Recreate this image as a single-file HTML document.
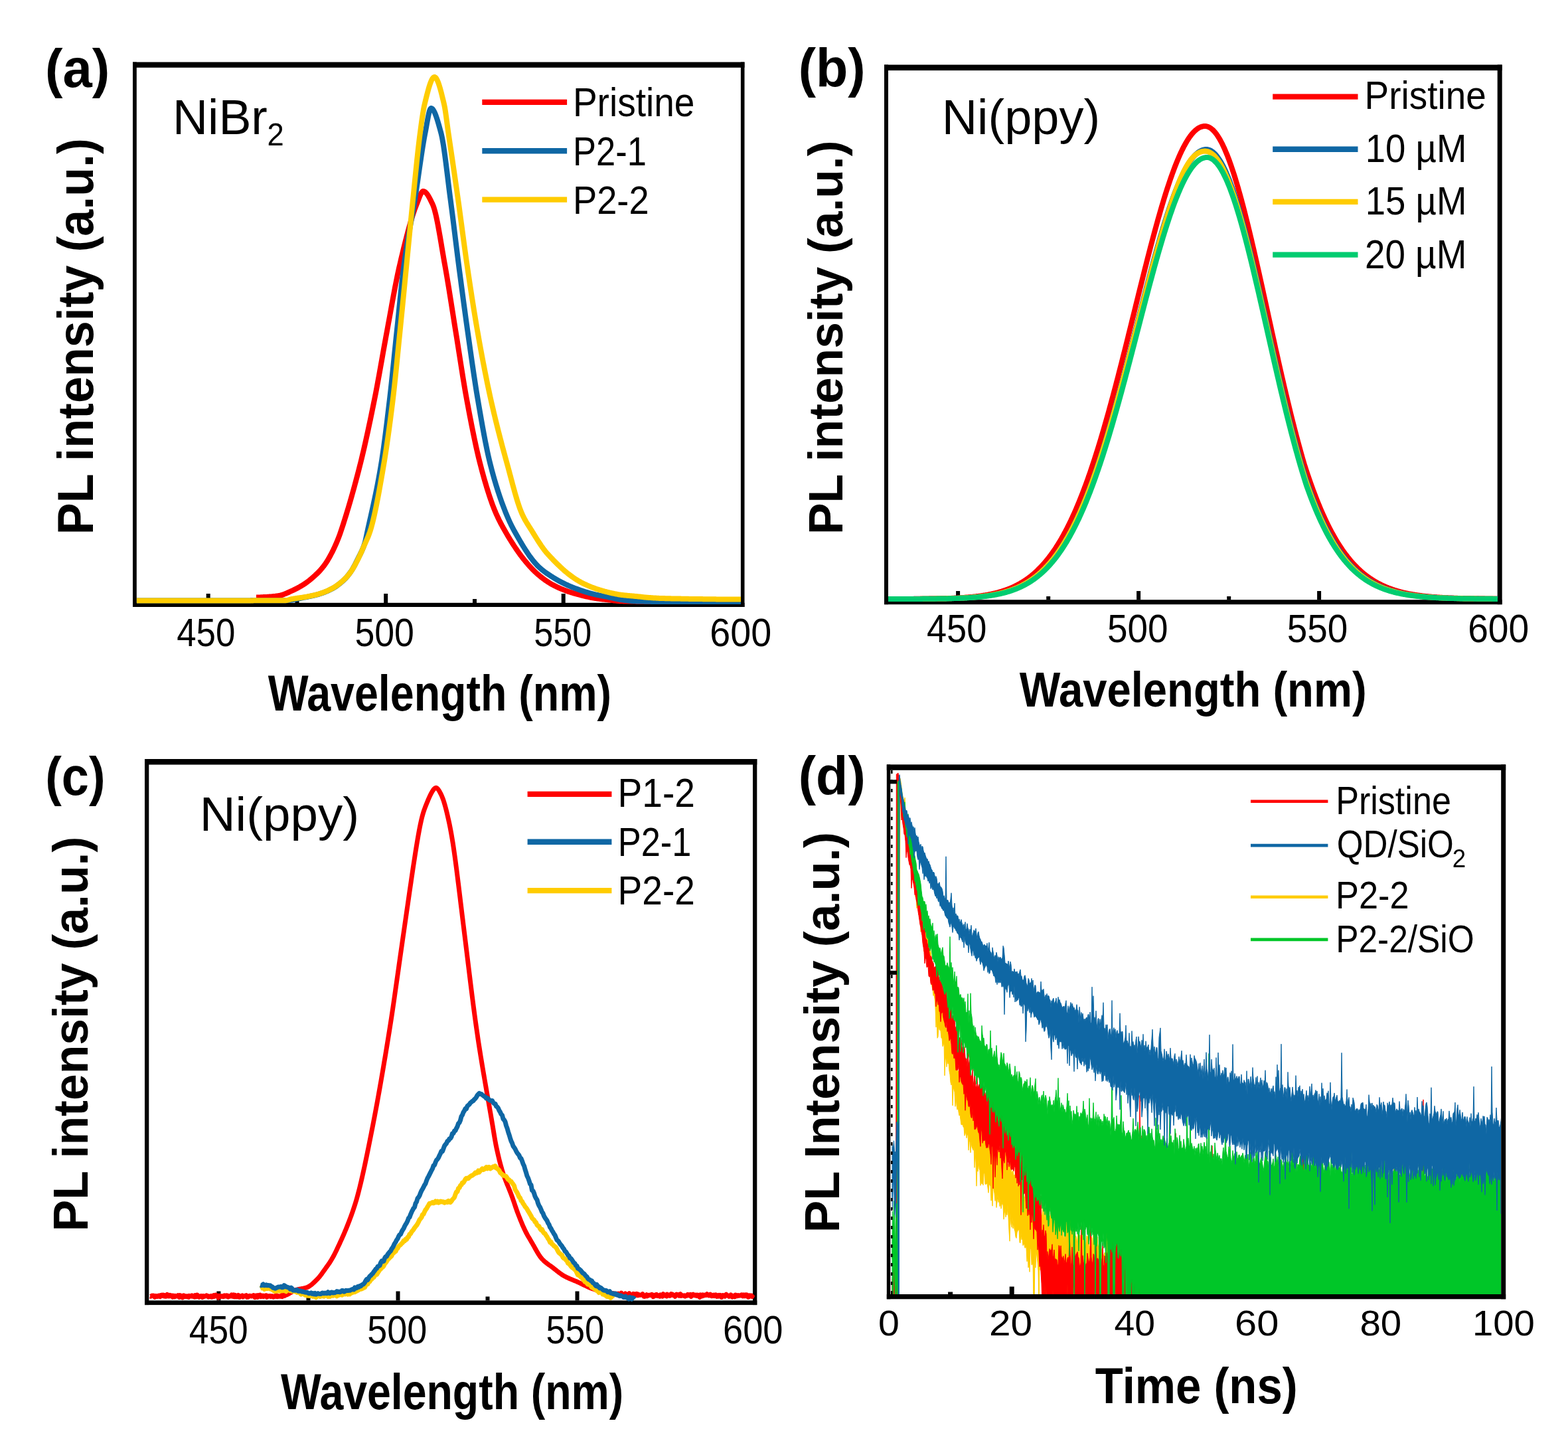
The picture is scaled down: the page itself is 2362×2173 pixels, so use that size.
<!DOCTYPE html>
<html><head><meta charset="utf-8"><title>PL spectra figure</title><style>html,body{margin:0;padding:0;background:#fff;}svg{display:block;}</style></head><body>
<svg width="2362" height="2173" viewBox="0 0 2362 2173" font-family='"Liberation Sans", Arial, sans-serif' font-size="100"><rect x="200.00" y="93.50" width="921.50" height="8.30" fill="#000"/>
<rect x="200.00" y="907.80" width="921.50" height="6.20" fill="#000"/>
<rect x="200.00" y="93.50" width="5.80" height="820.50" fill="#000"/>
<rect x="1115.90" y="93.50" width="5.60" height="820.50" fill="#000"/>
<rect x="310.70" y="894.00" width="6.00" height="14.50" fill="#000"/>
<rect x="578.20" y="894.00" width="6.00" height="14.50" fill="#000"/>
<rect x="845.70" y="894.00" width="6.00" height="14.50" fill="#000"/>
<rect x="444.50" y="902.00" width="6.00" height="6.50" fill="#000"/>
<rect x="712.00" y="902.00" width="6.00" height="6.50" fill="#000"/>
<path d="M386.0 899.5 L387.0 899.5 L388.0 899.5 L389.0 899.4 L390.0 899.4 L391.0 899.4 L392.0 899.4 L393.0 899.3 L394.0 899.3 L395.0 899.2 L396.0 899.2 L397.0 899.1 L398.0 899.1 L399.0 899.1 L400.0 899.0 L401.0 898.9 L402.0 898.9 L403.0 898.8 L404.0 898.8 L405.0 898.7 L406.0 898.6 L407.0 898.6 L408.0 898.5 L409.0 898.4 L410.0 898.3 L411.0 898.2 L412.0 898.1 L413.0 898.0 L414.0 897.9 L415.0 897.8 L416.0 897.6 L417.0 897.5 L418.0 897.4 L419.0 897.2 L420.0 897.1 L421.0 896.9 L422.0 896.7 L423.0 896.5 L424.0 896.2 L425.0 895.9 L426.0 895.6 L427.0 895.2 L428.0 894.8 L429.0 894.4 L430.0 894.0 L431.0 893.6 L432.0 893.2 L433.0 892.7 L434.0 892.3 L435.0 891.8 L436.0 891.3 L437.0 890.9 L438.0 890.4 L439.0 890.0 L440.0 889.5 L441.0 889.1 L442.0 888.6 L443.0 888.1 L444.0 887.6 L445.0 887.1 L446.0 886.6 L447.0 886.1 L448.0 885.6 L449.0 885.1 L450.0 884.5 L451.0 884.0 L452.0 883.4 L453.0 882.8 L454.0 882.2 L455.0 881.6 L456.0 881.0 L457.0 880.4 L458.0 879.7 L459.0 879.1 L460.0 878.4 L461.0 877.7 L462.0 877.0 L463.0 876.3 L464.0 875.5 L465.0 874.8 L466.0 874.0 L467.0 873.2 L468.0 872.4 L469.0 871.5 L470.0 870.7 L471.0 869.8 L472.0 868.9 L473.0 868.0 L474.0 867.1 L475.0 866.2 L476.0 865.2 L477.0 864.3 L478.0 863.3 L479.0 862.3 L480.0 861.3 L481.0 860.3 L482.0 859.2 L483.0 858.1 L484.0 856.9 L485.0 855.8 L486.0 854.5 L487.0 853.3 L488.0 852.0 L489.0 850.6 L490.0 849.2 L491.0 847.8 L492.0 846.2 L493.0 844.7 L494.0 843.0 L495.0 841.3 L496.0 839.6 L497.0 837.8 L498.0 835.9 L499.0 834.0 L500.0 832.1 L501.0 830.2 L502.0 828.1 L503.0 826.0 L504.0 823.9 L505.0 821.7 L506.0 819.4 L507.0 817.1 L508.0 814.7 L509.0 812.2 L510.0 809.7 L511.0 807.1 L512.0 804.4 L513.0 801.5 L514.0 798.5 L515.0 795.5 L516.0 792.5 L517.0 789.4 L518.0 786.3 L519.0 783.1 L520.0 779.9 L521.0 776.7 L522.0 773.5 L523.0 770.2 L524.0 766.9 L525.0 763.6 L526.0 760.2 L527.0 756.8 L528.0 753.3 L529.0 749.9 L530.0 746.4 L531.0 742.8 L532.0 739.2 L533.0 735.6 L534.0 732.0 L535.0 728.3 L536.0 724.6 L537.0 720.8 L538.0 717.1 L539.0 713.2 L540.0 709.4 L541.0 705.5 L542.0 701.6 L543.0 697.6 L544.0 693.6 L545.0 689.5 L546.0 685.3 L547.0 681.1 L548.0 676.8 L549.0 672.5 L550.0 668.1 L551.0 663.7 L552.0 659.2 L553.0 654.6 L554.0 650.1 L555.0 645.4 L556.0 640.7 L557.0 636.0 L558.0 631.3 L559.0 626.5 L560.0 621.6 L561.0 616.8 L562.0 611.9 L563.0 606.9 L564.0 602.0 L565.0 597.0 L566.0 591.9 L567.0 586.7 L568.0 581.4 L569.0 576.0 L570.0 570.6 L571.0 565.1 L572.0 559.5 L573.0 553.9 L574.0 548.3 L575.0 542.7 L576.0 537.0 L577.0 531.4 L578.0 525.8 L579.0 520.2 L580.0 514.7 L581.0 509.2 L582.0 503.8 L583.0 498.4 L584.0 493.0 L585.0 487.6 L586.0 482.1 L587.0 476.6 L588.0 471.1 L589.0 465.6 L590.0 460.0 L591.0 454.6 L592.0 449.1 L593.0 443.7 L594.0 438.4 L595.0 433.1 L596.0 428.0 L597.0 422.9 L598.0 418.0 L599.0 413.1 L600.0 408.5 L601.0 403.9 L602.0 399.6 L603.0 395.3 L604.0 391.0 L605.0 386.8 L606.0 382.6 L607.0 378.5 L608.0 374.3 L609.0 370.3 L610.0 366.3 L611.0 362.3 L612.0 358.4 L613.0 354.5 L614.0 350.7 L615.0 347.0 L616.0 343.4 L617.0 339.8 L618.0 336.3 L619.0 332.9 L620.0 329.6 L621.0 326.4 L622.0 323.2 L623.0 320.2 L624.0 317.3 L625.0 314.5 L626.0 311.8 L627.0 309.2 L628.0 306.8 L629.0 304.1 L630.0 301.5 L631.0 298.8 L632.0 296.2 L633.0 293.9 L634.0 291.8 L635.0 290.1 L636.0 288.8 L637.0 288.1 L638.0 288.0 L639.0 288.3 L640.0 288.8 L641.0 289.6 L642.0 290.6 L643.0 291.8 L644.0 293.1 L645.0 294.7 L646.0 296.4 L647.0 298.2 L648.0 300.1 L649.0 302.1 L650.0 304.2 L651.0 306.3 L652.0 308.4 L653.0 311.0 L654.0 314.0 L655.0 317.5 L656.0 321.4 L657.0 325.7 L658.0 330.3 L659.0 335.3 L660.0 340.5 L661.0 345.9 L662.0 351.6 L663.0 357.3 L664.0 363.2 L665.0 369.1 L666.0 375.1 L667.0 381.0 L668.0 386.9 L669.0 392.7 L670.0 398.3 L671.0 403.9 L672.0 409.6 L673.0 415.4 L674.0 421.3 L675.0 427.3 L676.0 433.4 L677.0 439.6 L678.0 445.9 L679.0 452.1 L680.0 458.5 L681.0 464.8 L682.0 471.1 L683.0 477.5 L684.0 483.8 L685.0 490.1 L686.0 496.3 L687.0 502.5 L688.0 508.7 L689.0 515.0 L690.0 521.4 L691.0 527.8 L692.0 534.2 L693.0 540.6 L694.0 547.0 L695.0 553.4 L696.0 559.7 L697.0 566.0 L698.0 572.1 L699.0 578.2 L700.0 584.2 L701.0 590.0 L702.0 595.6 L703.0 601.1 L704.0 606.5 L705.0 611.8 L706.0 617.2 L707.0 622.4 L708.0 627.7 L709.0 632.8 L710.0 638.0 L711.0 643.0 L712.0 648.0 L713.0 652.9 L714.0 657.8 L715.0 662.5 L716.0 667.2 L717.0 671.8 L718.0 676.3 L719.0 680.7 L720.0 685.0 L721.0 689.2 L722.0 693.3 L723.0 697.3 L724.0 701.1 L725.0 704.9 L726.0 708.7 L727.0 712.4 L728.0 716.0 L729.0 719.6 L730.0 723.1 L731.0 726.5 L732.0 729.9 L733.0 733.3 L734.0 736.5 L735.0 739.7 L736.0 742.9 L737.0 746.0 L738.0 749.0 L739.0 751.9 L740.0 754.8 L741.0 757.6 L742.0 760.3 L743.0 762.9 L744.0 765.5 L745.0 768.0 L746.0 770.4 L747.0 772.8 L748.0 775.0 L749.0 777.2 L750.0 779.4 L751.0 781.4 L752.0 783.5 L753.0 785.4 L754.0 787.4 L755.0 789.3 L756.0 791.1 L757.0 793.0 L758.0 794.8 L759.0 796.5 L760.0 798.3 L761.0 800.0 L762.0 801.8 L763.0 803.5 L764.0 805.2 L765.0 806.9 L766.0 808.6 L767.0 810.2 L768.0 811.9 L769.0 813.5 L770.0 815.1 L771.0 816.7 L772.0 818.3 L773.0 819.8 L774.0 821.4 L775.0 822.9 L776.0 824.4 L777.0 825.9 L778.0 827.3 L779.0 828.8 L780.0 830.2 L781.0 831.6 L782.0 833.0 L783.0 834.4 L784.0 835.8 L785.0 837.1 L786.0 838.4 L787.0 839.7 L788.0 841.0 L789.0 842.3 L790.0 843.5 L791.0 844.7 L792.0 845.9 L793.0 847.1 L794.0 848.3 L795.0 849.5 L796.0 850.6 L797.0 851.7 L798.0 852.9 L799.0 853.9 L800.0 855.0 L801.0 856.1 L802.0 857.1 L803.0 858.2 L804.0 859.2 L805.0 860.1 L806.0 861.1 L807.0 862.0 L808.0 863.0 L809.0 863.9 L810.0 864.7 L811.0 865.6 L812.0 866.4 L813.0 867.2 L814.0 868.1 L815.0 868.9 L816.0 869.6 L817.0 870.4 L818.0 871.2 L819.0 871.9 L820.0 872.7 L821.0 873.4 L822.0 874.1 L823.0 874.8 L824.0 875.4 L825.0 876.1 L826.0 876.8 L827.0 877.4 L828.0 878.0 L829.0 878.6 L830.0 879.2 L831.0 879.8 L832.0 880.3 L833.0 880.9 L834.0 881.4 L835.0 881.9 L836.0 882.4 L837.0 882.9 L838.0 883.4 L839.0 883.9 L840.0 884.4 L841.0 884.8 L842.0 885.3 L843.0 885.7 L844.0 886.2 L845.0 886.6 L846.0 887.0 L847.0 887.4 L848.0 887.8 L849.0 888.2 L850.0 888.6 L851.0 889.0 L852.0 889.3 L853.0 889.7 L854.0 890.1 L855.0 890.4 L856.0 890.8 L857.0 891.1 L858.0 891.4 L859.0 891.7 L860.0 892.1 L861.0 892.4 L862.0 892.7 L863.0 893.0 L864.0 893.3 L865.0 893.6 L866.0 893.8 L867.0 894.1 L868.0 894.4 L869.0 894.7 L870.0 895.0 L871.0 895.2 L872.0 895.5 L873.0 895.7 L874.0 896.0 L875.0 896.3 L876.0 896.5 L877.0 896.8 L878.0 897.0 L879.0 897.3 L880.0 897.5 L881.0 897.8 L882.0 898.0 L883.0 898.3 L884.0 898.5 L885.0 898.7 L886.0 898.9 L887.0 899.2 L888.0 899.4 L889.0 899.6 L890.0 899.8 L891.0 900.0 L892.0 900.2 L893.0 900.3 L894.0 900.5 L895.0 900.7 L896.0 900.8 L897.0 901.0 L898.0 901.1 L899.0 901.3 L900.0 901.4 L901.0 901.5 L902.0 901.7 L903.0 901.8 L904.0 901.9 L905.0 902.0 L906.0 902.2 L907.0 902.3 L908.0 902.4 L909.0 902.5 L910.0 902.6 L911.0 902.7 L912.0 902.8 L913.0 902.9 L914.0 903.0 L915.0 903.2 L916.0 903.3 L917.0 903.4 L918.0 903.5 L919.0 903.6 L920.0 903.8 L921.0 903.9 L922.0 904.0 L923.0 904.1 L924.0 904.3 L925.0 904.4 L926.0 904.5 L927.0 904.6 L928.0 904.7 L929.0 904.8 L930.0 904.9 L931.0 905.0 L932.0 905.1 L933.0 905.2 L934.0 905.2 L935.0 905.3 L936.0 905.3 L937.0 905.3 L938.0 905.3 L939.0 905.4 L940.0 905.4 L941.0 905.4 L942.0 905.4 L943.0 905.4 L944.0 905.5 L945.0 905.5 L946.0 905.5 L947.0 905.5 L948.0 905.5 L949.0 905.5 L950.0 905.6 L951.0 905.6 L952.0 905.6 L953.0 905.6 L954.0 905.6 L955.0 905.6 L956.0 905.6 L957.0 905.6 L958.0 905.7 L959.0 905.7 L960.0 905.7 L961.0 905.7 L962.0 905.7 L963.0 905.7 L964.0 905.7 L965.0 905.7 L966.0 905.7 L967.0 905.7 L968.0 905.7 L969.0 905.7 L970.0 905.8 L971.0 905.8 L972.0 905.8 L973.0 905.8 L974.0 905.8 L975.0 905.8 L976.0 905.8 L977.0 905.8 L978.0 905.8 L979.0 905.8 L980.0 905.8 L981.0 905.8 L982.0 905.8 L983.0 905.8 L984.0 905.8 L985.0 905.8 L986.0 905.8 L987.0 905.8 L988.0 905.8 L989.0 905.8 L990.0 905.8 L991.0 905.8 L992.0 905.8 L993.0 905.8 L994.0 905.8 L995.0 905.8 L996.0 905.8 L997.0 905.8 L998.0 905.9 L999.0 905.9 L1000.0 905.9 L1001.0 905.9 L1002.0 905.9 L1003.0 905.9 L1004.0 905.9 L1005.0 905.9 L1006.0 905.9 L1007.0 905.9 L1008.0 905.9 L1009.0 905.9 L1010.0 905.9 L1011.0 905.9 L1012.0 905.9 L1013.0 905.9 L1014.0 905.9 L1015.0 905.9 L1016.0 905.9 L1017.0 905.9 L1018.0 905.9 L1019.0 905.9 L1020.0 905.9 L1021.0 905.9 L1022.0 905.9 L1023.0 905.9 L1024.0 905.9 L1025.0 905.9 L1026.0 905.9 L1027.0 905.9 L1028.0 905.9 L1029.0 905.9 L1030.0 905.9 L1031.0 905.9 L1032.0 905.9 L1033.0 905.9 L1034.0 905.9 L1035.0 905.9 L1036.0 905.9 L1037.0 905.9 L1038.0 905.9 L1039.0 905.9 L1040.0 905.9 L1041.0 905.9 L1042.0 905.9 L1043.0 905.9 L1044.0 905.9 L1045.0 905.9 L1046.0 905.9 L1047.0 905.9 L1048.0 906.0 L1049.0 906.0 L1050.0 906.0 L1051.0 906.0 L1052.0 906.0 L1053.0 906.0 L1054.0 906.0 L1055.0 906.0 L1056.0 906.0 L1057.0 906.0 L1058.0 906.0 L1059.0 906.0 L1060.0 906.0 L1061.0 906.0 L1062.0 906.0 L1063.0 906.0 L1064.0 906.0 L1065.0 906.0 L1066.0 906.0 L1067.0 906.0 L1068.0 906.0 L1069.0 906.0 L1070.0 906.0 L1071.0 906.0 L1072.0 906.0 L1073.0 906.0 L1074.0 906.0 L1075.0 906.0 L1076.0 906.0 L1077.0 906.0 L1078.0 906.0 L1079.0 906.0 L1080.0 906.0 L1081.0 906.0 L1082.0 906.0 L1083.0 906.0 L1084.0 906.0 L1085.0 906.0 L1086.0 906.0 L1087.0 906.0 L1088.0 906.0 L1089.0 906.0 L1090.0 906.0 L1091.0 906.0 L1092.0 906.0 L1093.0 906.0 L1094.0 906.0 L1095.0 906.0 L1096.0 906.0 L1097.0 906.0 L1098.0 906.0 L1099.0 906.0 L1100.0 906.0 L1101.0 906.0 L1102.0 906.0 L1103.0 906.0 L1104.0 906.0 L1105.0 906.0 L1106.0 906.0 L1107.0 906.0 L1108.0 906.0 L1109.0 906.0 L1110.0 906.0 L1111.0 906.0 L1112.0 906.0 L1113.0 906.0 L1114.0 906.0 L1115.0 906.0 L1116.0 906.0" fill="none" stroke="#FF0000" stroke-width="8" stroke-linejoin="round" stroke-linecap="butt"/>
<path d="M206.0 904.5 L207.0 904.5 L208.0 904.5 L209.0 904.5 L210.0 904.5 L211.0 904.5 L212.0 904.5 L213.0 904.5 L214.0 904.5 L215.0 904.5 L216.0 904.5 L217.0 904.5 L218.0 904.5 L219.0 904.5 L220.0 904.5 L221.0 904.5 L222.0 904.5 L223.0 904.5 L224.0 904.5 L225.0 904.5 L226.0 904.5 L227.0 904.5 L228.0 904.5 L229.0 904.5 L230.0 904.5 L231.0 904.5 L232.0 904.5 L233.0 904.5 L234.0 904.5 L235.0 904.5 L236.0 904.5 L237.0 904.5 L238.0 904.5 L239.0 904.5 L240.0 904.5 L241.0 904.5 L242.0 904.5 L243.0 904.5 L244.0 904.5 L245.0 904.5 L246.0 904.5 L247.0 904.5 L248.0 904.5 L249.0 904.5 L250.0 904.5 L251.0 904.5 L252.0 904.5 L253.0 904.5 L254.0 904.5 L255.0 904.5 L256.0 904.5 L257.0 904.5 L258.0 904.5 L259.0 904.5 L260.0 904.5 L261.0 904.5 L262.0 904.5 L263.0 904.5 L264.0 904.5 L265.0 904.5 L266.0 904.5 L267.0 904.5 L268.0 904.5 L269.0 904.5 L270.0 904.5 L271.0 904.5 L272.0 904.5 L273.0 904.5 L274.0 904.5 L275.0 904.5 L276.0 904.5 L277.0 904.5 L278.0 904.5 L279.0 904.5 L280.0 904.5 L281.0 904.5 L282.0 904.5 L283.0 904.5 L284.0 904.5 L285.0 904.5 L286.0 904.5 L287.0 904.5 L288.0 904.5 L289.0 904.5 L290.0 904.5 L291.0 904.5 L292.0 904.5 L293.0 904.5 L294.0 904.5 L295.0 904.5 L296.0 904.5 L297.0 904.5 L298.0 904.5 L299.0 904.5 L300.0 904.5 L301.0 904.5 L302.0 904.5 L303.0 904.5 L304.0 904.5 L305.0 904.5 L306.0 904.5 L307.0 904.5 L308.0 904.5 L309.0 904.5 L310.0 904.5 L311.0 904.5 L312.0 904.5 L313.0 904.5 L314.0 904.5 L315.0 904.5 L316.0 904.5 L317.0 904.5 L318.0 904.4 L319.0 904.4 L320.0 904.4 L321.0 904.4 L322.0 904.4 L323.0 904.4 L324.0 904.4 L325.0 904.4 L326.0 904.4 L327.0 904.4 L328.0 904.4 L329.0 904.4 L330.0 904.4 L331.0 904.4 L332.0 904.4 L333.0 904.4 L334.0 904.4 L335.0 904.4 L336.0 904.4 L337.0 904.4 L338.0 904.4 L339.0 904.4 L340.0 904.4 L341.0 904.4 L342.0 904.4 L343.0 904.4 L344.0 904.4 L345.0 904.4 L346.0 904.4 L347.0 904.4 L348.0 904.4 L349.0 904.4 L350.0 904.4 L351.0 904.4 L352.0 904.4 L353.0 904.4 L354.0 904.4 L355.0 904.4 L356.0 904.4 L357.0 904.4 L358.0 904.4 L359.0 904.4 L360.0 904.4 L361.0 904.4 L362.0 904.4 L363.0 904.4 L364.0 904.4 L365.0 904.4 L366.0 904.4 L367.0 904.4 L368.0 904.4 L369.0 904.4 L370.0 904.4 L371.0 904.4 L372.0 904.4 L373.0 904.4 L374.0 904.4 L375.0 904.4 L376.0 904.4 L377.0 904.4 L378.0 904.3 L379.0 904.3 L380.0 904.3 L381.0 904.3 L382.0 904.3 L383.0 904.3 L384.0 904.3 L385.0 904.3 L386.0 904.3 L387.0 904.3 L388.0 904.3 L389.0 904.3 L390.0 904.3 L391.0 904.3 L392.0 904.3 L393.0 904.3 L394.0 904.3 L395.0 904.3 L396.0 904.3 L397.0 904.3 L398.0 904.3 L399.0 904.3 L400.0 904.3 L401.0 904.3 L402.0 904.3 L403.0 904.3 L404.0 904.3 L405.0 904.3 L406.0 904.3 L407.0 904.3 L408.0 904.3 L409.0 904.3 L410.0 904.3 L411.0 904.3 L412.0 904.3 L413.0 904.3 L414.0 904.3 L415.0 904.3 L416.0 904.2 L417.0 904.2 L418.0 904.2 L419.0 904.2 L420.0 904.2 L421.0 904.2 L422.0 904.2 L423.0 904.2 L424.0 904.2 L425.0 904.2 L426.0 904.2 L427.0 904.2 L428.0 904.2 L429.0 904.2 L430.0 904.2 L431.0 904.2 L432.0 904.2 L433.0 904.1 L434.0 904.0 L435.0 904.0 L436.0 903.9 L437.0 903.8 L438.0 903.6 L439.0 903.5 L440.0 903.3 L441.0 903.2 L442.0 903.0 L443.0 902.8 L444.0 902.7 L445.0 902.5 L446.0 902.3 L447.0 902.1 L448.0 901.9 L449.0 901.6 L450.0 901.4 L451.0 901.2 L452.0 901.0 L453.0 900.8 L454.0 900.6 L455.0 900.4 L456.0 900.1 L457.0 899.9 L458.0 899.7 L459.0 899.5 L460.0 899.3 L461.0 899.2 L462.0 899.0 L463.0 898.8 L464.0 898.6 L465.0 898.4 L466.0 898.2 L467.0 898.0 L468.0 897.7 L469.0 897.5 L470.0 897.3 L471.0 897.1 L472.0 896.9 L473.0 896.6 L474.0 896.4 L475.0 896.1 L476.0 895.9 L477.0 895.6 L478.0 895.4 L479.0 895.1 L480.0 894.8 L481.0 894.5 L482.0 894.2 L483.0 893.9 L484.0 893.5 L485.0 893.2 L486.0 892.8 L487.0 892.5 L488.0 892.1 L489.0 891.7 L490.0 891.3 L491.0 890.9 L492.0 890.5 L493.0 890.1 L494.0 889.6 L495.0 889.2 L496.0 888.7 L497.0 888.2 L498.0 887.7 L499.0 887.2 L500.0 886.7 L501.0 886.1 L502.0 885.6 L503.0 885.0 L504.0 884.4 L505.0 883.7 L506.0 883.1 L507.0 882.4 L508.0 881.7 L509.0 880.9 L510.0 880.2 L511.0 879.4 L512.0 878.6 L513.0 877.8 L514.0 876.9 L515.0 876.1 L516.0 875.2 L517.0 874.3 L518.0 873.3 L519.0 872.4 L520.0 871.4 L521.0 870.4 L522.0 869.3 L523.0 868.1 L524.0 866.9 L525.0 865.6 L526.0 864.3 L527.0 863.0 L528.0 861.6 L529.0 860.1 L530.0 858.6 L531.0 857.0 L532.0 855.3 L533.0 853.5 L534.0 851.7 L535.0 849.8 L536.0 847.8 L537.0 845.9 L538.0 843.8 L539.0 841.8 L540.0 839.8 L541.0 837.8 L542.0 835.9 L543.0 833.9 L544.0 831.8 L545.0 829.7 L546.0 827.4 L547.0 825.0 L548.0 822.3 L549.0 819.4 L550.0 816.1 L551.0 811.8 L552.0 807.2 L553.0 802.3 L554.0 797.7 L555.0 793.2 L556.0 788.7 L557.0 784.2 L558.0 779.8 L559.0 775.3 L560.0 770.9 L561.0 766.4 L562.0 761.8 L563.0 757.2 L564.0 752.6 L565.0 747.9 L566.0 743.1 L567.0 738.2 L568.0 733.2 L569.0 728.0 L570.0 722.7 L571.0 717.3 L572.0 711.7 L573.0 706.0 L574.0 700.0 L575.0 693.8 L576.0 687.2 L577.0 680.4 L578.0 673.3 L579.0 665.9 L580.0 658.3 L581.0 650.5 L582.0 642.5 L583.0 634.4 L584.0 626.1 L585.0 617.8 L586.0 609.3 L587.0 600.9 L588.0 592.2 L589.0 583.2 L590.0 573.8 L591.0 564.3 L592.0 554.6 L593.0 544.8 L594.0 534.9 L595.0 525.1 L596.0 515.3 L597.0 505.7 L598.0 496.2 L599.0 486.6 L600.0 476.8 L601.0 467.0 L602.0 457.1 L603.0 447.3 L604.0 437.7 L605.0 428.4 L606.0 419.5 L607.0 411.0 L608.0 403.0 L609.0 395.6 L610.0 388.6 L611.0 381.8 L612.0 375.4 L613.0 369.2 L614.0 363.1 L615.0 357.3 L616.0 351.5 L617.0 345.9 L618.0 340.3 L619.0 334.7 L620.0 329.2 L621.0 323.6 L622.0 317.9 L623.0 312.1 L624.0 306.1 L625.0 300.0 L626.0 293.7 L627.0 287.1 L628.0 280.4 L629.0 273.6 L630.0 266.7 L631.0 259.7 L632.0 252.8 L633.0 245.9 L634.0 239.1 L635.0 232.4 L636.0 225.9 L637.0 219.7 L638.0 213.6 L639.0 207.9 L640.0 202.5 L641.0 197.4 L642.0 192.0 L643.0 186.3 L644.0 180.8 L645.0 175.5 L646.0 170.8 L647.0 167.0 L648.0 164.4 L649.0 163.1 L650.0 163.1 L651.0 163.7 L652.0 164.7 L653.0 166.1 L654.0 167.9 L655.0 170.0 L656.0 172.5 L657.0 175.2 L658.0 178.1 L659.0 181.3 L660.0 184.6 L661.0 188.0 L662.0 191.6 L663.0 195.2 L664.0 198.9 L665.0 202.8 L666.0 207.5 L667.0 212.9 L668.0 218.9 L669.0 225.6 L670.0 232.7 L671.0 240.2 L672.0 248.0 L673.0 256.0 L674.0 264.1 L675.0 272.3 L676.0 280.4 L677.0 288.4 L678.0 296.2 L679.0 303.8 L680.0 311.4 L681.0 319.2 L682.0 327.1 L683.0 335.1 L684.0 343.2 L685.0 351.3 L686.0 359.4 L687.0 367.5 L688.0 375.6 L689.0 383.6 L690.0 391.5 L691.0 399.2 L692.0 406.9 L693.0 414.5 L694.0 422.1 L695.0 429.7 L696.0 437.2 L697.0 444.7 L698.0 452.2 L699.0 459.6 L700.0 466.9 L701.0 474.2 L702.0 481.5 L703.0 488.6 L704.0 495.8 L705.0 502.8 L706.0 509.9 L707.0 516.9 L708.0 524.0 L709.0 531.0 L710.0 538.0 L711.0 545.0 L712.0 551.8 L713.0 558.6 L714.0 565.3 L715.0 571.9 L716.0 578.4 L717.0 584.8 L718.0 591.0 L719.0 597.0 L720.0 602.9 L721.0 608.8 L722.0 614.6 L723.0 620.4 L724.0 626.2 L725.0 631.9 L726.0 637.5 L727.0 643.1 L728.0 648.5 L729.0 653.9 L730.0 659.2 L731.0 664.4 L732.0 669.4 L733.0 674.4 L734.0 679.2 L735.0 683.8 L736.0 688.3 L737.0 692.6 L738.0 696.8 L739.0 700.8 L740.0 704.6 L741.0 708.4 L742.0 712.1 L743.0 715.8 L744.0 719.3 L745.0 722.8 L746.0 726.2 L747.0 729.6 L748.0 732.8 L749.0 736.0 L750.0 739.2 L751.0 742.2 L752.0 745.3 L753.0 748.2 L754.0 751.1 L755.0 754.0 L756.0 756.8 L757.0 759.5 L758.0 762.2 L759.0 764.8 L760.0 767.4 L761.0 770.0 L762.0 772.5 L763.0 774.9 L764.0 777.3 L765.0 779.6 L766.0 781.9 L767.0 784.1 L768.0 786.3 L769.0 788.4 L770.0 790.5 L771.0 792.5 L772.0 794.4 L773.0 796.3 L774.0 798.2 L775.0 800.0 L776.0 801.8 L777.0 803.6 L778.0 805.3 L779.0 807.1 L780.0 808.8 L781.0 810.6 L782.0 812.3 L783.0 814.0 L784.0 815.7 L785.0 817.4 L786.0 819.1 L787.0 820.7 L788.0 822.4 L789.0 824.0 L790.0 825.6 L791.0 827.2 L792.0 828.7 L793.0 830.3 L794.0 831.8 L795.0 833.3 L796.0 834.7 L797.0 836.2 L798.0 837.6 L799.0 839.0 L800.0 840.3 L801.0 841.6 L802.0 842.9 L803.0 844.2 L804.0 845.4 L805.0 846.6 L806.0 847.8 L807.0 848.9 L808.0 850.0 L809.0 851.1 L810.0 852.1 L811.0 853.1 L812.0 854.0 L813.0 855.0 L814.0 855.9 L815.0 856.7 L816.0 857.6 L817.0 858.4 L818.0 859.2 L819.0 860.0 L820.0 860.7 L821.0 861.5 L822.0 862.2 L823.0 862.9 L824.0 863.6 L825.0 864.3 L826.0 864.9 L827.0 865.6 L828.0 866.3 L829.0 866.9 L830.0 867.6 L831.0 868.2 L832.0 868.8 L833.0 869.5 L834.0 870.1 L835.0 870.7 L836.0 871.3 L837.0 871.9 L838.0 872.5 L839.0 873.1 L840.0 873.6 L841.0 874.2 L842.0 874.8 L843.0 875.3 L844.0 875.9 L845.0 876.4 L846.0 876.9 L847.0 877.4 L848.0 877.9 L849.0 878.4 L850.0 878.9 L851.0 879.4 L852.0 879.9 L853.0 880.3 L854.0 880.8 L855.0 881.2 L856.0 881.7 L857.0 882.1 L858.0 882.5 L859.0 883.0 L860.0 883.4 L861.0 883.8 L862.0 884.2 L863.0 884.6 L864.0 885.0 L865.0 885.4 L866.0 885.8 L867.0 886.1 L868.0 886.5 L869.0 886.9 L870.0 887.2 L871.0 887.6 L872.0 887.9 L873.0 888.3 L874.0 888.6 L875.0 889.0 L876.0 889.3 L877.0 889.7 L878.0 890.0 L879.0 890.3 L880.0 890.6 L881.0 891.0 L882.0 891.3 L883.0 891.6 L884.0 891.9 L885.0 892.2 L886.0 892.5 L887.0 892.8 L888.0 893.1 L889.0 893.4 L890.0 893.6 L891.0 893.9 L892.0 894.2 L893.0 894.4 L894.0 894.7 L895.0 894.9 L896.0 895.2 L897.0 895.4 L898.0 895.6 L899.0 895.8 L900.0 896.0 L901.0 896.2 L902.0 896.4 L903.0 896.6 L904.0 896.8 L905.0 897.0 L906.0 897.2 L907.0 897.4 L908.0 897.6 L909.0 897.8 L910.0 898.0 L911.0 898.1 L912.0 898.3 L913.0 898.5 L914.0 898.7 L915.0 898.9 L916.0 899.1 L917.0 899.3 L918.0 899.5 L919.0 899.8 L920.0 900.0 L921.0 900.2 L922.0 900.4 L923.0 900.6 L924.0 900.9 L925.0 901.1 L926.0 901.3 L927.0 901.5 L928.0 901.7 L929.0 901.9 L930.0 902.1 L931.0 902.3 L932.0 902.5 L933.0 902.7 L934.0 902.9 L935.0 903.0 L936.0 903.2 L937.0 903.3 L938.0 903.4 L939.0 903.6 L940.0 903.7 L941.0 903.8 L942.0 904.0 L943.0 904.1 L944.0 904.2 L945.0 904.3 L946.0 904.4 L947.0 904.5 L948.0 904.7 L949.0 904.8 L950.0 904.8 L951.0 904.9 L952.0 905.0 L953.0 905.1 L954.0 905.2 L955.0 905.2 L956.0 905.3 L957.0 905.3 L958.0 905.3 L959.0 905.4 L960.0 905.4 L961.0 905.4 L962.0 905.4 L963.0 905.5 L964.0 905.5 L965.0 905.5 L966.0 905.5 L967.0 905.6 L968.0 905.6 L969.0 905.6 L970.0 905.6 L971.0 905.7 L972.0 905.7 L973.0 905.7 L974.0 905.7 L975.0 905.7 L976.0 905.8 L977.0 905.8 L978.0 905.8 L979.0 905.8 L980.0 905.8 L981.0 905.9 L982.0 905.9 L983.0 905.9 L984.0 905.9 L985.0 905.9 L986.0 905.9 L987.0 905.9 L988.0 905.9 L989.0 905.9 L990.0 906.0 L991.0 906.0 L992.0 906.0 L993.0 906.0 L994.0 906.0 L995.0 906.0 L996.0 906.0 L997.0 906.0 L998.0 906.0 L999.0 906.0 L1000.0 906.0 L1001.0 906.0 L1002.0 906.0 L1003.0 906.0 L1004.0 906.0 L1005.0 906.0 L1006.0 906.0 L1007.0 906.0 L1008.0 906.0 L1009.0 906.0 L1010.0 906.0 L1011.0 906.0 L1012.0 906.0 L1013.0 906.0 L1014.0 906.0 L1015.0 906.0 L1016.0 906.0 L1017.0 906.0 L1018.0 906.0 L1019.0 906.0 L1020.0 906.0 L1021.0 906.0 L1022.0 906.0 L1023.0 906.0 L1024.0 906.0 L1025.0 906.0 L1026.0 906.0 L1027.0 906.0 L1028.0 906.0 L1029.0 906.0 L1030.0 906.0 L1031.0 906.0 L1032.0 906.0 L1033.0 906.0 L1034.0 906.0 L1035.0 906.0 L1036.0 906.0 L1037.0 906.0 L1038.0 906.0 L1039.0 906.0 L1040.0 906.0 L1041.0 906.0 L1042.0 906.0 L1043.0 906.0 L1044.0 906.0 L1045.0 906.0 L1046.0 906.0 L1047.0 906.0 L1048.0 906.0 L1049.0 906.0 L1050.0 906.0 L1051.0 906.0 L1052.0 906.0 L1053.0 906.0 L1054.0 906.0 L1055.0 906.0 L1056.0 906.0 L1057.0 906.0 L1058.0 906.0 L1059.0 906.0 L1060.0 906.0 L1061.0 906.0 L1062.0 906.0 L1063.0 906.0 L1064.0 906.0 L1065.0 906.0 L1066.0 906.0 L1067.0 906.0 L1068.0 906.0 L1069.0 906.0 L1070.0 906.0 L1071.0 906.0 L1072.0 906.0 L1073.0 906.0 L1074.0 906.0 L1075.0 906.0 L1076.0 906.0 L1077.0 906.0 L1078.0 906.0 L1079.0 906.0 L1080.0 906.0 L1081.0 906.0 L1082.0 906.0 L1083.0 906.0 L1084.0 906.0 L1085.0 906.0 L1086.0 906.0 L1087.0 906.0 L1088.0 906.0 L1089.0 906.0 L1090.0 906.0 L1091.0 906.0 L1092.0 906.0 L1093.0 906.0 L1094.0 906.0 L1095.0 906.0 L1096.0 906.0 L1097.0 906.0 L1098.0 906.0 L1099.0 906.0 L1100.0 906.0 L1101.0 906.0 L1102.0 906.0 L1103.0 906.0 L1104.0 906.0 L1105.0 906.0 L1106.0 906.0 L1107.0 906.0 L1108.0 906.0 L1109.0 906.0 L1110.0 906.0 L1111.0 906.0 L1112.0 906.0 L1113.0 906.0 L1114.0 906.0 L1115.0 906.0 L1116.0 906.0" fill="none" stroke="#0F67A4" stroke-width="8" stroke-linejoin="round" stroke-linecap="butt"/>
<path d="M206.0 904.5 L207.0 904.5 L208.0 904.5 L209.0 904.5 L210.0 904.5 L211.0 904.5 L212.0 904.5 L213.0 904.5 L214.0 904.5 L215.0 904.5 L216.0 904.5 L217.0 904.5 L218.0 904.5 L219.0 904.5 L220.0 904.5 L221.0 904.5 L222.0 904.5 L223.0 904.5 L224.0 904.5 L225.0 904.5 L226.0 904.5 L227.0 904.5 L228.0 904.5 L229.0 904.5 L230.0 904.5 L231.0 904.5 L232.0 904.5 L233.0 904.5 L234.0 904.5 L235.0 904.5 L236.0 904.5 L237.0 904.5 L238.0 904.5 L239.0 904.5 L240.0 904.5 L241.0 904.5 L242.0 904.5 L243.0 904.5 L244.0 904.5 L245.0 904.5 L246.0 904.5 L247.0 904.5 L248.0 904.5 L249.0 904.5 L250.0 904.5 L251.0 904.5 L252.0 904.5 L253.0 904.5 L254.0 904.5 L255.0 904.5 L256.0 904.5 L257.0 904.5 L258.0 904.5 L259.0 904.5 L260.0 904.5 L261.0 904.5 L262.0 904.5 L263.0 904.5 L264.0 904.5 L265.0 904.5 L266.0 904.5 L267.0 904.5 L268.0 904.5 L269.0 904.5 L270.0 904.5 L271.0 904.5 L272.0 904.5 L273.0 904.5 L274.0 904.5 L275.0 904.5 L276.0 904.5 L277.0 904.5 L278.0 904.5 L279.0 904.5 L280.0 904.5 L281.0 904.5 L282.0 904.5 L283.0 904.5 L284.0 904.5 L285.0 904.5 L286.0 904.5 L287.0 904.5 L288.0 904.5 L289.0 904.5 L290.0 904.5 L291.0 904.5 L292.0 904.5 L293.0 904.5 L294.0 904.5 L295.0 904.5 L296.0 904.5 L297.0 904.5 L298.0 904.5 L299.0 904.5 L300.0 904.5 L301.0 904.5 L302.0 904.5 L303.0 904.5 L304.0 904.5 L305.0 904.5 L306.0 904.5 L307.0 904.5 L308.0 904.5 L309.0 904.5 L310.0 904.5 L311.0 904.5 L312.0 904.5 L313.0 904.5 L314.0 904.5 L315.0 904.5 L316.0 904.5 L317.0 904.5 L318.0 904.5 L319.0 904.5 L320.0 904.5 L321.0 904.5 L322.0 904.5 L323.0 904.5 L324.0 904.5 L325.0 904.4 L326.0 904.4 L327.0 904.4 L328.0 904.4 L329.0 904.4 L330.0 904.4 L331.0 904.4 L332.0 904.4 L333.0 904.4 L334.0 904.4 L335.0 904.4 L336.0 904.4 L337.0 904.4 L338.0 904.4 L339.0 904.4 L340.0 904.4 L341.0 904.4 L342.0 904.4 L343.0 904.4 L344.0 904.4 L345.0 904.4 L346.0 904.4 L347.0 904.4 L348.0 904.4 L349.0 904.4 L350.0 904.4 L351.0 904.4 L352.0 904.4 L353.0 904.4 L354.0 904.4 L355.0 904.4 L356.0 904.4 L357.0 904.4 L358.0 904.4 L359.0 904.4 L360.0 904.4 L361.0 904.4 L362.0 904.4 L363.0 904.4 L364.0 904.4 L365.0 904.4 L366.0 904.4 L367.0 904.4 L368.0 904.4 L369.0 904.4 L370.0 904.4 L371.0 904.4 L372.0 904.4 L373.0 904.4 L374.0 904.4 L375.0 904.4 L376.0 904.4 L377.0 904.4 L378.0 904.4 L379.0 904.4 L380.0 904.4 L381.0 904.4 L382.0 904.3 L383.0 904.3 L384.0 904.3 L385.0 904.3 L386.0 904.3 L387.0 904.3 L388.0 904.3 L389.0 904.3 L390.0 904.3 L391.0 904.3 L392.0 904.3 L393.0 904.3 L394.0 904.3 L395.0 904.3 L396.0 904.3 L397.0 904.3 L398.0 904.3 L399.0 904.3 L400.0 904.3 L401.0 904.3 L402.0 904.3 L403.0 904.3 L404.0 904.3 L405.0 904.3 L406.0 904.3 L407.0 904.3 L408.0 904.3 L409.0 904.3 L410.0 904.3 L411.0 904.3 L412.0 904.3 L413.0 904.3 L414.0 904.3 L415.0 904.3 L416.0 904.3 L417.0 904.2 L418.0 904.2 L419.0 904.2 L420.0 904.2 L421.0 904.2 L422.0 904.2 L423.0 904.2 L424.0 904.2 L425.0 904.2 L426.0 904.2 L427.0 904.2 L428.0 904.2 L429.0 904.2 L430.0 904.2 L431.0 904.1 L432.0 904.0 L433.0 903.8 L434.0 903.6 L435.0 903.3 L436.0 903.0 L437.0 902.7 L438.0 902.4 L439.0 902.2 L440.0 902.0 L441.0 901.8 L442.0 901.6 L443.0 901.5 L444.0 901.3 L445.0 901.1 L446.0 901.0 L447.0 900.9 L448.0 900.7 L449.0 900.6 L450.0 900.5 L451.0 900.3 L452.0 900.2 L453.0 900.0 L454.0 899.9 L455.0 899.8 L456.0 899.6 L457.0 899.5 L458.0 899.3 L459.0 899.1 L460.0 898.9 L461.0 898.8 L462.0 898.6 L463.0 898.4 L464.0 898.2 L465.0 898.0 L466.0 897.8 L467.0 897.6 L468.0 897.4 L469.0 897.2 L470.0 897.0 L471.0 896.8 L472.0 896.5 L473.0 896.3 L474.0 896.1 L475.0 895.8 L476.0 895.6 L477.0 895.3 L478.0 895.0 L479.0 894.8 L480.0 894.5 L481.0 894.2 L482.0 893.9 L483.0 893.6 L484.0 893.2 L485.0 892.9 L486.0 892.6 L487.0 892.2 L488.0 891.8 L489.0 891.4 L490.0 891.0 L491.0 890.6 L492.0 890.2 L493.0 889.8 L494.0 889.3 L495.0 888.9 L496.0 888.4 L497.0 887.9 L498.0 887.4 L499.0 886.9 L500.0 886.4 L501.0 885.8 L502.0 885.3 L503.0 884.7 L504.0 884.1 L505.0 883.4 L506.0 882.8 L507.0 882.1 L508.0 881.4 L509.0 880.6 L510.0 879.9 L511.0 879.1 L512.0 878.3 L513.0 877.5 L514.0 876.6 L515.0 875.8 L516.0 874.9 L517.0 874.0 L518.0 873.1 L519.0 872.2 L520.0 871.2 L521.0 870.2 L522.0 869.1 L523.0 868.0 L524.0 866.9 L525.0 865.6 L526.0 864.4 L527.0 863.0 L528.0 861.7 L529.0 860.3 L530.0 858.8 L531.0 857.3 L532.0 855.6 L533.0 853.9 L534.0 852.1 L535.0 850.3 L536.0 848.4 L537.0 846.5 L538.0 844.6 L539.0 842.6 L540.0 840.6 L541.0 838.5 L542.0 836.4 L543.0 834.3 L544.0 832.1 L545.0 829.8 L546.0 827.5 L547.0 825.2 L548.0 822.9 L549.0 820.6 L550.0 818.3 L551.0 816.1 L552.0 813.9 L553.0 811.7 L554.0 809.4 L555.0 806.9 L556.0 804.3 L557.0 801.5 L558.0 798.4 L559.0 795.1 L560.0 791.5 L561.0 787.7 L562.0 783.7 L563.0 779.5 L564.0 775.1 L565.0 770.5 L566.0 765.8 L567.0 760.9 L568.0 755.8 L569.0 750.7 L570.0 745.4 L571.0 740.0 L572.0 734.5 L573.0 728.9 L574.0 723.2 L575.0 717.5 L576.0 711.7 L577.0 705.9 L578.0 700.0 L579.0 694.0 L580.0 687.9 L581.0 681.5 L582.0 674.9 L583.0 668.2 L584.0 661.3 L585.0 654.2 L586.0 646.9 L587.0 639.5 L588.0 631.9 L589.0 624.1 L590.0 616.2 L591.0 608.2 L592.0 600.0 L593.0 591.5 L594.0 582.6 L595.0 573.4 L596.0 563.8 L597.0 554.1 L598.0 544.1 L599.0 534.1 L600.0 524.0 L601.0 513.9 L602.0 504.0 L603.0 494.1 L604.0 484.1 L605.0 474.1 L606.0 464.0 L607.0 453.9 L608.0 443.8 L609.0 433.6 L610.0 423.4 L611.0 413.2 L612.0 403.0 L613.0 392.9 L614.0 382.6 L615.0 372.3 L616.0 361.9 L617.0 351.5 L618.0 341.2 L619.0 331.0 L620.0 320.8 L621.0 310.8 L622.0 301.0 L623.0 291.2 L624.0 281.3 L625.0 271.4 L626.0 261.6 L627.0 251.8 L628.0 242.2 L629.0 232.9 L630.0 223.8 L631.0 215.2 L632.0 207.0 L633.0 199.3 L634.0 191.8 L635.0 184.4 L636.0 177.4 L637.0 170.8 L638.0 164.8 L639.0 159.6 L640.0 155.4 L641.0 151.3 L642.0 147.3 L643.0 143.3 L644.0 139.4 L645.0 135.7 L646.0 132.2 L647.0 129.0 L648.0 126.0 L649.0 123.3 L650.0 121.0 L651.0 119.0 L652.0 117.6 L653.0 116.5 L654.0 116.0 L655.0 116.1 L656.0 116.7 L657.0 117.8 L658.0 119.5 L659.0 121.5 L660.0 123.9 L661.0 126.7 L662.0 129.8 L663.0 133.2 L664.0 136.8 L665.0 140.6 L666.0 144.6 L667.0 148.7 L668.0 152.8 L669.0 157.0 L670.0 161.9 L671.0 168.0 L672.0 175.0 L673.0 182.4 L674.0 189.9 L675.0 197.2 L676.0 204.1 L677.0 210.8 L678.0 217.6 L679.0 224.4 L680.0 231.1 L681.0 237.9 L682.0 244.7 L683.0 251.5 L684.0 258.3 L685.0 265.2 L686.0 272.1 L687.0 279.0 L688.0 286.0 L689.0 293.0 L690.0 300.0 L691.0 307.1 L692.0 314.4 L693.0 321.7 L694.0 329.2 L695.0 336.6 L696.0 344.1 L697.0 351.6 L698.0 359.1 L699.0 366.5 L700.0 373.8 L701.0 381.1 L702.0 388.2 L703.0 395.2 L704.0 402.0 L705.0 408.8 L706.0 415.5 L707.0 422.2 L708.0 428.8 L709.0 435.4 L710.0 441.9 L711.0 448.3 L712.0 454.7 L713.0 461.0 L714.0 467.3 L715.0 473.4 L716.0 479.5 L717.0 485.5 L718.0 491.4 L719.0 497.1 L720.0 502.8 L721.0 508.5 L722.0 514.1 L723.0 519.6 L724.0 525.1 L725.0 530.5 L726.0 535.9 L727.0 541.2 L728.0 546.4 L729.0 551.6 L730.0 556.8 L731.0 561.8 L732.0 566.8 L733.0 571.8 L734.0 576.7 L735.0 581.5 L736.0 586.2 L737.0 590.9 L738.0 595.5 L739.0 600.0 L740.0 604.5 L741.0 608.9 L742.0 613.2 L743.0 617.5 L744.0 621.8 L745.0 625.9 L746.0 630.1 L747.0 634.2 L748.0 638.3 L749.0 642.3 L750.0 646.3 L751.0 650.2 L752.0 654.1 L753.0 658.0 L754.0 661.8 L755.0 665.6 L756.0 669.4 L757.0 673.2 L758.0 676.9 L759.0 680.6 L760.0 684.3 L761.0 688.0 L762.0 691.6 L763.0 695.3 L764.0 698.9 L765.0 702.5 L766.0 706.2 L767.0 709.9 L768.0 713.7 L769.0 717.4 L770.0 721.2 L771.0 724.9 L772.0 728.7 L773.0 732.4 L774.0 736.0 L775.0 739.6 L776.0 743.2 L777.0 746.6 L778.0 750.0 L779.0 753.3 L780.0 756.5 L781.0 759.6 L782.0 762.6 L783.0 765.4 L784.0 768.1 L785.0 770.6 L786.0 773.0 L787.0 775.2 L788.0 777.3 L789.0 779.3 L790.0 781.2 L791.0 783.0 L792.0 784.8 L793.0 786.5 L794.0 788.1 L795.0 789.8 L796.0 791.3 L797.0 792.9 L798.0 794.5 L799.0 796.0 L800.0 797.6 L801.0 799.2 L802.0 800.8 L803.0 802.4 L804.0 804.1 L805.0 805.7 L806.0 807.3 L807.0 808.9 L808.0 810.5 L809.0 812.1 L810.0 813.7 L811.0 815.2 L812.0 816.8 L813.0 818.3 L814.0 819.8 L815.0 821.3 L816.0 822.7 L817.0 824.1 L818.0 825.5 L819.0 826.9 L820.0 828.2 L821.0 829.5 L822.0 830.7 L823.0 832.0 L824.0 833.1 L825.0 834.3 L826.0 835.4 L827.0 836.4 L828.0 837.5 L829.0 838.6 L830.0 839.6 L831.0 840.7 L832.0 841.7 L833.0 842.8 L834.0 843.8 L835.0 844.8 L836.0 845.8 L837.0 846.8 L838.0 847.8 L839.0 848.8 L840.0 849.8 L841.0 850.8 L842.0 851.7 L843.0 852.7 L844.0 853.6 L845.0 854.6 L846.0 855.5 L847.0 856.5 L848.0 857.4 L849.0 858.3 L850.0 859.2 L851.0 860.1 L852.0 860.9 L853.0 861.7 L854.0 862.5 L855.0 863.3 L856.0 864.1 L857.0 864.9 L858.0 865.6 L859.0 866.4 L860.0 867.1 L861.0 867.9 L862.0 868.6 L863.0 869.3 L864.0 870.0 L865.0 870.7 L866.0 871.4 L867.0 872.0 L868.0 872.7 L869.0 873.3 L870.0 873.9 L871.0 874.5 L872.0 875.1 L873.0 875.7 L874.0 876.2 L875.0 876.8 L876.0 877.3 L877.0 877.8 L878.0 878.3 L879.0 878.8 L880.0 879.3 L881.0 879.8 L882.0 880.2 L883.0 880.7 L884.0 881.2 L885.0 881.6 L886.0 882.0 L887.0 882.5 L888.0 882.9 L889.0 883.3 L890.0 883.7 L891.0 884.1 L892.0 884.5 L893.0 884.8 L894.0 885.2 L895.0 885.6 L896.0 885.9 L897.0 886.3 L898.0 886.6 L899.0 887.0 L900.0 887.3 L901.0 887.6 L902.0 887.9 L903.0 888.3 L904.0 888.6 L905.0 888.9 L906.0 889.2 L907.0 889.5 L908.0 889.8 L909.0 890.0 L910.0 890.3 L911.0 890.6 L912.0 890.8 L913.0 891.1 L914.0 891.4 L915.0 891.6 L916.0 891.8 L917.0 892.1 L918.0 892.3 L919.0 892.6 L920.0 892.8 L921.0 893.0 L922.0 893.3 L923.0 893.5 L924.0 893.7 L925.0 893.9 L926.0 894.1 L927.0 894.3 L928.0 894.5 L929.0 894.7 L930.0 894.9 L931.0 895.1 L932.0 895.3 L933.0 895.4 L934.0 895.6 L935.0 895.7 L936.0 895.9 L937.0 896.0 L938.0 896.1 L939.0 896.2 L940.0 896.3 L941.0 896.4 L942.0 896.5 L943.0 896.6 L944.0 896.7 L945.0 896.8 L946.0 896.9 L947.0 897.0 L948.0 897.1 L949.0 897.2 L950.0 897.3 L951.0 897.3 L952.0 897.4 L953.0 897.5 L954.0 897.6 L955.0 897.7 L956.0 897.8 L957.0 897.9 L958.0 898.0 L959.0 898.1 L960.0 898.2 L961.0 898.3 L962.0 898.4 L963.0 898.5 L964.0 898.6 L965.0 898.7 L966.0 898.8 L967.0 898.9 L968.0 899.1 L969.0 899.2 L970.0 899.3 L971.0 899.4 L972.0 899.5 L973.0 899.6 L974.0 899.7 L975.0 899.8 L976.0 899.8 L977.0 899.9 L978.0 900.0 L979.0 900.1 L980.0 900.1 L981.0 900.2 L982.0 900.3 L983.0 900.3 L984.0 900.4 L985.0 900.5 L986.0 900.5 L987.0 900.6 L988.0 900.6 L989.0 900.7 L990.0 900.7 L991.0 900.8 L992.0 900.8 L993.0 900.9 L994.0 900.9 L995.0 901.0 L996.0 901.0 L997.0 901.0 L998.0 901.1 L999.0 901.1 L1000.0 901.1 L1001.0 901.1 L1002.0 901.2 L1003.0 901.2 L1004.0 901.2 L1005.0 901.2 L1006.0 901.3 L1007.0 901.3 L1008.0 901.3 L1009.0 901.3 L1010.0 901.3 L1011.0 901.4 L1012.0 901.4 L1013.0 901.4 L1014.0 901.4 L1015.0 901.4 L1016.0 901.5 L1017.0 901.5 L1018.0 901.5 L1019.0 901.5 L1020.0 901.5 L1021.0 901.6 L1022.0 901.6 L1023.0 901.6 L1024.0 901.6 L1025.0 901.6 L1026.0 901.7 L1027.0 901.7 L1028.0 901.7 L1029.0 901.7 L1030.0 901.7 L1031.0 901.7 L1032.0 901.8 L1033.0 901.8 L1034.0 901.8 L1035.0 901.8 L1036.0 901.8 L1037.0 901.8 L1038.0 901.9 L1039.0 901.9 L1040.0 901.9 L1041.0 901.9 L1042.0 901.9 L1043.0 901.9 L1044.0 902.0 L1045.0 902.0 L1046.0 902.0 L1047.0 902.0 L1048.0 902.0 L1049.0 902.0 L1050.0 902.0 L1051.0 902.1 L1052.0 902.1 L1053.0 902.1 L1054.0 902.1 L1055.0 902.1 L1056.0 902.1 L1057.0 902.1 L1058.0 902.1 L1059.0 902.2 L1060.0 902.2 L1061.0 902.2 L1062.0 902.2 L1063.0 902.2 L1064.0 902.2 L1065.0 902.2 L1066.0 902.2 L1067.0 902.2 L1068.0 902.3 L1069.0 902.3 L1070.0 902.3 L1071.0 902.3 L1072.0 902.3 L1073.0 902.3 L1074.0 902.3 L1075.0 902.3 L1076.0 902.3 L1077.0 902.3 L1078.0 902.3 L1079.0 902.4 L1080.0 902.4 L1081.0 902.4 L1082.0 902.4 L1083.0 902.4 L1084.0 902.4 L1085.0 902.4 L1086.0 902.4 L1087.0 902.4 L1088.0 902.4 L1089.0 902.4 L1090.0 902.4 L1091.0 902.4 L1092.0 902.4 L1093.0 902.4 L1094.0 902.4 L1095.0 902.5 L1096.0 902.5 L1097.0 902.5 L1098.0 902.5 L1099.0 902.5 L1100.0 902.5 L1101.0 902.5 L1102.0 902.5 L1103.0 902.5 L1104.0 902.5 L1105.0 902.5 L1106.0 902.5 L1107.0 902.5 L1108.0 902.5 L1109.0 902.5 L1110.0 902.5 L1111.0 902.5 L1112.0 902.5 L1113.0 902.5 L1114.0 902.5 L1115.0 902.5 L1116.0 902.5" fill="none" stroke="#FFCC00" stroke-width="8" stroke-linejoin="round" stroke-linecap="butt"/>
<line x1="726.30" y1="153.90" x2="854.10" y2="153.90" stroke="#FF0000" stroke-width="8.4" stroke-linecap="butt"/>
<line x1="726.30" y1="227.30" x2="854.10" y2="227.30" stroke="#0F67A4" stroke-width="8.4" stroke-linecap="butt"/>
<line x1="726.30" y1="300.60" x2="854.10" y2="300.60" stroke="#FFCC00" stroke-width="8.4" stroke-linecap="butt"/>
<text transform="translate(862.90 174.70) scale(0.5505 0.6058)" font-weight="normal" fill="#000">Pristine</text>
<text transform="translate(863.10 248.80) scale(0.5247 0.6058)" font-weight="normal" fill="#000">P2-1</text>
<text transform="translate(862.96 321.60) scale(0.5429 0.5884)" font-weight="normal" fill="#000">P2-2</text>
<text transform="translate(260.02 202.20) scale(0.7346 0.7362)" font-weight="normal" fill="#000">NiBr</text>
<text transform="translate(402.53 218.60) scale(0.4543 0.4757)" font-weight="normal" fill="#000">2</text>
<text transform="translate(67.92 130.51) scale(0.7964 0.8138)" font-weight="bold" fill="#000">(a)</text>
<text transform="translate(266.14 973.40) scale(0.5286 0.5986)" font-weight="normal" fill="#000">450</text>
<text transform="translate(534.45 973.40) scale(0.5365 0.5986)" font-weight="normal" fill="#000">500</text>
<text transform="translate(804.31 973.40) scale(0.5214 0.5986)" font-weight="normal" fill="#000">550</text>
<text transform="translate(1069.22 973.40) scale(0.5570 0.5986)" font-weight="normal" fill="#000">600</text>
<text transform="translate(403.70 1069.80) scale(0.6453 0.7565)" font-weight="bold" fill="#000">Wavelength (nm)</text>
<text transform="translate(139.70 805.23) rotate(-90) scale(0.7183 0.7638)" font-weight="bold">PL intensity (a.u.)</text>
<rect x="1332.00" y="97.50" width="930.70" height="8.60" fill="#000"/>
<rect x="1332.00" y="903.20" width="930.70" height="7.00" fill="#000"/>
<rect x="1332.00" y="97.50" width="6.00" height="812.70" fill="#000"/>
<rect x="2255.70" y="97.50" width="7.00" height="812.70" fill="#000"/>
<rect x="1440.10" y="890.00" width="6.00" height="13.50" fill="#000"/>
<rect x="1712.10" y="890.00" width="6.00" height="13.50" fill="#000"/>
<rect x="1984.10" y="890.00" width="6.00" height="13.50" fill="#000"/>
<rect x="1576.20" y="898.00" width="6.00" height="5.50" fill="#000"/>
<rect x="1848.20" y="898.00" width="6.00" height="5.50" fill="#000"/>
<path d="M1338.0 902.0 L1339.0 902.0 L1340.0 902.0 L1341.0 902.0 L1342.0 902.0 L1343.0 902.0 L1344.0 902.0 L1345.0 902.0 L1346.0 902.0 L1347.0 902.0 L1348.0 902.0 L1349.0 902.0 L1350.0 901.9 L1351.0 901.9 L1352.0 901.9 L1353.0 901.9 L1354.0 901.9 L1355.0 901.9 L1356.0 901.9 L1357.0 901.9 L1358.0 901.9 L1359.0 901.9 L1360.0 901.9 L1361.0 901.9 L1362.0 901.9 L1363.0 901.9 L1364.0 901.9 L1365.0 901.9 L1366.0 901.9 L1367.0 901.9 L1368.0 901.9 L1369.0 901.9 L1370.0 901.9 L1371.0 901.9 L1372.0 901.9 L1373.0 901.9 L1374.0 901.9 L1375.0 901.9 L1376.0 901.9 L1377.0 901.8 L1378.0 901.8 L1379.0 901.8 L1380.0 901.8 L1381.0 901.8 L1382.0 901.8 L1383.0 901.8 L1384.0 901.8 L1385.0 901.8 L1386.0 901.8 L1387.0 901.8 L1388.0 901.8 L1389.0 901.8 L1390.0 901.8 L1391.0 901.7 L1392.0 901.7 L1393.0 901.7 L1394.0 901.7 L1395.0 901.7 L1396.0 901.7 L1397.0 901.7 L1398.0 901.7 L1399.0 901.7 L1400.0 901.6 L1401.0 901.6 L1402.0 901.6 L1403.0 901.6 L1404.0 901.6 L1405.0 901.6 L1406.0 901.6 L1407.0 901.5 L1408.0 901.5 L1409.0 901.5 L1410.0 901.5 L1411.0 901.5 L1412.0 901.4 L1413.0 901.4 L1414.0 901.4 L1415.0 901.4 L1416.0 901.4 L1417.0 901.3 L1418.0 901.3 L1419.0 901.3 L1420.0 901.3 L1421.0 901.2 L1422.0 901.2 L1423.0 901.2 L1424.0 901.2 L1425.0 901.1 L1426.0 901.1 L1427.0 901.1 L1428.0 901.0 L1429.0 901.0 L1430.0 901.0 L1431.0 900.9 L1432.0 900.9 L1433.0 900.9 L1434.0 900.8 L1435.0 900.8 L1436.0 900.7 L1437.0 900.7 L1438.0 900.6 L1439.0 900.6 L1440.0 900.6 L1441.0 900.5 L1442.0 900.5 L1443.0 900.4 L1444.0 900.4 L1445.0 900.3 L1446.0 900.2 L1447.0 900.2 L1448.0 900.1 L1449.0 900.1 L1450.0 900.0 L1451.0 899.9 L1452.0 899.9 L1453.0 899.8 L1454.0 899.7 L1455.0 899.6 L1456.0 899.6 L1457.0 899.5 L1458.0 899.4 L1459.0 899.3 L1460.0 899.2 L1461.0 899.2 L1462.0 899.1 L1463.0 899.0 L1464.0 898.9 L1465.0 898.8 L1466.0 898.7 L1467.0 898.6 L1468.0 898.5 L1469.0 898.4 L1470.0 898.3 L1471.0 898.1 L1472.0 898.0 L1473.0 897.9 L1474.0 897.8 L1475.0 897.6 L1476.0 897.5 L1477.0 897.4 L1478.0 897.2 L1479.0 897.1 L1480.0 896.9 L1481.0 896.8 L1482.0 896.6 L1483.0 896.5 L1484.0 896.3 L1485.0 896.1 L1486.0 896.0 L1487.0 895.8 L1488.0 895.6 L1489.0 895.4 L1490.0 895.2 L1491.0 895.0 L1492.0 894.8 L1493.0 894.6 L1494.0 894.4 L1495.0 894.2 L1496.0 894.0 L1497.0 893.7 L1498.0 893.5 L1499.0 893.3 L1500.0 893.0 L1501.0 892.8 L1502.0 892.5 L1503.0 892.3 L1504.0 892.0 L1505.0 891.7 L1506.0 891.4 L1507.0 891.1 L1508.0 890.8 L1509.0 890.5 L1510.0 890.2 L1511.0 889.9 L1512.0 889.6 L1513.0 889.2 L1514.0 888.9 L1515.0 888.5 L1516.0 888.2 L1517.0 887.8 L1518.0 887.4 L1519.0 887.0 L1520.0 886.6 L1521.0 886.2 L1522.0 885.8 L1523.0 885.4 L1524.0 885.0 L1525.0 884.5 L1526.0 884.1 L1527.0 883.6 L1528.0 883.1 L1529.0 882.7 L1530.0 882.2 L1531.0 881.7 L1532.0 881.1 L1533.0 880.6 L1534.0 880.1 L1535.0 879.5 L1536.0 879.0 L1537.0 878.4 L1538.0 877.8 L1539.0 877.2 L1540.0 876.6 L1541.0 876.0 L1542.0 875.4 L1543.0 874.7 L1544.0 874.0 L1545.0 873.4 L1546.0 872.7 L1547.0 872.0 L1548.0 871.3 L1549.0 870.5 L1550.0 869.8 L1551.0 869.0 L1552.0 868.3 L1553.0 867.5 L1554.0 866.7 L1555.0 865.8 L1556.0 865.0 L1557.0 864.1 L1558.0 863.3 L1559.0 862.4 L1560.0 861.5 L1561.0 860.6 L1562.0 859.6 L1563.0 858.7 L1564.0 857.7 L1565.0 856.7 L1566.0 855.7 L1567.0 854.7 L1568.0 853.6 L1569.0 852.6 L1570.0 851.5 L1571.0 850.4 L1572.0 849.3 L1573.0 848.1 L1574.0 847.0 L1575.0 845.8 L1576.0 844.6 L1577.0 843.4 L1578.0 842.1 L1579.0 840.9 L1580.0 839.6 L1581.0 838.3 L1582.0 837.0 L1583.0 835.6 L1584.0 834.3 L1585.0 832.9 L1586.0 831.4 L1587.0 830.0 L1588.0 828.6 L1589.0 827.1 L1590.0 825.6 L1591.0 824.0 L1592.0 822.5 L1593.0 820.9 L1594.0 819.3 L1595.0 817.7 L1596.0 816.0 L1597.0 814.4 L1598.0 812.7 L1599.0 811.0 L1600.0 809.2 L1601.0 807.4 L1602.0 805.6 L1603.0 803.8 L1604.0 802.0 L1605.0 800.1 L1606.0 798.2 L1607.0 796.3 L1608.0 794.3 L1609.0 792.3 L1610.0 790.3 L1611.0 788.3 L1612.0 786.2 L1613.0 784.2 L1614.0 782.0 L1615.0 779.9 L1616.0 777.7 L1617.0 775.5 L1618.0 773.3 L1619.0 771.1 L1620.0 768.8 L1621.0 766.5 L1622.0 764.2 L1623.0 761.8 L1624.0 759.4 L1625.0 757.0 L1626.0 754.6 L1627.0 752.1 L1628.0 749.6 L1629.0 747.1 L1630.0 744.5 L1631.0 741.9 L1632.0 739.3 L1633.0 736.7 L1634.0 734.0 L1635.0 731.3 L1636.0 728.6 L1637.0 725.8 L1638.0 723.1 L1639.0 720.3 L1640.0 717.4 L1641.0 714.6 L1642.0 711.7 L1643.0 708.8 L1644.0 705.8 L1645.0 702.8 L1646.0 699.8 L1647.0 696.8 L1648.0 693.8 L1649.0 690.7 L1650.0 687.6 L1651.0 684.5 L1652.0 681.3 L1653.0 678.1 L1654.0 674.9 L1655.0 671.7 L1656.0 668.4 L1657.0 665.1 L1658.0 661.8 L1659.0 658.5 L1660.0 655.1 L1661.0 651.7 L1662.0 648.3 L1663.0 644.9 L1664.0 641.4 L1665.0 637.9 L1666.0 634.4 L1667.0 630.9 L1668.0 627.4 L1669.0 623.8 L1670.0 620.2 L1671.0 616.6 L1672.0 612.9 L1673.0 609.3 L1674.0 605.6 L1675.0 601.9 L1676.0 598.2 L1677.0 594.5 L1678.0 590.7 L1679.0 587.0 L1680.0 583.2 L1681.0 579.4 L1682.0 575.5 L1683.0 571.7 L1684.0 567.9 L1685.0 564.0 L1686.0 560.1 L1687.0 556.2 L1688.0 552.3 L1689.0 548.4 L1690.0 544.4 L1691.0 540.5 L1692.0 536.5 L1693.0 532.6 L1694.0 528.6 L1695.0 524.6 L1696.0 520.6 L1697.0 516.6 L1698.0 512.6 L1699.0 508.6 L1700.0 504.5 L1701.0 500.5 L1702.0 496.5 L1703.0 492.4 L1704.0 488.4 L1705.0 484.3 L1706.0 480.3 L1707.0 476.2 L1708.0 472.2 L1709.0 468.1 L1710.0 464.1 L1711.0 460.0 L1712.0 456.0 L1713.0 451.9 L1714.0 447.9 L1715.0 443.8 L1716.0 439.8 L1717.0 435.8 L1718.0 431.7 L1719.0 427.7 L1720.0 423.7 L1721.0 419.7 L1722.0 415.7 L1723.0 411.7 L1724.0 407.8 L1725.0 403.8 L1726.0 399.9 L1727.0 395.9 L1728.0 392.0 L1729.0 388.1 L1730.0 384.2 L1731.0 380.3 L1732.0 376.5 L1733.0 372.6 L1734.0 368.8 L1735.0 365.0 L1736.0 361.3 L1737.0 357.5 L1738.0 353.8 L1739.0 350.1 L1740.0 346.4 L1741.0 342.7 L1742.0 339.1 L1743.0 335.5 L1744.0 331.9 L1745.0 328.3 L1746.0 324.8 L1747.0 321.3 L1748.0 317.8 L1749.0 314.4 L1750.0 311.0 L1751.0 307.6 L1752.0 304.3 L1753.0 301.0 L1754.0 297.7 L1755.0 294.5 L1756.0 291.3 L1757.0 288.1 L1758.0 285.0 L1759.0 281.9 L1760.0 278.9 L1761.0 275.9 L1762.0 272.9 L1763.0 270.0 L1764.0 267.1 L1765.0 264.3 L1766.0 261.5 L1767.0 258.8 L1768.0 256.1 L1769.0 253.4 L1770.0 250.8 L1771.0 248.2 L1772.0 245.7 L1773.0 243.3 L1774.0 240.9 L1775.0 238.5 L1776.0 236.2 L1777.0 233.9 L1778.0 231.7 L1779.0 229.5 L1780.0 227.4 L1781.0 225.4 L1782.0 223.4 L1783.0 221.4 L1784.0 219.5 L1785.0 217.7 L1786.0 215.9 L1787.0 214.2 L1788.0 212.5 L1789.0 210.9 L1790.0 209.3 L1791.0 207.9 L1792.0 206.4 L1793.0 205.0 L1794.0 203.7 L1795.0 202.4 L1796.0 201.2 L1797.0 200.1 L1798.0 199.0 L1799.0 198.0 L1800.0 197.0 L1801.0 196.1 L1802.0 195.3 L1803.0 194.5 L1804.0 193.8 L1805.0 193.1 L1806.0 192.5 L1807.0 192.0 L1808.0 191.5 L1809.0 191.1 L1810.0 190.8 L1811.0 190.5 L1812.0 190.3 L1813.0 190.1 L1814.0 190.0 L1815.0 190.0 L1816.0 190.0 L1817.0 190.2 L1818.0 190.4 L1819.0 190.6 L1820.0 191.0 L1821.0 191.4 L1822.0 192.0 L1823.0 192.5 L1824.0 193.2 L1825.0 194.0 L1826.0 194.8 L1827.0 195.7 L1828.0 196.7 L1829.0 197.8 L1830.0 198.9 L1831.0 200.1 L1832.0 201.4 L1833.0 202.8 L1834.0 204.2 L1835.0 205.8 L1836.0 207.4 L1837.0 209.0 L1838.0 210.8 L1839.0 212.6 L1840.0 214.5 L1841.0 216.4 L1842.0 218.5 L1843.0 220.6 L1844.0 222.7 L1845.0 225.0 L1846.0 227.3 L1847.0 229.7 L1848.0 232.1 L1849.0 234.6 L1850.0 237.2 L1851.0 239.8 L1852.0 242.5 L1853.0 245.3 L1854.0 248.1 L1855.0 251.0 L1856.0 254.0 L1857.0 257.0 L1858.0 260.0 L1859.0 263.1 L1860.0 266.3 L1861.0 269.5 L1862.0 272.8 L1863.0 276.2 L1864.0 279.6 L1865.0 283.0 L1866.0 286.5 L1867.0 290.0 L1868.0 293.6 L1869.0 297.3 L1870.0 300.9 L1871.0 304.7 L1872.0 308.4 L1873.0 312.2 L1874.0 316.1 L1875.0 320.0 L1876.0 323.9 L1877.0 327.9 L1878.0 331.9 L1879.0 335.9 L1880.0 340.0 L1881.0 344.1 L1882.0 348.2 L1883.0 352.4 L1884.0 356.6 L1885.0 360.8 L1886.0 365.1 L1887.0 369.4 L1888.0 373.7 L1889.0 378.0 L1890.0 382.4 L1891.0 386.7 L1892.0 391.1 L1893.0 395.5 L1894.0 400.0 L1895.0 404.4 L1896.0 408.9 L1897.0 413.4 L1898.0 417.9 L1899.0 422.4 L1900.0 426.9 L1901.0 431.4 L1902.0 435.9 L1903.0 440.5 L1904.0 445.0 L1905.0 449.6 L1906.0 454.2 L1907.0 458.7 L1908.0 463.3 L1909.0 467.9 L1910.0 472.4 L1911.0 477.0 L1912.0 481.6 L1913.0 486.1 L1914.0 490.7 L1915.0 495.3 L1916.0 499.8 L1917.0 504.4 L1918.0 508.9 L1919.0 513.4 L1920.0 517.9 L1921.0 522.5 L1922.0 527.0 L1923.0 531.4 L1924.0 535.9 L1925.0 540.4 L1926.0 544.8 L1927.0 549.3 L1928.0 553.7 L1929.0 558.1 L1930.0 562.5 L1931.0 566.8 L1932.0 571.2 L1933.0 575.5 L1934.0 579.8 L1935.0 584.1 L1936.0 588.3 L1937.0 592.6 L1938.0 596.8 L1939.0 601.0 L1940.0 605.1 L1941.0 609.3 L1942.0 613.4 L1943.0 617.5 L1944.0 621.6 L1945.0 625.6 L1946.0 629.6 L1947.0 633.6 L1948.0 637.5 L1949.0 641.5 L1950.0 645.4 L1951.0 649.2 L1952.0 653.1 L1953.0 656.9 L1954.0 660.6 L1955.0 664.4 L1956.0 668.1 L1957.0 671.8 L1958.0 675.4 L1959.0 679.0 L1960.0 682.6 L1961.0 686.1 L1962.0 689.7 L1963.0 693.1 L1964.0 696.6 L1965.0 700.0 L1966.0 703.1 L1967.0 706.2 L1968.0 709.2 L1969.0 712.2 L1970.0 715.2 L1971.0 718.1 L1972.0 721.1 L1973.0 723.9 L1974.0 726.8 L1975.0 729.6 L1976.0 732.4 L1977.0 735.1 L1978.0 737.9 L1979.0 740.5 L1980.0 743.2 L1981.0 745.8 L1982.0 748.4 L1983.0 751.0 L1984.0 753.5 L1985.0 756.0 L1986.0 758.5 L1987.0 760.9 L1988.0 763.3 L1989.0 765.7 L1990.0 768.0 L1991.0 770.3 L1992.0 772.6 L1993.0 774.8 L1994.0 777.0 L1995.0 779.2 L1996.0 781.4 L1997.0 783.5 L1998.0 785.6 L1999.0 787.7 L2000.0 789.7 L2001.0 791.7 L2002.0 793.7 L2003.0 795.7 L2004.0 797.6 L2005.0 799.5 L2006.0 801.4 L2007.0 803.2 L2008.0 805.0 L2009.0 806.8 L2010.0 808.6 L2011.0 810.3 L2012.0 812.0 L2013.0 813.7 L2014.0 815.4 L2015.0 817.0 L2016.0 818.6 L2017.0 820.2 L2018.0 821.8 L2019.0 823.3 L2020.0 824.8 L2021.0 826.3 L2022.0 827.8 L2023.0 829.2 L2024.0 830.6 L2025.0 832.0 L2026.0 833.4 L2027.0 834.7 L2028.0 836.0 L2029.0 837.3 L2030.0 838.6 L2031.0 839.9 L2032.0 841.1 L2033.0 842.3 L2034.0 843.5 L2035.0 844.7 L2036.0 845.9 L2037.0 847.0 L2038.0 848.1 L2039.0 849.2 L2040.0 850.3 L2041.0 851.3 L2042.0 852.4 L2043.0 853.4 L2044.0 854.4 L2045.0 855.4 L2046.0 856.4 L2047.0 857.3 L2048.0 858.2 L2049.0 859.2 L2050.0 860.0 L2051.0 860.9 L2052.0 861.8 L2053.0 862.6 L2054.0 863.5 L2055.0 864.3 L2056.0 865.1 L2057.0 865.9 L2058.0 866.7 L2059.0 867.4 L2060.0 868.2 L2061.0 868.9 L2062.0 869.6 L2063.0 870.3 L2064.0 871.0 L2065.0 871.7 L2066.0 872.3 L2067.0 873.0 L2068.0 873.6 L2069.0 874.3 L2070.0 874.9 L2071.0 875.5 L2072.0 876.1 L2073.0 876.6 L2074.0 877.2 L2075.0 877.8 L2076.0 878.3 L2077.0 878.8 L2078.0 879.4 L2079.0 879.9 L2080.0 880.4 L2081.0 880.9 L2082.0 881.3 L2083.0 881.8 L2084.0 882.3 L2085.0 882.7 L2086.0 883.2 L2087.0 883.6 L2088.0 884.0 L2089.0 884.4 L2090.0 884.8 L2091.0 885.2 L2092.0 885.6 L2093.0 886.0 L2094.0 886.4 L2095.0 886.7 L2096.0 887.1 L2097.0 887.4 L2098.0 887.8 L2099.0 888.1 L2100.0 888.4 L2101.0 888.8 L2102.0 889.1 L2103.0 889.4 L2104.0 889.7 L2105.0 890.0 L2106.0 890.3 L2107.0 890.5 L2108.0 890.8 L2109.0 891.1 L2110.0 891.4 L2111.0 891.6 L2112.0 891.9 L2113.0 892.1 L2114.0 892.3 L2115.0 892.6 L2116.0 892.8 L2117.0 893.0 L2118.0 893.3 L2119.0 893.5 L2120.0 893.7 L2121.0 893.9 L2122.0 894.1 L2123.0 894.3 L2124.0 894.5 L2125.0 894.7 L2126.0 894.8 L2127.0 895.0 L2128.0 895.2 L2129.0 895.4 L2130.0 895.5 L2131.0 895.7 L2132.0 895.8 L2133.0 896.0 L2134.0 896.1 L2135.0 896.3 L2136.0 896.4 L2137.0 896.6 L2138.0 896.7 L2139.0 896.8 L2140.0 897.0 L2141.0 897.1 L2142.0 897.2 L2143.0 897.4 L2144.0 897.5 L2145.0 897.6 L2146.0 897.7 L2147.0 897.8 L2148.0 897.9 L2149.0 898.0 L2150.0 898.1 L2151.0 898.2 L2152.0 898.3 L2153.0 898.4 L2154.0 898.5 L2155.0 898.6 L2156.0 898.7 L2157.0 898.8 L2158.0 898.9 L2159.0 898.9 L2160.0 899.0 L2161.0 899.1 L2162.0 899.2 L2163.0 899.2 L2164.0 899.3 L2165.0 899.4 L2166.0 899.5 L2167.0 899.5 L2168.0 899.6 L2169.0 899.7 L2170.0 899.7 L2171.0 899.8 L2172.0 899.8 L2173.0 899.9 L2174.0 900.0 L2175.0 900.0 L2176.0 900.1 L2177.0 900.1 L2178.0 900.2 L2179.0 900.2 L2180.0 900.3 L2181.0 900.3 L2182.0 900.4 L2183.0 900.4 L2184.0 900.4 L2185.0 900.5 L2186.0 900.5 L2187.0 900.6 L2188.0 900.6 L2189.0 900.6 L2190.0 900.7 L2191.0 900.7 L2192.0 900.7 L2193.0 900.8 L2194.0 900.8 L2195.0 900.8 L2196.0 900.9 L2197.0 900.9 L2198.0 900.9 L2199.0 901.0 L2200.0 901.0 L2201.0 901.0 L2202.0 901.1 L2203.0 901.1 L2204.0 901.1 L2205.0 901.1 L2206.0 901.2 L2207.0 901.2 L2208.0 901.2 L2209.0 901.2 L2210.0 901.2 L2211.0 901.3 L2212.0 901.3 L2213.0 901.3 L2214.0 901.3 L2215.0 901.3 L2216.0 901.4 L2217.0 901.4 L2218.0 901.4 L2219.0 901.4 L2220.0 901.4 L2221.0 901.4 L2222.0 901.5 L2223.0 901.5 L2224.0 901.5 L2225.0 901.5 L2226.0 901.5 L2227.0 901.5 L2228.0 901.5 L2229.0 901.6 L2230.0 901.6 L2231.0 901.6 L2232.0 901.6 L2233.0 901.6 L2234.0 901.6 L2235.0 901.6 L2236.0 901.6 L2237.0 901.7 L2238.0 901.7 L2239.0 901.7 L2240.0 901.7 L2241.0 901.7 L2242.0 901.7 L2243.0 901.7 L2244.0 901.7 L2245.0 901.7 L2246.0 901.7 L2247.0 901.7 L2248.0 901.7 L2249.0 901.8 L2250.0 901.8 L2251.0 901.8 L2252.0 901.8 L2253.0 901.8 L2254.0 901.8 L2255.0 901.8 L2256.0 901.8" fill="none" stroke="#FF0000" stroke-width="8" stroke-linejoin="round" stroke-linecap="butt"/>
<path d="M1338.0 902.0 L1339.0 902.0 L1340.0 902.0 L1341.0 902.0 L1342.0 902.0 L1343.0 902.0 L1344.0 902.0 L1345.0 902.0 L1346.0 902.0 L1347.0 902.0 L1348.0 902.0 L1349.0 902.0 L1350.0 902.0 L1351.0 902.0 L1352.0 902.0 L1353.0 902.0 L1354.0 902.0 L1355.0 902.0 L1356.0 902.0 L1357.0 902.0 L1358.0 902.0 L1359.0 901.9 L1360.0 901.9 L1361.0 901.9 L1362.0 901.9 L1363.0 901.9 L1364.0 901.9 L1365.0 901.9 L1366.0 901.9 L1367.0 901.9 L1368.0 901.9 L1369.0 901.9 L1370.0 901.9 L1371.0 901.9 L1372.0 901.9 L1373.0 901.9 L1374.0 901.9 L1375.0 901.9 L1376.0 901.9 L1377.0 901.9 L1378.0 901.9 L1379.0 901.9 L1380.0 901.9 L1381.0 901.9 L1382.0 901.9 L1383.0 901.9 L1384.0 901.9 L1385.0 901.9 L1386.0 901.9 L1387.0 901.8 L1388.0 901.8 L1389.0 901.8 L1390.0 901.8 L1391.0 901.8 L1392.0 901.8 L1393.0 901.8 L1394.0 901.8 L1395.0 901.8 L1396.0 901.8 L1397.0 901.8 L1398.0 901.8 L1399.0 901.8 L1400.0 901.7 L1401.0 901.7 L1402.0 901.7 L1403.0 901.7 L1404.0 901.7 L1405.0 901.7 L1406.0 901.7 L1407.0 901.7 L1408.0 901.7 L1409.0 901.6 L1410.0 901.6 L1411.0 901.6 L1412.0 901.6 L1413.0 901.6 L1414.0 901.6 L1415.0 901.6 L1416.0 901.5 L1417.0 901.5 L1418.0 901.5 L1419.0 901.5 L1420.0 901.5 L1421.0 901.4 L1422.0 901.4 L1423.0 901.4 L1424.0 901.4 L1425.0 901.4 L1426.0 901.3 L1427.0 901.3 L1428.0 901.3 L1429.0 901.3 L1430.0 901.2 L1431.0 901.2 L1432.0 901.2 L1433.0 901.2 L1434.0 901.1 L1435.0 901.1 L1436.0 901.1 L1437.0 901.0 L1438.0 901.0 L1439.0 901.0 L1440.0 900.9 L1441.0 900.9 L1442.0 900.8 L1443.0 900.8 L1444.0 900.8 L1445.0 900.7 L1446.0 900.7 L1447.0 900.6 L1448.0 900.6 L1449.0 900.5 L1450.0 900.5 L1451.0 900.4 L1452.0 900.4 L1453.0 900.3 L1454.0 900.3 L1455.0 900.2 L1456.0 900.2 L1457.0 900.1 L1458.0 900.0 L1459.0 900.0 L1460.0 899.9 L1461.0 899.8 L1462.0 899.8 L1463.0 899.7 L1464.0 899.6 L1465.0 899.5 L1466.0 899.5 L1467.0 899.4 L1468.0 899.3 L1469.0 899.2 L1470.0 899.1 L1471.0 899.0 L1472.0 898.9 L1473.0 898.8 L1474.0 898.7 L1475.0 898.6 L1476.0 898.5 L1477.0 898.4 L1478.0 898.3 L1479.0 898.2 L1480.0 898.1 L1481.0 898.0 L1482.0 897.8 L1483.0 897.7 L1484.0 897.6 L1485.0 897.4 L1486.0 897.3 L1487.0 897.2 L1488.0 897.0 L1489.0 896.9 L1490.0 896.7 L1491.0 896.5 L1492.0 896.4 L1493.0 896.2 L1494.0 896.0 L1495.0 895.9 L1496.0 895.7 L1497.0 895.5 L1498.0 895.3 L1499.0 895.1 L1500.0 894.9 L1501.0 894.7 L1502.0 894.5 L1503.0 894.3 L1504.0 894.0 L1505.0 893.8 L1506.0 893.6 L1507.0 893.3 L1508.0 893.1 L1509.0 892.8 L1510.0 892.6 L1511.0 892.3 L1512.0 892.0 L1513.0 891.8 L1514.0 891.5 L1515.0 891.2 L1516.0 890.9 L1517.0 890.6 L1518.0 890.3 L1519.0 889.9 L1520.0 889.6 L1521.0 889.3 L1522.0 888.9 L1523.0 888.6 L1524.0 888.2 L1525.0 887.8 L1526.0 887.5 L1527.0 887.1 L1528.0 886.7 L1529.0 886.3 L1530.0 885.8 L1531.0 885.4 L1532.0 885.0 L1533.0 884.5 L1534.0 884.1 L1535.0 883.6 L1536.0 883.1 L1537.0 882.7 L1538.0 882.2 L1539.0 881.7 L1540.0 881.1 L1541.0 880.6 L1542.0 880.1 L1543.0 879.5 L1544.0 878.9 L1545.0 878.4 L1546.0 877.8 L1547.0 877.2 L1548.0 876.6 L1549.0 875.9 L1550.0 875.3 L1551.0 874.6 L1552.0 874.0 L1553.0 873.3 L1554.0 872.6 L1555.0 871.9 L1556.0 871.2 L1557.0 870.4 L1558.0 869.7 L1559.0 868.9 L1560.0 868.1 L1561.0 867.3 L1562.0 866.5 L1563.0 865.7 L1564.0 864.9 L1565.0 864.0 L1566.0 863.1 L1567.0 862.2 L1568.0 861.3 L1569.0 860.4 L1570.0 859.4 L1571.0 858.5 L1572.0 857.5 L1573.0 856.5 L1574.0 855.5 L1575.0 854.5 L1576.0 853.4 L1577.0 852.3 L1578.0 851.2 L1579.0 850.1 L1580.0 849.0 L1581.0 847.8 L1582.0 846.7 L1583.0 845.5 L1584.0 844.3 L1585.0 843.1 L1586.0 841.8 L1587.0 840.5 L1588.0 839.2 L1589.0 837.9 L1590.0 836.6 L1591.0 835.2 L1592.0 833.8 L1593.0 832.4 L1594.0 831.0 L1595.0 829.6 L1596.0 828.1 L1597.0 826.6 L1598.0 825.1 L1599.0 823.6 L1600.0 822.0 L1601.0 820.4 L1602.0 818.8 L1603.0 817.2 L1604.0 815.5 L1605.0 813.8 L1606.0 812.1 L1607.0 810.4 L1608.0 808.6 L1609.0 806.8 L1610.0 805.0 L1611.0 803.2 L1612.0 801.3 L1613.0 799.5 L1614.0 797.5 L1615.0 795.6 L1616.0 793.6 L1617.0 791.7 L1618.0 789.6 L1619.0 787.6 L1620.0 785.5 L1621.0 783.4 L1622.0 781.3 L1623.0 779.2 L1624.0 777.0 L1625.0 774.8 L1626.0 772.6 L1627.0 770.3 L1628.0 768.0 L1629.0 765.7 L1630.0 763.4 L1631.0 761.0 L1632.0 758.6 L1633.0 756.2 L1634.0 753.8 L1635.0 751.3 L1636.0 748.8 L1637.0 746.2 L1638.0 743.7 L1639.0 741.1 L1640.0 738.5 L1641.0 735.9 L1642.0 733.2 L1643.0 730.5 L1644.0 727.8 L1645.0 725.0 L1646.0 722.3 L1647.0 719.5 L1648.0 716.6 L1649.0 713.8 L1650.0 710.9 L1651.0 708.0 L1652.0 705.0 L1653.0 702.1 L1654.0 699.1 L1655.0 696.1 L1656.0 693.0 L1657.0 690.0 L1658.0 686.9 L1659.0 683.8 L1660.0 680.6 L1661.0 677.5 L1662.0 674.3 L1663.0 671.1 L1664.0 667.8 L1665.0 664.6 L1666.0 661.3 L1667.0 658.0 L1668.0 654.6 L1669.0 651.3 L1670.0 647.9 L1671.0 644.5 L1672.0 641.1 L1673.0 637.7 L1674.0 634.2 L1675.0 630.7 L1676.0 627.2 L1677.0 623.7 L1678.0 620.1 L1679.0 616.6 L1680.0 613.0 L1681.0 609.4 L1682.0 605.8 L1683.0 602.1 L1684.0 598.5 L1685.0 594.8 L1686.0 591.1 L1687.0 587.4 L1688.0 583.7 L1689.0 580.0 L1690.0 576.2 L1691.0 572.5 L1692.0 568.7 L1693.0 564.9 L1694.0 561.1 L1695.0 557.3 L1696.0 553.5 L1697.0 549.7 L1698.0 545.8 L1699.0 542.0 L1700.0 538.1 L1701.0 534.2 L1702.0 530.4 L1703.0 526.5 L1704.0 522.6 L1705.0 518.7 L1706.0 514.8 L1707.0 510.9 L1708.0 507.0 L1709.0 503.1 L1710.0 499.2 L1711.0 495.3 L1712.0 491.4 L1713.0 487.5 L1714.0 483.6 L1715.0 479.6 L1716.0 475.7 L1717.0 471.8 L1718.0 467.9 L1719.0 464.0 L1720.0 460.2 L1721.0 456.3 L1722.0 452.4 L1723.0 448.5 L1724.0 444.7 L1725.0 440.8 L1726.0 437.0 L1727.0 433.1 L1728.0 429.3 L1729.0 425.5 L1730.0 421.7 L1731.0 417.9 L1732.0 414.2 L1733.0 410.4 L1734.0 406.7 L1735.0 402.9 L1736.0 399.2 L1737.0 395.6 L1738.0 391.9 L1739.0 388.2 L1740.0 384.6 L1741.0 381.0 L1742.0 377.4 L1743.0 373.9 L1744.0 370.3 L1745.0 366.8 L1746.0 363.4 L1747.0 359.9 L1748.0 356.5 L1749.0 353.1 L1750.0 349.7 L1751.0 346.4 L1752.0 343.0 L1753.0 339.8 L1754.0 336.5 L1755.0 333.3 L1756.0 330.1 L1757.0 327.0 L1758.0 323.9 L1759.0 320.8 L1760.0 317.8 L1761.0 314.8 L1762.0 311.8 L1763.0 308.9 L1764.0 306.0 L1765.0 303.1 L1766.0 300.3 L1767.0 297.6 L1768.0 294.8 L1769.0 292.2 L1770.0 289.5 L1771.0 286.9 L1772.0 284.4 L1773.0 281.9 L1774.0 279.5 L1775.0 277.1 L1776.0 274.7 L1777.0 272.4 L1778.0 270.1 L1779.0 267.9 L1780.0 265.8 L1781.0 263.6 L1782.0 261.6 L1783.0 259.6 L1784.0 257.6 L1785.0 255.7 L1786.0 253.9 L1787.0 252.1 L1788.0 250.3 L1789.0 248.6 L1790.0 247.0 L1791.0 245.4 L1792.0 243.9 L1793.0 242.5 L1794.0 241.0 L1795.0 239.7 L1796.0 238.4 L1797.0 237.2 L1798.0 236.0 L1799.0 234.9 L1800.0 233.8 L1801.0 232.8 L1802.0 231.9 L1803.0 231.0 L1804.0 230.2 L1805.0 229.4 L1806.0 228.7 L1807.0 228.1 L1808.0 227.5 L1809.0 227.0 L1810.0 226.5 L1811.0 226.1 L1812.0 225.8 L1813.0 225.5 L1814.0 225.3 L1815.0 225.1 L1816.0 225.0 L1817.0 225.0 L1818.0 225.0 L1819.0 225.2 L1820.0 225.4 L1821.0 225.6 L1822.0 226.0 L1823.0 226.4 L1824.0 226.9 L1825.0 227.5 L1826.0 228.2 L1827.0 228.9 L1828.0 229.8 L1829.0 230.7 L1830.0 231.7 L1831.0 232.7 L1832.0 233.8 L1833.0 235.1 L1834.0 236.3 L1835.0 237.7 L1836.0 239.1 L1837.0 240.6 L1838.0 242.2 L1839.0 243.9 L1840.0 245.6 L1841.0 247.4 L1842.0 249.3 L1843.0 251.2 L1844.0 253.2 L1845.0 255.3 L1846.0 257.5 L1847.0 259.7 L1848.0 262.0 L1849.0 264.3 L1850.0 266.7 L1851.0 269.2 L1852.0 271.8 L1853.0 274.4 L1854.0 277.1 L1855.0 279.8 L1856.0 282.6 L1857.0 285.4 L1858.0 288.3 L1859.0 291.3 L1860.0 294.3 L1861.0 297.4 L1862.0 300.6 L1863.0 303.7 L1864.0 307.0 L1865.0 310.3 L1866.0 313.6 L1867.0 317.0 L1868.0 320.5 L1869.0 324.0 L1870.0 327.5 L1871.0 331.1 L1872.0 334.7 L1873.0 338.4 L1874.0 342.1 L1875.0 345.8 L1876.0 349.6 L1877.0 353.4 L1878.0 357.3 L1879.0 361.2 L1880.0 365.1 L1881.0 369.1 L1882.0 373.1 L1883.0 377.1 L1884.0 381.2 L1885.0 385.3 L1886.0 389.4 L1887.0 393.6 L1888.0 397.7 L1889.0 401.9 L1890.0 406.2 L1891.0 410.4 L1892.0 414.7 L1893.0 418.9 L1894.0 423.2 L1895.0 427.6 L1896.0 431.9 L1897.0 436.2 L1898.0 440.6 L1899.0 445.0 L1900.0 449.4 L1901.0 453.8 L1902.0 458.2 L1903.0 462.6 L1904.0 467.0 L1905.0 471.4 L1906.0 475.8 L1907.0 480.3 L1908.0 484.7 L1909.0 489.2 L1910.0 493.6 L1911.0 498.0 L1912.0 502.5 L1913.0 506.9 L1914.0 511.3 L1915.0 515.8 L1916.0 520.2 L1917.0 524.6 L1918.0 529.0 L1919.0 533.4 L1920.0 537.8 L1921.0 542.2 L1922.0 546.5 L1923.0 550.9 L1924.0 555.2 L1925.0 559.6 L1926.0 563.9 L1927.0 568.2 L1928.0 572.5 L1929.0 576.7 L1930.0 581.0 L1931.0 585.2 L1932.0 589.4 L1933.0 593.6 L1934.0 597.8 L1935.0 601.9 L1936.0 606.1 L1937.0 610.2 L1938.0 614.2 L1939.0 618.3 L1940.0 622.3 L1941.0 626.3 L1942.0 630.3 L1943.0 634.3 L1944.0 638.2 L1945.0 642.1 L1946.0 646.0 L1947.0 649.8 L1948.0 653.7 L1949.0 657.4 L1950.0 661.2 L1951.0 664.9 L1952.0 668.6 L1953.0 672.3 L1954.0 675.9 L1955.0 679.5 L1956.0 683.1 L1957.0 686.6 L1958.0 690.1 L1959.0 693.6 L1960.0 697.1 L1961.0 700.5 L1962.0 703.8 L1963.0 707.2 L1964.0 710.5 L1965.0 713.8 L1966.0 717.0 L1967.0 720.2 L1968.0 723.1 L1969.0 726.0 L1970.0 728.9 L1971.0 731.7 L1972.0 734.4 L1973.0 737.2 L1974.0 739.9 L1975.0 742.6 L1976.0 745.3 L1977.0 747.9 L1978.0 750.5 L1979.0 753.0 L1980.0 755.6 L1981.0 758.0 L1982.0 760.5 L1983.0 762.9 L1984.0 765.3 L1985.0 767.7 L1986.0 770.1 L1987.0 772.4 L1988.0 774.6 L1989.0 776.9 L1990.0 779.1 L1991.0 781.3 L1992.0 783.4 L1993.0 785.6 L1994.0 787.7 L1995.0 789.7 L1996.0 791.8 L1997.0 793.8 L1998.0 795.7 L1999.0 797.7 L2000.0 799.6 L2001.0 801.5 L2002.0 803.4 L2003.0 805.2 L2004.0 807.0 L2005.0 808.8 L2006.0 810.6 L2007.0 812.3 L2008.0 814.0 L2009.0 815.7 L2010.0 817.3 L2011.0 819.0 L2012.0 820.6 L2013.0 822.1 L2014.0 823.7 L2015.0 825.2 L2016.0 826.7 L2017.0 828.2 L2018.0 829.6 L2019.0 831.1 L2020.0 832.5 L2021.0 833.8 L2022.0 835.2 L2023.0 836.5 L2024.0 837.9 L2025.0 839.1 L2026.0 840.4 L2027.0 841.7 L2028.0 842.9 L2029.0 844.1 L2030.0 845.3 L2031.0 846.4 L2032.0 847.6 L2033.0 848.7 L2034.0 849.8 L2035.0 850.9 L2036.0 852.0 L2037.0 853.0 L2038.0 854.0 L2039.0 855.0 L2040.0 856.0 L2041.0 857.0 L2042.0 857.9 L2043.0 858.9 L2044.0 859.8 L2045.0 860.7 L2046.0 861.6 L2047.0 862.5 L2048.0 863.3 L2049.0 864.1 L2050.0 865.0 L2051.0 865.8 L2052.0 866.6 L2053.0 867.3 L2054.0 868.1 L2055.0 868.8 L2056.0 869.6 L2057.0 870.3 L2058.0 871.0 L2059.0 871.7 L2060.0 872.4 L2061.0 873.0 L2062.0 873.7 L2063.0 874.3 L2064.0 874.9 L2065.0 875.5 L2066.0 876.1 L2067.0 876.7 L2068.0 877.3 L2069.0 877.8 L2070.0 878.4 L2071.0 878.9 L2072.0 879.5 L2073.0 880.0 L2074.0 880.5 L2075.0 881.0 L2076.0 881.5 L2077.0 881.9 L2078.0 882.4 L2079.0 882.9 L2080.0 883.3 L2081.0 883.8 L2082.0 884.2 L2083.0 884.6 L2084.0 885.0 L2085.0 885.4 L2086.0 885.8 L2087.0 886.2 L2088.0 886.6 L2089.0 886.9 L2090.0 887.3 L2091.0 887.6 L2092.0 888.0 L2093.0 888.3 L2094.0 888.7 L2095.0 889.0 L2096.0 889.3 L2097.0 889.6 L2098.0 889.9 L2099.0 890.2 L2100.0 890.5 L2101.0 890.8 L2102.0 891.0 L2103.0 891.3 L2104.0 891.6 L2105.0 891.8 L2106.0 892.1 L2107.0 892.3 L2108.0 892.6 L2109.0 892.8 L2110.0 893.0 L2111.0 893.2 L2112.0 893.5 L2113.0 893.7 L2114.0 893.9 L2115.0 894.1 L2116.0 894.3 L2117.0 894.5 L2118.0 894.7 L2119.0 894.9 L2120.0 895.0 L2121.0 895.2 L2122.0 895.4 L2123.0 895.6 L2124.0 895.7 L2125.0 895.9 L2126.0 896.0 L2127.0 896.2 L2128.0 896.3 L2129.0 896.5 L2130.0 896.6 L2131.0 896.8 L2132.0 896.9 L2133.0 897.0 L2134.0 897.2 L2135.0 897.3 L2136.0 897.4 L2137.0 897.5 L2138.0 897.6 L2139.0 897.8 L2140.0 897.9 L2141.0 898.0 L2142.0 898.1 L2143.0 898.2 L2144.0 898.3 L2145.0 898.4 L2146.0 898.5 L2147.0 898.6 L2148.0 898.7 L2149.0 898.7 L2150.0 898.8 L2151.0 898.9 L2152.0 899.0 L2153.0 899.1 L2154.0 899.2 L2155.0 899.2 L2156.0 899.3 L2157.0 899.4 L2158.0 899.5 L2159.0 899.5 L2160.0 899.6 L2161.0 899.7 L2162.0 899.7 L2163.0 899.8 L2164.0 899.8 L2165.0 899.9 L2166.0 900.0 L2167.0 900.0 L2168.0 900.1 L2169.0 900.1 L2170.0 900.2 L2171.0 900.2 L2172.0 900.3 L2173.0 900.3 L2174.0 900.4 L2175.0 900.4 L2176.0 900.5 L2177.0 900.5 L2178.0 900.5 L2179.0 900.6 L2180.0 900.6 L2181.0 900.7 L2182.0 900.7 L2183.0 900.7 L2184.0 900.8 L2185.0 900.8 L2186.0 900.8 L2187.0 900.9 L2188.0 900.9 L2189.0 900.9 L2190.0 901.0 L2191.0 901.0 L2192.0 901.0 L2193.0 901.0 L2194.0 901.1 L2195.0 901.1 L2196.0 901.1 L2197.0 901.1 L2198.0 901.2 L2199.0 901.2 L2200.0 901.2 L2201.0 901.2 L2202.0 901.3 L2203.0 901.3 L2204.0 901.3 L2205.0 901.3 L2206.0 901.3 L2207.0 901.4 L2208.0 901.4 L2209.0 901.4 L2210.0 901.4 L2211.0 901.4 L2212.0 901.4 L2213.0 901.5 L2214.0 901.5 L2215.0 901.5 L2216.0 901.5 L2217.0 901.5 L2218.0 901.5 L2219.0 901.5 L2220.0 901.6 L2221.0 901.6 L2222.0 901.6 L2223.0 901.6 L2224.0 901.6 L2225.0 901.6 L2226.0 901.6 L2227.0 901.6 L2228.0 901.7 L2229.0 901.7 L2230.0 901.7 L2231.0 901.7 L2232.0 901.7 L2233.0 901.7 L2234.0 901.7 L2235.0 901.7 L2236.0 901.7 L2237.0 901.7 L2238.0 901.7 L2239.0 901.8 L2240.0 901.8 L2241.0 901.8 L2242.0 901.8 L2243.0 901.8 L2244.0 901.8 L2245.0 901.8 L2246.0 901.8 L2247.0 901.8 L2248.0 901.8 L2249.0 901.8 L2250.0 901.8 L2251.0 901.8 L2252.0 901.8 L2253.0 901.8 L2254.0 901.8 L2255.0 901.8 L2256.0 901.9" fill="none" stroke="#0F67A4" stroke-width="8" stroke-linejoin="round" stroke-linecap="butt"/>
<path d="M1338.0 902.0 L1339.0 902.0 L1340.0 902.0 L1341.0 902.0 L1342.0 902.0 L1343.0 902.0 L1344.0 902.0 L1345.0 902.0 L1346.0 902.0 L1347.0 902.0 L1348.0 902.0 L1349.0 902.0 L1350.0 902.0 L1351.0 902.0 L1352.0 902.0 L1353.0 902.0 L1354.0 902.0 L1355.0 902.0 L1356.0 902.0 L1357.0 902.0 L1358.0 902.0 L1359.0 902.0 L1360.0 901.9 L1361.0 901.9 L1362.0 901.9 L1363.0 901.9 L1364.0 901.9 L1365.0 901.9 L1366.0 901.9 L1367.0 901.9 L1368.0 901.9 L1369.0 901.9 L1370.0 901.9 L1371.0 901.9 L1372.0 901.9 L1373.0 901.9 L1374.0 901.9 L1375.0 901.9 L1376.0 901.9 L1377.0 901.9 L1378.0 901.9 L1379.0 901.9 L1380.0 901.9 L1381.0 901.9 L1382.0 901.9 L1383.0 901.9 L1384.0 901.9 L1385.0 901.9 L1386.0 901.9 L1387.0 901.8 L1388.0 901.8 L1389.0 901.8 L1390.0 901.8 L1391.0 901.8 L1392.0 901.8 L1393.0 901.8 L1394.0 901.8 L1395.0 901.8 L1396.0 901.8 L1397.0 901.8 L1398.0 901.8 L1399.0 901.8 L1400.0 901.7 L1401.0 901.7 L1402.0 901.7 L1403.0 901.7 L1404.0 901.7 L1405.0 901.7 L1406.0 901.7 L1407.0 901.7 L1408.0 901.7 L1409.0 901.6 L1410.0 901.6 L1411.0 901.6 L1412.0 901.6 L1413.0 901.6 L1414.0 901.6 L1415.0 901.6 L1416.0 901.5 L1417.0 901.5 L1418.0 901.5 L1419.0 901.5 L1420.0 901.5 L1421.0 901.5 L1422.0 901.4 L1423.0 901.4 L1424.0 901.4 L1425.0 901.4 L1426.0 901.3 L1427.0 901.3 L1428.0 901.3 L1429.0 901.3 L1430.0 901.2 L1431.0 901.2 L1432.0 901.2 L1433.0 901.2 L1434.0 901.1 L1435.0 901.1 L1436.0 901.1 L1437.0 901.0 L1438.0 901.0 L1439.0 901.0 L1440.0 900.9 L1441.0 900.9 L1442.0 900.9 L1443.0 900.8 L1444.0 900.8 L1445.0 900.7 L1446.0 900.7 L1447.0 900.6 L1448.0 900.6 L1449.0 900.6 L1450.0 900.5 L1451.0 900.5 L1452.0 900.4 L1453.0 900.3 L1454.0 900.3 L1455.0 900.2 L1456.0 900.2 L1457.0 900.1 L1458.0 900.1 L1459.0 900.0 L1460.0 899.9 L1461.0 899.9 L1462.0 899.8 L1463.0 899.7 L1464.0 899.6 L1465.0 899.6 L1466.0 899.5 L1467.0 899.4 L1468.0 899.3 L1469.0 899.2 L1470.0 899.1 L1471.0 899.0 L1472.0 899.0 L1473.0 898.9 L1474.0 898.8 L1475.0 898.7 L1476.0 898.6 L1477.0 898.4 L1478.0 898.3 L1479.0 898.2 L1480.0 898.1 L1481.0 898.0 L1482.0 897.9 L1483.0 897.7 L1484.0 897.6 L1485.0 897.5 L1486.0 897.3 L1487.0 897.2 L1488.0 897.0 L1489.0 896.9 L1490.0 896.7 L1491.0 896.6 L1492.0 896.4 L1493.0 896.2 L1494.0 896.1 L1495.0 895.9 L1496.0 895.7 L1497.0 895.5 L1498.0 895.3 L1499.0 895.1 L1500.0 894.9 L1501.0 894.7 L1502.0 894.5 L1503.0 894.3 L1504.0 894.1 L1505.0 893.9 L1506.0 893.6 L1507.0 893.4 L1508.0 893.1 L1509.0 892.9 L1510.0 892.6 L1511.0 892.4 L1512.0 892.1 L1513.0 891.8 L1514.0 891.5 L1515.0 891.2 L1516.0 890.9 L1517.0 890.6 L1518.0 890.3 L1519.0 890.0 L1520.0 889.7 L1521.0 889.3 L1522.0 889.0 L1523.0 888.6 L1524.0 888.3 L1525.0 887.9 L1526.0 887.5 L1527.0 887.2 L1528.0 886.8 L1529.0 886.4 L1530.0 885.9 L1531.0 885.5 L1532.0 885.1 L1533.0 884.6 L1534.0 884.2 L1535.0 883.7 L1536.0 883.3 L1537.0 882.8 L1538.0 882.3 L1539.0 881.8 L1540.0 881.3 L1541.0 880.7 L1542.0 880.2 L1543.0 879.6 L1544.0 879.1 L1545.0 878.5 L1546.0 877.9 L1547.0 877.3 L1548.0 876.7 L1549.0 876.1 L1550.0 875.5 L1551.0 874.8 L1552.0 874.1 L1553.0 873.5 L1554.0 872.8 L1555.0 872.1 L1556.0 871.4 L1557.0 870.6 L1558.0 869.9 L1559.0 869.1 L1560.0 868.3 L1561.0 867.5 L1562.0 866.7 L1563.0 865.9 L1564.0 865.1 L1565.0 864.2 L1566.0 863.3 L1567.0 862.5 L1568.0 861.6 L1569.0 860.6 L1570.0 859.7 L1571.0 858.7 L1572.0 857.8 L1573.0 856.8 L1574.0 855.8 L1575.0 854.7 L1576.0 853.7 L1577.0 852.6 L1578.0 851.5 L1579.0 850.4 L1580.0 849.3 L1581.0 848.2 L1582.0 847.0 L1583.0 845.8 L1584.0 844.6 L1585.0 843.4 L1586.0 842.2 L1587.0 840.9 L1588.0 839.6 L1589.0 838.3 L1590.0 837.0 L1591.0 835.6 L1592.0 834.2 L1593.0 832.9 L1594.0 831.4 L1595.0 830.0 L1596.0 828.5 L1597.0 827.1 L1598.0 825.5 L1599.0 824.0 L1600.0 822.5 L1601.0 820.9 L1602.0 819.3 L1603.0 817.7 L1604.0 816.0 L1605.0 814.3 L1606.0 812.6 L1607.0 810.9 L1608.0 809.2 L1609.0 807.4 L1610.0 805.6 L1611.0 803.8 L1612.0 801.9 L1613.0 800.1 L1614.0 798.2 L1615.0 796.2 L1616.0 794.3 L1617.0 792.3 L1618.0 790.3 L1619.0 788.3 L1620.0 786.2 L1621.0 784.1 L1622.0 782.0 L1623.0 779.9 L1624.0 777.7 L1625.0 775.5 L1626.0 773.3 L1627.0 771.1 L1628.0 768.8 L1629.0 766.5 L1630.0 764.2 L1631.0 761.8 L1632.0 759.5 L1633.0 757.1 L1634.0 754.6 L1635.0 752.2 L1636.0 749.7 L1637.0 747.2 L1638.0 744.6 L1639.0 742.1 L1640.0 739.5 L1641.0 736.8 L1642.0 734.2 L1643.0 731.5 L1644.0 728.8 L1645.0 726.1 L1646.0 723.3 L1647.0 720.5 L1648.0 717.7 L1649.0 714.9 L1650.0 712.0 L1651.0 709.1 L1652.0 706.2 L1653.0 703.3 L1654.0 700.3 L1655.0 697.3 L1656.0 694.3 L1657.0 691.2 L1658.0 688.2 L1659.0 685.1 L1660.0 681.9 L1661.0 678.8 L1662.0 675.6 L1663.0 672.4 L1664.0 669.2 L1665.0 666.0 L1666.0 662.7 L1667.0 659.4 L1668.0 656.1 L1669.0 652.8 L1670.0 649.4 L1671.0 646.0 L1672.0 642.6 L1673.0 639.2 L1674.0 635.8 L1675.0 632.3 L1676.0 628.8 L1677.0 625.3 L1678.0 621.8 L1679.0 618.3 L1680.0 614.7 L1681.0 611.1 L1682.0 607.5 L1683.0 603.9 L1684.0 600.3 L1685.0 596.6 L1686.0 593.0 L1687.0 589.3 L1688.0 585.6 L1689.0 581.9 L1690.0 578.2 L1691.0 574.4 L1692.0 570.7 L1693.0 566.9 L1694.0 563.1 L1695.0 559.3 L1696.0 555.5 L1697.0 551.7 L1698.0 547.9 L1699.0 544.1 L1700.0 540.3 L1701.0 536.4 L1702.0 532.6 L1703.0 528.7 L1704.0 524.8 L1705.0 521.0 L1706.0 517.1 L1707.0 513.2 L1708.0 509.3 L1709.0 505.5 L1710.0 501.6 L1711.0 497.7 L1712.0 493.8 L1713.0 489.9 L1714.0 486.0 L1715.0 482.1 L1716.0 478.3 L1717.0 474.4 L1718.0 470.5 L1719.0 466.6 L1720.0 462.8 L1721.0 458.9 L1722.0 455.0 L1723.0 451.2 L1724.0 447.4 L1725.0 443.5 L1726.0 439.7 L1727.0 435.9 L1728.0 432.1 L1729.0 428.3 L1730.0 424.5 L1731.0 420.7 L1732.0 417.0 L1733.0 413.2 L1734.0 409.5 L1735.0 405.8 L1736.0 402.1 L1737.0 398.4 L1738.0 394.8 L1739.0 391.1 L1740.0 387.5 L1741.0 383.9 L1742.0 380.3 L1743.0 376.7 L1744.0 373.2 L1745.0 369.7 L1746.0 366.2 L1747.0 362.7 L1748.0 359.2 L1749.0 355.8 L1750.0 352.4 L1751.0 349.0 L1752.0 345.6 L1753.0 342.3 L1754.0 338.9 L1755.0 335.6 L1756.0 332.4 L1757.0 329.1 L1758.0 325.9 L1759.0 322.7 L1760.0 319.6 L1761.0 316.5 L1762.0 313.4 L1763.0 310.3 L1764.0 307.3 L1765.0 304.3 L1766.0 301.4 L1767.0 298.4 L1768.0 295.6 L1769.0 292.7 L1770.0 290.0 L1771.0 287.2 L1772.0 284.5 L1773.0 281.9 L1774.0 279.3 L1775.0 276.7 L1776.0 274.3 L1777.0 271.8 L1778.0 269.4 L1779.0 267.1 L1780.0 264.9 L1781.0 262.7 L1782.0 260.6 L1783.0 258.5 L1784.0 256.5 L1785.0 254.6 L1786.0 252.7 L1787.0 250.9 L1788.0 249.2 L1789.0 247.5 L1790.0 246.0 L1791.0 244.4 L1792.0 243.0 L1793.0 241.6 L1794.0 240.3 L1795.0 239.1 L1796.0 237.9 L1797.0 236.8 L1798.0 235.8 L1799.0 234.8 L1800.0 233.9 L1801.0 233.1 L1802.0 232.3 L1803.0 231.6 L1804.0 230.9 L1805.0 230.3 L1806.0 229.8 L1807.0 229.3 L1808.0 228.9 L1809.0 228.6 L1810.0 228.3 L1811.0 228.0 L1812.0 227.9 L1813.0 227.7 L1814.0 227.7 L1815.0 227.6 L1816.0 227.7 L1817.0 227.8 L1818.0 227.9 L1819.0 228.1 L1820.0 228.4 L1821.0 228.8 L1822.0 229.2 L1823.0 229.8 L1824.0 230.3 L1825.0 231.0 L1826.0 231.7 L1827.0 232.5 L1828.0 233.4 L1829.0 234.4 L1830.0 235.4 L1831.0 236.5 L1832.0 237.7 L1833.0 238.9 L1834.0 240.2 L1835.0 241.6 L1836.0 243.1 L1837.0 244.6 L1838.0 246.2 L1839.0 247.9 L1840.0 249.6 L1841.0 251.5 L1842.0 253.3 L1843.0 255.3 L1844.0 257.3 L1845.0 259.4 L1846.0 261.6 L1847.0 263.8 L1848.0 266.1 L1849.0 268.5 L1850.0 270.9 L1851.0 273.4 L1852.0 276.0 L1853.0 278.6 L1854.0 281.3 L1855.0 284.0 L1856.0 286.8 L1857.0 289.7 L1858.0 292.6 L1859.0 295.6 L1860.0 298.6 L1861.0 301.7 L1862.0 304.9 L1863.0 308.1 L1864.0 311.3 L1865.0 314.6 L1866.0 318.0 L1867.0 321.4 L1868.0 324.9 L1869.0 328.4 L1870.0 331.9 L1871.0 335.5 L1872.0 339.1 L1873.0 342.8 L1874.0 346.5 L1875.0 350.3 L1876.0 354.1 L1877.0 357.9 L1878.0 361.8 L1879.0 365.7 L1880.0 369.7 L1881.0 373.6 L1882.0 377.7 L1883.0 381.7 L1884.0 385.8 L1885.0 389.9 L1886.0 394.0 L1887.0 398.1 L1888.0 402.3 L1889.0 406.5 L1890.0 410.8 L1891.0 415.0 L1892.0 419.3 L1893.0 423.6 L1894.0 427.9 L1895.0 432.2 L1896.0 436.5 L1897.0 440.9 L1898.0 445.2 L1899.0 449.6 L1900.0 454.0 L1901.0 458.4 L1902.0 462.8 L1903.0 467.2 L1904.0 471.6 L1905.0 476.1 L1906.0 480.5 L1907.0 484.9 L1908.0 489.4 L1909.0 493.8 L1910.0 498.2 L1911.0 502.7 L1912.0 507.1 L1913.0 511.5 L1914.0 516.0 L1915.0 520.4 L1916.0 524.8 L1917.0 529.2 L1918.0 533.6 L1919.0 538.0 L1920.0 542.4 L1921.0 546.8 L1922.0 551.1 L1923.0 555.5 L1924.0 559.8 L1925.0 564.1 L1926.0 568.4 L1927.0 572.7 L1928.0 577.0 L1929.0 581.2 L1930.0 585.5 L1931.0 589.7 L1932.0 593.9 L1933.0 598.1 L1934.0 602.2 L1935.0 606.3 L1936.0 610.5 L1937.0 614.5 L1938.0 618.6 L1939.0 622.6 L1940.0 626.7 L1941.0 630.6 L1942.0 634.6 L1943.0 638.5 L1944.0 642.5 L1945.0 646.3 L1946.0 650.2 L1947.0 654.0 L1948.0 657.8 L1949.0 661.6 L1950.0 665.3 L1951.0 669.0 L1952.0 672.7 L1953.0 676.3 L1954.0 679.9 L1955.0 683.5 L1956.0 687.1 L1957.0 690.6 L1958.0 694.0 L1959.0 697.5 L1960.0 700.9 L1961.0 704.3 L1962.0 707.6 L1963.0 711.0 L1964.0 714.2 L1965.0 717.5 L1966.0 720.7 L1967.0 723.9 L1968.0 726.7 L1969.0 729.6 L1970.0 732.4 L1971.0 735.2 L1972.0 737.9 L1973.0 740.7 L1974.0 743.4 L1975.0 746.0 L1976.0 748.6 L1977.0 751.2 L1978.0 753.8 L1979.0 756.3 L1980.0 758.8 L1981.0 761.3 L1982.0 763.7 L1983.0 766.1 L1984.0 768.5 L1985.0 770.8 L1986.0 773.1 L1987.0 775.4 L1988.0 777.6 L1989.0 779.9 L1990.0 782.0 L1991.0 784.2 L1992.0 786.3 L1993.0 788.4 L1994.0 790.5 L1995.0 792.5 L1996.0 794.5 L1997.0 796.5 L1998.0 798.5 L1999.0 800.4 L2000.0 802.3 L2001.0 804.1 L2002.0 806.0 L2003.0 807.8 L2004.0 809.6 L2005.0 811.3 L2006.0 813.0 L2007.0 814.7 L2008.0 816.4 L2009.0 818.1 L2010.0 819.7 L2011.0 821.3 L2012.0 822.8 L2013.0 824.4 L2014.0 825.9 L2015.0 827.4 L2016.0 828.9 L2017.0 830.3 L2018.0 831.7 L2019.0 833.1 L2020.0 834.5 L2021.0 835.9 L2022.0 837.2 L2023.0 838.5 L2024.0 839.8 L2025.0 841.1 L2026.0 842.3 L2027.0 843.5 L2028.0 844.7 L2029.0 845.9 L2030.0 847.1 L2031.0 848.2 L2032.0 849.3 L2033.0 850.4 L2034.0 851.5 L2035.0 852.6 L2036.0 853.6 L2037.0 854.6 L2038.0 855.6 L2039.0 856.6 L2040.0 857.6 L2041.0 858.5 L2042.0 859.4 L2043.0 860.4 L2044.0 861.3 L2045.0 862.1 L2046.0 863.0 L2047.0 863.8 L2048.0 864.7 L2049.0 865.5 L2050.0 866.3 L2051.0 867.1 L2052.0 867.8 L2053.0 868.6 L2054.0 869.3 L2055.0 870.1 L2056.0 870.8 L2057.0 871.5 L2058.0 872.1 L2059.0 872.8 L2060.0 873.5 L2061.0 874.1 L2062.0 874.7 L2063.0 875.4 L2064.0 876.0 L2065.0 876.6 L2066.0 877.1 L2067.0 877.7 L2068.0 878.3 L2069.0 878.8 L2070.0 879.3 L2071.0 879.9 L2072.0 880.4 L2073.0 880.9 L2074.0 881.4 L2075.0 881.8 L2076.0 882.3 L2077.0 882.8 L2078.0 883.2 L2079.0 883.7 L2080.0 884.1 L2081.0 884.5 L2082.0 884.9 L2083.0 885.3 L2084.0 885.7 L2085.0 886.1 L2086.0 886.5 L2087.0 886.9 L2088.0 887.2 L2089.0 887.6 L2090.0 887.9 L2091.0 888.3 L2092.0 888.6 L2093.0 888.9 L2094.0 889.3 L2095.0 889.6 L2096.0 889.9 L2097.0 890.2 L2098.0 890.5 L2099.0 890.7 L2100.0 891.0 L2101.0 891.3 L2102.0 891.5 L2103.0 891.8 L2104.0 892.1 L2105.0 892.3 L2106.0 892.5 L2107.0 892.8 L2108.0 893.0 L2109.0 893.2 L2110.0 893.5 L2111.0 893.7 L2112.0 893.9 L2113.0 894.1 L2114.0 894.3 L2115.0 894.5 L2116.0 894.7 L2117.0 894.9 L2118.0 895.0 L2119.0 895.2 L2120.0 895.4 L2121.0 895.6 L2122.0 895.7 L2123.0 895.9 L2124.0 896.0 L2125.0 896.2 L2126.0 896.3 L2127.0 896.5 L2128.0 896.6 L2129.0 896.8 L2130.0 896.9 L2131.0 897.0 L2132.0 897.2 L2133.0 897.3 L2134.0 897.4 L2135.0 897.5 L2136.0 897.7 L2137.0 897.8 L2138.0 897.9 L2139.0 898.0 L2140.0 898.1 L2141.0 898.2 L2142.0 898.3 L2143.0 898.4 L2144.0 898.5 L2145.0 898.6 L2146.0 898.7 L2147.0 898.8 L2148.0 898.9 L2149.0 898.9 L2150.0 899.0 L2151.0 899.1 L2152.0 899.2 L2153.0 899.3 L2154.0 899.3 L2155.0 899.4 L2156.0 899.5 L2157.0 899.5 L2158.0 899.6 L2159.0 899.7 L2160.0 899.7 L2161.0 899.8 L2162.0 899.9 L2163.0 899.9 L2164.0 900.0 L2165.0 900.0 L2166.0 900.1 L2167.0 900.1 L2168.0 900.2 L2169.0 900.2 L2170.0 900.3 L2171.0 900.3 L2172.0 900.4 L2173.0 900.4 L2174.0 900.5 L2175.0 900.5 L2176.0 900.5 L2177.0 900.6 L2178.0 900.6 L2179.0 900.7 L2180.0 900.7 L2181.0 900.7 L2182.0 900.8 L2183.0 900.8 L2184.0 900.8 L2185.0 900.9 L2186.0 900.9 L2187.0 900.9 L2188.0 901.0 L2189.0 901.0 L2190.0 901.0 L2191.0 901.1 L2192.0 901.1 L2193.0 901.1 L2194.0 901.1 L2195.0 901.2 L2196.0 901.2 L2197.0 901.2 L2198.0 901.2 L2199.0 901.2 L2200.0 901.3 L2201.0 901.3 L2202.0 901.3 L2203.0 901.3 L2204.0 901.4 L2205.0 901.4 L2206.0 901.4 L2207.0 901.4 L2208.0 901.4 L2209.0 901.4 L2210.0 901.5 L2211.0 901.5 L2212.0 901.5 L2213.0 901.5 L2214.0 901.5 L2215.0 901.5 L2216.0 901.5 L2217.0 901.6 L2218.0 901.6 L2219.0 901.6 L2220.0 901.6 L2221.0 901.6 L2222.0 901.6 L2223.0 901.6 L2224.0 901.6 L2225.0 901.7 L2226.0 901.7 L2227.0 901.7 L2228.0 901.7 L2229.0 901.7 L2230.0 901.7 L2231.0 901.7 L2232.0 901.7 L2233.0 901.7 L2234.0 901.7 L2235.0 901.7 L2236.0 901.7 L2237.0 901.8 L2238.0 901.8 L2239.0 901.8 L2240.0 901.8 L2241.0 901.8 L2242.0 901.8 L2243.0 901.8 L2244.0 901.8 L2245.0 901.8 L2246.0 901.8 L2247.0 901.8 L2248.0 901.8 L2249.0 901.8 L2250.0 901.8 L2251.0 901.8 L2252.0 901.8 L2253.0 901.9 L2254.0 901.9 L2255.0 901.9 L2256.0 901.9" fill="none" stroke="#FFCC00" stroke-width="8" stroke-linejoin="round" stroke-linecap="butt"/>
<path d="M1338.0 902.0 L1339.0 902.0 L1340.0 902.0 L1341.0 902.0 L1342.0 902.0 L1343.0 902.0 L1344.0 902.0 L1345.0 902.0 L1346.0 902.0 L1347.0 902.0 L1348.0 902.0 L1349.0 902.0 L1350.0 902.0 L1351.0 902.0 L1352.0 902.0 L1353.0 902.0 L1354.0 902.0 L1355.0 902.0 L1356.0 902.0 L1357.0 902.0 L1358.0 902.0 L1359.0 902.0 L1360.0 902.0 L1361.0 902.0 L1362.0 902.0 L1363.0 901.9 L1364.0 901.9 L1365.0 901.9 L1366.0 901.9 L1367.0 901.9 L1368.0 901.9 L1369.0 901.9 L1370.0 901.9 L1371.0 901.9 L1372.0 901.9 L1373.0 901.9 L1374.0 901.9 L1375.0 901.9 L1376.0 901.9 L1377.0 901.9 L1378.0 901.9 L1379.0 901.9 L1380.0 901.9 L1381.0 901.9 L1382.0 901.9 L1383.0 901.9 L1384.0 901.9 L1385.0 901.9 L1386.0 901.9 L1387.0 901.9 L1388.0 901.9 L1389.0 901.9 L1390.0 901.8 L1391.0 901.8 L1392.0 901.8 L1393.0 901.8 L1394.0 901.8 L1395.0 901.8 L1396.0 901.8 L1397.0 901.8 L1398.0 901.8 L1399.0 901.8 L1400.0 901.8 L1401.0 901.8 L1402.0 901.8 L1403.0 901.7 L1404.0 901.7 L1405.0 901.7 L1406.0 901.7 L1407.0 901.7 L1408.0 901.7 L1409.0 901.7 L1410.0 901.7 L1411.0 901.7 L1412.0 901.6 L1413.0 901.6 L1414.0 901.6 L1415.0 901.6 L1416.0 901.6 L1417.0 901.6 L1418.0 901.6 L1419.0 901.5 L1420.0 901.5 L1421.0 901.5 L1422.0 901.5 L1423.0 901.5 L1424.0 901.5 L1425.0 901.4 L1426.0 901.4 L1427.0 901.4 L1428.0 901.4 L1429.0 901.3 L1430.0 901.3 L1431.0 901.3 L1432.0 901.3 L1433.0 901.2 L1434.0 901.2 L1435.0 901.2 L1436.0 901.2 L1437.0 901.1 L1438.0 901.1 L1439.0 901.1 L1440.0 901.0 L1441.0 901.0 L1442.0 901.0 L1443.0 900.9 L1444.0 900.9 L1445.0 900.9 L1446.0 900.8 L1447.0 900.8 L1448.0 900.7 L1449.0 900.7 L1450.0 900.7 L1451.0 900.6 L1452.0 900.6 L1453.0 900.5 L1454.0 900.5 L1455.0 900.4 L1456.0 900.4 L1457.0 900.3 L1458.0 900.2 L1459.0 900.2 L1460.0 900.1 L1461.0 900.1 L1462.0 900.0 L1463.0 899.9 L1464.0 899.9 L1465.0 899.8 L1466.0 899.7 L1467.0 899.6 L1468.0 899.6 L1469.0 899.5 L1470.0 899.4 L1471.0 899.3 L1472.0 899.2 L1473.0 899.1 L1474.0 899.1 L1475.0 899.0 L1476.0 898.9 L1477.0 898.8 L1478.0 898.7 L1479.0 898.6 L1480.0 898.4 L1481.0 898.3 L1482.0 898.2 L1483.0 898.1 L1484.0 898.0 L1485.0 897.9 L1486.0 897.7 L1487.0 897.6 L1488.0 897.5 L1489.0 897.3 L1490.0 897.2 L1491.0 897.0 L1492.0 896.9 L1493.0 896.7 L1494.0 896.6 L1495.0 896.4 L1496.0 896.2 L1497.0 896.1 L1498.0 895.9 L1499.0 895.7 L1500.0 895.5 L1501.0 895.3 L1502.0 895.1 L1503.0 894.9 L1504.0 894.7 L1505.0 894.5 L1506.0 894.3 L1507.0 894.1 L1508.0 893.8 L1509.0 893.6 L1510.0 893.4 L1511.0 893.1 L1512.0 892.9 L1513.0 892.6 L1514.0 892.3 L1515.0 892.1 L1516.0 891.8 L1517.0 891.5 L1518.0 891.2 L1519.0 890.9 L1520.0 890.6 L1521.0 890.3 L1522.0 890.0 L1523.0 889.6 L1524.0 889.3 L1525.0 888.9 L1526.0 888.6 L1527.0 888.2 L1528.0 887.9 L1529.0 887.5 L1530.0 887.1 L1531.0 886.7 L1532.0 886.3 L1533.0 885.9 L1534.0 885.4 L1535.0 885.0 L1536.0 884.6 L1537.0 884.1 L1538.0 883.6 L1539.0 883.2 L1540.0 882.7 L1541.0 882.2 L1542.0 881.7 L1543.0 881.2 L1544.0 880.6 L1545.0 880.1 L1546.0 879.5 L1547.0 879.0 L1548.0 878.4 L1549.0 877.8 L1550.0 877.2 L1551.0 876.6 L1552.0 875.9 L1553.0 875.3 L1554.0 874.7 L1555.0 874.0 L1556.0 873.3 L1557.0 872.6 L1558.0 871.9 L1559.0 871.2 L1560.0 870.4 L1561.0 869.7 L1562.0 868.9 L1563.0 868.1 L1564.0 867.3 L1565.0 866.5 L1566.0 865.7 L1567.0 864.8 L1568.0 864.0 L1569.0 863.1 L1570.0 862.2 L1571.0 861.3 L1572.0 860.4 L1573.0 859.4 L1574.0 858.5 L1575.0 857.5 L1576.0 856.5 L1577.0 855.5 L1578.0 854.4 L1579.0 853.4 L1580.0 852.3 L1581.0 851.2 L1582.0 850.1 L1583.0 849.0 L1584.0 847.8 L1585.0 846.6 L1586.0 845.4 L1587.0 844.2 L1588.0 843.0 L1589.0 841.7 L1590.0 840.5 L1591.0 839.2 L1592.0 837.9 L1593.0 836.5 L1594.0 835.2 L1595.0 833.8 L1596.0 832.4 L1597.0 830.9 L1598.0 829.5 L1599.0 828.0 L1600.0 826.5 L1601.0 825.0 L1602.0 823.5 L1603.0 821.9 L1604.0 820.3 L1605.0 818.7 L1606.0 817.1 L1607.0 815.4 L1608.0 813.7 L1609.0 812.0 L1610.0 810.3 L1611.0 808.5 L1612.0 806.7 L1613.0 804.9 L1614.0 803.1 L1615.0 801.2 L1616.0 799.3 L1617.0 797.4 L1618.0 795.5 L1619.0 793.5 L1620.0 791.5 L1621.0 789.5 L1622.0 787.5 L1623.0 785.4 L1624.0 783.3 L1625.0 781.2 L1626.0 779.0 L1627.0 776.9 L1628.0 774.7 L1629.0 772.4 L1630.0 770.2 L1631.0 767.9 L1632.0 765.6 L1633.0 763.2 L1634.0 760.9 L1635.0 758.5 L1636.0 756.1 L1637.0 753.6 L1638.0 751.1 L1639.0 748.6 L1640.0 746.1 L1641.0 743.6 L1642.0 741.0 L1643.0 738.4 L1644.0 735.7 L1645.0 733.1 L1646.0 730.4 L1647.0 727.7 L1648.0 724.9 L1649.0 722.2 L1650.0 719.4 L1651.0 716.5 L1652.0 713.7 L1653.0 710.8 L1654.0 707.9 L1655.0 705.0 L1656.0 702.0 L1657.0 699.1 L1658.0 696.0 L1659.0 693.0 L1660.0 690.0 L1661.0 686.9 L1662.0 683.8 L1663.0 680.6 L1664.0 677.5 L1665.0 674.3 L1666.0 671.1 L1667.0 667.9 L1668.0 664.6 L1669.0 661.4 L1670.0 658.1 L1671.0 654.8 L1672.0 651.4 L1673.0 648.1 L1674.0 644.7 L1675.0 641.3 L1676.0 637.8 L1677.0 634.4 L1678.0 630.9 L1679.0 627.4 L1680.0 623.9 L1681.0 620.4 L1682.0 616.9 L1683.0 613.3 L1684.0 609.7 L1685.0 606.1 L1686.0 602.5 L1687.0 598.9 L1688.0 595.3 L1689.0 591.6 L1690.0 587.9 L1691.0 584.2 L1692.0 580.5 L1693.0 576.8 L1694.0 573.1 L1695.0 569.4 L1696.0 565.6 L1697.0 561.8 L1698.0 558.1 L1699.0 554.3 L1700.0 550.5 L1701.0 546.7 L1702.0 542.9 L1703.0 539.1 L1704.0 535.2 L1705.0 531.4 L1706.0 527.6 L1707.0 523.7 L1708.0 519.9 L1709.0 516.0 L1710.0 512.2 L1711.0 508.3 L1712.0 504.4 L1713.0 500.6 L1714.0 496.7 L1715.0 492.9 L1716.0 489.0 L1717.0 485.2 L1718.0 481.3 L1719.0 477.4 L1720.0 473.6 L1721.0 469.8 L1722.0 465.9 L1723.0 462.1 L1724.0 458.3 L1725.0 454.5 L1726.0 450.6 L1727.0 446.8 L1728.0 443.1 L1729.0 439.3 L1730.0 435.5 L1731.0 431.8 L1732.0 428.0 L1733.0 424.3 L1734.0 420.6 L1735.0 416.9 L1736.0 413.2 L1737.0 409.6 L1738.0 405.9 L1739.0 402.3 L1740.0 398.7 L1741.0 395.1 L1742.0 391.5 L1743.0 388.0 L1744.0 384.5 L1745.0 381.0 L1746.0 377.5 L1747.0 374.1 L1748.0 370.6 L1749.0 367.3 L1750.0 363.9 L1751.0 360.5 L1752.0 357.2 L1753.0 354.0 L1754.0 350.7 L1755.0 347.5 L1756.0 344.3 L1757.0 341.2 L1758.0 338.1 L1759.0 335.0 L1760.0 331.9 L1761.0 328.9 L1762.0 325.9 L1763.0 323.0 L1764.0 320.1 L1765.0 317.3 L1766.0 314.4 L1767.0 311.7 L1768.0 308.9 L1769.0 306.2 L1770.0 303.6 L1771.0 301.0 L1772.0 298.4 L1773.0 295.9 L1774.0 293.4 L1775.0 291.0 L1776.0 288.6 L1777.0 286.3 L1778.0 284.0 L1779.0 281.7 L1780.0 279.5 L1781.0 277.4 L1782.0 275.3 L1783.0 273.3 L1784.0 271.3 L1785.0 269.3 L1786.0 267.5 L1787.0 265.6 L1788.0 263.8 L1789.0 262.1 L1790.0 260.4 L1791.0 258.8 L1792.0 257.3 L1793.0 255.8 L1794.0 254.3 L1795.0 252.9 L1796.0 251.6 L1797.0 250.3 L1798.0 249.1 L1799.0 247.9 L1800.0 246.8 L1801.0 245.7 L1802.0 244.7 L1803.0 243.8 L1804.0 242.9 L1805.0 242.1 L1806.0 241.4 L1807.0 240.7 L1808.0 240.0 L1809.0 239.5 L1810.0 238.9 L1811.0 238.5 L1812.0 238.1 L1813.0 237.8 L1814.0 237.5 L1815.0 237.3 L1816.0 237.1 L1817.0 237.0 L1818.0 237.0 L1819.0 237.0 L1820.0 237.2 L1821.0 237.4 L1822.0 237.6 L1823.0 238.0 L1824.0 238.4 L1825.0 239.0 L1826.0 239.6 L1827.0 240.2 L1828.0 241.0 L1829.0 241.8 L1830.0 242.8 L1831.0 243.8 L1832.0 244.8 L1833.0 246.0 L1834.0 247.2 L1835.0 248.5 L1836.0 249.9 L1837.0 251.3 L1838.0 252.9 L1839.0 254.5 L1840.0 256.2 L1841.0 257.9 L1842.0 259.7 L1843.0 261.6 L1844.0 263.6 L1845.0 265.6 L1846.0 267.7 L1847.0 269.9 L1848.0 272.2 L1849.0 274.5 L1850.0 276.9 L1851.0 279.3 L1852.0 281.8 L1853.0 284.4 L1854.0 287.1 L1855.0 289.8 L1856.0 292.5 L1857.0 295.4 L1858.0 298.2 L1859.0 301.2 L1860.0 304.2 L1861.0 307.2 L1862.0 310.4 L1863.0 313.5 L1864.0 316.8 L1865.0 320.0 L1866.0 323.4 L1867.0 326.7 L1868.0 330.2 L1869.0 333.6 L1870.0 337.2 L1871.0 340.7 L1872.0 344.4 L1873.0 348.0 L1874.0 351.7 L1875.0 355.5 L1876.0 359.2 L1877.0 363.1 L1878.0 366.9 L1879.0 370.8 L1880.0 374.7 L1881.0 378.7 L1882.0 382.7 L1883.0 386.7 L1884.0 390.8 L1885.0 394.9 L1886.0 399.0 L1887.0 403.1 L1888.0 407.3 L1889.0 411.5 L1890.0 415.7 L1891.0 420.0 L1892.0 424.2 L1893.0 428.5 L1894.0 432.8 L1895.0 437.1 L1896.0 441.4 L1897.0 445.8 L1898.0 450.1 L1899.0 454.5 L1900.0 458.9 L1901.0 463.3 L1902.0 467.7 L1903.0 472.1 L1904.0 476.5 L1905.0 480.9 L1906.0 485.4 L1907.0 489.8 L1908.0 494.2 L1909.0 498.7 L1910.0 503.1 L1911.0 507.5 L1912.0 511.9 L1913.0 516.4 L1914.0 520.8 L1915.0 525.2 L1916.0 529.6 L1917.0 534.0 L1918.0 538.4 L1919.0 542.8 L1920.0 547.2 L1921.0 551.5 L1922.0 555.9 L1923.0 560.2 L1924.0 564.6 L1925.0 568.9 L1926.0 573.2 L1927.0 577.5 L1928.0 581.7 L1929.0 586.0 L1930.0 590.2 L1931.0 594.4 L1932.0 598.6 L1933.0 602.8 L1934.0 606.9 L1935.0 611.0 L1936.0 615.1 L1937.0 619.2 L1938.0 623.2 L1939.0 627.3 L1940.0 631.3 L1941.0 635.3 L1942.0 639.2 L1943.0 643.1 L1944.0 647.0 L1945.0 650.9 L1946.0 654.7 L1947.0 658.5 L1948.0 662.3 L1949.0 666.1 L1950.0 669.8 L1951.0 673.5 L1952.0 677.1 L1953.0 680.7 L1954.0 684.3 L1955.0 687.9 L1956.0 691.4 L1957.0 694.9 L1958.0 698.4 L1959.0 701.8 L1960.0 705.2 L1961.0 708.5 L1962.0 711.9 L1963.0 715.1 L1964.0 718.4 L1965.0 721.6 L1966.0 724.8 L1967.0 728.0 L1968.0 731.1 L1969.0 733.9 L1970.0 736.7 L1971.0 739.4 L1972.0 742.2 L1973.0 744.9 L1974.0 747.5 L1975.0 750.2 L1976.0 752.7 L1977.0 755.3 L1978.0 757.8 L1979.0 760.3 L1980.0 762.8 L1981.0 765.2 L1982.0 767.6 L1983.0 770.0 L1984.0 772.3 L1985.0 774.7 L1986.0 776.9 L1987.0 779.2 L1988.0 781.4 L1989.0 783.6 L1990.0 785.7 L1991.0 787.8 L1992.0 789.9 L1993.0 792.0 L1994.0 794.0 L1995.0 796.0 L1996.0 798.0 L1997.0 800.0 L1998.0 801.9 L1999.0 803.8 L2000.0 805.6 L2001.0 807.5 L2002.0 809.3 L2003.0 811.0 L2004.0 812.8 L2005.0 814.5 L2006.0 816.2 L2007.0 817.9 L2008.0 819.5 L2009.0 821.1 L2010.0 822.7 L2011.0 824.3 L2012.0 825.8 L2013.0 827.3 L2014.0 828.8 L2015.0 830.3 L2016.0 831.7 L2017.0 833.1 L2018.0 834.5 L2019.0 835.9 L2020.0 837.2 L2021.0 838.5 L2022.0 839.8 L2023.0 841.1 L2024.0 842.4 L2025.0 843.6 L2026.0 844.8 L2027.0 846.0 L2028.0 847.2 L2029.0 848.3 L2030.0 849.4 L2031.0 850.5 L2032.0 851.6 L2033.0 852.7 L2034.0 853.7 L2035.0 854.8 L2036.0 855.8 L2037.0 856.8 L2038.0 857.7 L2039.0 858.7 L2040.0 859.6 L2041.0 860.6 L2042.0 861.5 L2043.0 862.3 L2044.0 863.2 L2045.0 864.1 L2046.0 864.9 L2047.0 865.7 L2048.0 866.5 L2049.0 867.3 L2050.0 868.1 L2051.0 868.8 L2052.0 869.6 L2053.0 870.3 L2054.0 871.0 L2055.0 871.7 L2056.0 872.4 L2057.0 873.1 L2058.0 873.7 L2059.0 874.4 L2060.0 875.0 L2061.0 875.6 L2062.0 876.2 L2063.0 876.8 L2064.0 877.4 L2065.0 878.0 L2066.0 878.5 L2067.0 879.1 L2068.0 879.6 L2069.0 880.1 L2070.0 880.6 L2071.0 881.1 L2072.0 881.6 L2073.0 882.1 L2074.0 882.6 L2075.0 883.0 L2076.0 883.5 L2077.0 883.9 L2078.0 884.4 L2079.0 884.8 L2080.0 885.2 L2081.0 885.6 L2082.0 886.0 L2083.0 886.4 L2084.0 886.8 L2085.0 887.1 L2086.0 887.5 L2087.0 887.8 L2088.0 888.2 L2089.0 888.5 L2090.0 888.9 L2091.0 889.2 L2092.0 889.5 L2093.0 889.8 L2094.0 890.1 L2095.0 890.4 L2096.0 890.7 L2097.0 891.0 L2098.0 891.2 L2099.0 891.5 L2100.0 891.8 L2101.0 892.0 L2102.0 892.3 L2103.0 892.5 L2104.0 892.8 L2105.0 893.0 L2106.0 893.2 L2107.0 893.4 L2108.0 893.7 L2109.0 893.9 L2110.0 894.1 L2111.0 894.3 L2112.0 894.5 L2113.0 894.7 L2114.0 894.9 L2115.0 895.0 L2116.0 895.2 L2117.0 895.4 L2118.0 895.6 L2119.0 895.7 L2120.0 895.9 L2121.0 896.1 L2122.0 896.2 L2123.0 896.4 L2124.0 896.5 L2125.0 896.7 L2126.0 896.8 L2127.0 896.9 L2128.0 897.1 L2129.0 897.2 L2130.0 897.3 L2131.0 897.4 L2132.0 897.6 L2133.0 897.7 L2134.0 897.8 L2135.0 897.9 L2136.0 898.0 L2137.0 898.1 L2138.0 898.2 L2139.0 898.3 L2140.0 898.4 L2141.0 898.5 L2142.0 898.6 L2143.0 898.7 L2144.0 898.8 L2145.0 898.9 L2146.0 899.0 L2147.0 899.0 L2148.0 899.1 L2149.0 899.2 L2150.0 899.3 L2151.0 899.4 L2152.0 899.4 L2153.0 899.5 L2154.0 899.6 L2155.0 899.6 L2156.0 899.7 L2157.0 899.8 L2158.0 899.8 L2159.0 899.9 L2160.0 899.9 L2161.0 900.0 L2162.0 900.1 L2163.0 900.1 L2164.0 900.2 L2165.0 900.2 L2166.0 900.3 L2167.0 900.3 L2168.0 900.4 L2169.0 900.4 L2170.0 900.4 L2171.0 900.5 L2172.0 900.5 L2173.0 900.6 L2174.0 900.6 L2175.0 900.7 L2176.0 900.7 L2177.0 900.7 L2178.0 900.8 L2179.0 900.8 L2180.0 900.8 L2181.0 900.9 L2182.0 900.9 L2183.0 900.9 L2184.0 901.0 L2185.0 901.0 L2186.0 901.0 L2187.0 901.0 L2188.0 901.1 L2189.0 901.1 L2190.0 901.1 L2191.0 901.2 L2192.0 901.2 L2193.0 901.2 L2194.0 901.2 L2195.0 901.2 L2196.0 901.3 L2197.0 901.3 L2198.0 901.3 L2199.0 901.3 L2200.0 901.4 L2201.0 901.4 L2202.0 901.4 L2203.0 901.4 L2204.0 901.4 L2205.0 901.4 L2206.0 901.5 L2207.0 901.5 L2208.0 901.5 L2209.0 901.5 L2210.0 901.5 L2211.0 901.5 L2212.0 901.5 L2213.0 901.6 L2214.0 901.6 L2215.0 901.6 L2216.0 901.6 L2217.0 901.6 L2218.0 901.6 L2219.0 901.6 L2220.0 901.6 L2221.0 901.7 L2222.0 901.7 L2223.0 901.7 L2224.0 901.7 L2225.0 901.7 L2226.0 901.7 L2227.0 901.7 L2228.0 901.7 L2229.0 901.7 L2230.0 901.7 L2231.0 901.7 L2232.0 901.8 L2233.0 901.8 L2234.0 901.8 L2235.0 901.8 L2236.0 901.8 L2237.0 901.8 L2238.0 901.8 L2239.0 901.8 L2240.0 901.8 L2241.0 901.8 L2242.0 901.8 L2243.0 901.8 L2244.0 901.8 L2245.0 901.8 L2246.0 901.8 L2247.0 901.8 L2248.0 901.8 L2249.0 901.9 L2250.0 901.9 L2251.0 901.9 L2252.0 901.9 L2253.0 901.9 L2254.0 901.9 L2255.0 901.9 L2256.0 901.9" fill="none" stroke="#00CC70" stroke-width="8" stroke-linejoin="round" stroke-linecap="butt"/>
<line x1="1917.20" y1="145.60" x2="2045.50" y2="145.60" stroke="#FF0000" stroke-width="8.4" stroke-linecap="butt"/>
<line x1="1917.20" y1="224.80" x2="2045.50" y2="224.80" stroke="#0F67A4" stroke-width="8.4" stroke-linecap="butt"/>
<line x1="1917.20" y1="303.90" x2="2045.50" y2="303.90" stroke="#FFCC00" stroke-width="8.4" stroke-linecap="butt"/>
<line x1="1917.20" y1="383.60" x2="2045.50" y2="383.60" stroke="#00CC70" stroke-width="8.4" stroke-linecap="butt"/>
<text transform="translate(2055.61 164.00) scale(0.5492 0.5971)" font-weight="normal" fill="#000">Pristine</text>
<text transform="translate(2056.64 244.00) scale(0.5455 0.5913)" font-weight="normal" fill="#000">10 µM</text>
<text transform="translate(2056.64 323.10) scale(0.5455 0.5913)" font-weight="normal" fill="#000">15 µM</text>
<text transform="translate(2055.96 403.50) scale(0.5479 0.6087)" font-weight="normal" fill="#000">20 µM</text>
<text transform="translate(1418.68 202.40) scale(0.7396 0.7348)" font-weight="normal" fill="#000">Ni(ppy)</text>
<text transform="translate(1202.75 130.38) scale(0.7907 0.8106)" font-weight="bold" fill="#000">(b)</text>
<text transform="translate(1395.92 966.72) scale(0.5416 0.5845)" font-weight="normal" fill="#000">450</text>
<text transform="translate(1667.91 966.72) scale(0.5484 0.5845)" font-weight="normal" fill="#000">500</text>
<text transform="translate(1938.81 966.72) scale(0.5484 0.5845)" font-weight="normal" fill="#000">550</text>
<text transform="translate(2211.14 966.72) scale(0.5519 0.5845)" font-weight="normal" fill="#000">600</text>
<text transform="translate(1535.80 1064.00) scale(0.6521 0.7362)" font-weight="bold" fill="#000">Wavelength (nm)</text>
<text transform="translate(1269.30 805.00) rotate(-90) scale(0.7138 0.7290)" font-weight="bold">PL intensity (a.u.)</text>
<rect x="218.00" y="1143.00" width="922.30" height="8.50" fill="#000"/>
<rect x="218.00" y="1958.40" width="922.30" height="6.70" fill="#000"/>
<rect x="218.00" y="1143.00" width="6.30" height="822.10" fill="#000"/>
<rect x="1134.00" y="1143.00" width="6.30" height="822.10" fill="#000"/>
<rect x="326.40" y="1944.50" width="6.00" height="14.00" fill="#000"/>
<rect x="596.50" y="1944.50" width="6.00" height="14.00" fill="#000"/>
<rect x="866.50" y="1944.50" width="6.00" height="14.00" fill="#000"/>
<rect x="461.50" y="1952.50" width="6.00" height="6.00" fill="#000"/>
<rect x="731.50" y="1952.50" width="6.00" height="6.00" fill="#000"/>
<path d="M226.0 1952.0 L227.0 1952.3 L228.0 1951.7 L229.0 1951.1 L230.0 1951.5 L231.0 1951.0 L232.0 1952.1 L233.0 1953.3 L234.0 1951.5 L235.0 1951.4 L236.0 1952.5 L237.0 1952.4 L238.0 1952.1 L239.0 1951.1 L240.0 1952.0 L241.0 1952.7 L242.0 1950.7 L243.0 1951.5 L244.0 1950.1 L245.0 1950.7 L246.0 1950.2 L247.0 1951.8 L248.0 1950.7 L249.0 1952.3 L250.0 1952.2 L251.0 1951.8 L252.0 1949.5 L253.0 1951.5 L254.0 1952.0 L255.0 1952.1 L256.0 1950.5 L257.0 1951.5 L258.0 1951.0 L259.0 1951.2 L260.0 1953.1 L261.0 1951.2 L262.0 1952.0 L263.0 1952.9 L264.0 1951.4 L265.0 1951.9 L266.0 1952.1 L267.0 1952.1 L268.0 1950.8 L269.0 1952.1 L270.0 1953.4 L271.0 1950.5 L272.0 1952.9 L273.0 1952.1 L274.0 1951.4 L275.0 1954.0 L276.0 1952.8 L277.0 1950.8 L278.0 1952.1 L279.0 1952.6 L280.0 1951.8 L281.0 1952.7 L282.0 1951.9 L283.0 1952.7 L284.0 1953.4 L285.0 1951.3 L286.0 1952.2 L287.0 1951.5 L288.0 1952.1 L289.0 1950.8 L290.0 1951.4 L291.0 1951.8 L292.0 1952.9 L293.0 1953.1 L294.0 1950.7 L295.0 1951.2 L296.0 1952.6 L297.0 1950.0 L298.0 1951.5 L299.0 1951.9 L300.0 1953.3 L301.0 1952.7 L302.0 1951.7 L303.0 1951.6 L304.0 1951.7 L305.0 1953.5 L306.0 1951.6 L307.0 1951.7 L308.0 1952.4 L309.0 1951.9 L310.0 1951.8 L311.0 1950.9 L312.0 1952.0 L313.0 1951.6 L314.0 1953.2 L315.0 1952.7 L316.0 1952.0 L317.0 1952.7 L318.0 1951.7 L319.0 1953.1 L320.0 1952.0 L321.0 1952.6 L322.0 1950.7 L323.0 1952.3 L324.0 1950.3 L325.0 1950.0 L326.0 1951.7 L327.0 1951.1 L328.0 1952.2 L329.0 1954.2 L330.0 1951.2 L331.0 1951.4 L332.0 1952.2 L333.0 1952.5 L334.0 1951.8 L335.0 1951.8 L336.0 1952.7 L337.0 1952.5 L338.0 1951.0 L339.0 1951.9 L340.0 1952.0 L341.0 1950.9 L342.0 1952.3 L343.0 1951.1 L344.0 1953.0 L345.0 1952.2 L346.0 1952.1 L347.0 1951.4 L348.0 1951.9 L349.0 1950.0 L350.0 1950.9 L351.0 1952.4 L352.0 1949.9 L353.0 1952.8 L354.0 1950.3 L355.0 1952.8 L356.0 1951.2 L357.0 1952.8 L358.0 1952.1 L359.0 1950.5 L360.0 1953.2 L361.0 1953.4 L362.0 1951.9 L363.0 1951.7 L364.0 1951.8 L365.0 1951.0 L366.0 1953.1 L367.0 1951.5 L368.0 1951.9 L369.0 1951.2 L370.0 1951.4 L371.0 1950.7 L372.0 1953.3 L373.0 1951.8 L374.0 1953.0 L375.0 1952.0 L376.0 1951.3 L377.0 1951.7 L378.0 1951.4 L379.0 1952.0 L380.0 1951.6 L381.0 1951.7 L382.0 1950.6 L383.0 1951.2 L384.0 1953.7 L385.0 1951.3 L386.0 1950.9 L387.0 1952.3 L388.0 1953.4 L389.0 1950.5 L390.0 1951.8 L391.0 1951.4 L392.0 1950.2 L393.0 1952.7 L394.0 1952.0 L395.0 1952.1 L396.0 1951.2 L397.0 1952.5 L398.0 1951.5 L399.0 1951.9 L400.0 1950.9 L401.0 1950.8 L402.0 1953.3 L403.0 1951.5 L404.0 1952.3 L405.0 1952.0 L406.0 1951.6 L407.0 1951.5 L408.0 1952.6 L409.0 1951.7 L410.0 1951.8 L411.0 1952.0 L412.0 1953.2 L413.0 1952.7 L414.0 1952.4 L415.0 1951.4 L416.0 1950.5 L417.0 1952.8 L418.0 1952.8 L419.0 1951.6 L420.0 1952.2 L421.0 1952.3 L422.0 1952.3 L423.0 1952.3 L424.0 1950.8 L425.0 1952.6 L426.0 1949.7 L427.0 1951.7 L428.0 1951.2 L429.0 1951.4 L430.0 1950.4 L431.0 1950.1 L432.0 1949.8 L433.0 1949.3 L434.0 1948.8 L435.0 1948.3 L436.0 1947.7 L437.0 1947.1 L438.0 1946.5 L439.0 1945.9 L440.0 1945.3 L441.0 1944.7 L442.0 1944.1 L443.0 1943.6 L444.0 1943.1 L445.0 1942.7 L446.0 1942.4 L447.0 1942.1 L448.0 1941.9 L449.0 1941.6 L450.0 1941.4 L451.0 1941.2 L452.0 1941.1 L453.0 1940.9 L454.0 1940.7 L455.0 1940.5 L456.0 1940.4 L457.0 1940.2 L458.0 1940.0 L459.0 1939.7 L460.0 1939.5 L461.0 1939.2 L462.0 1938.8 L463.0 1938.5 L464.0 1938.0 L465.0 1937.5 L466.0 1936.8 L467.0 1936.2 L468.0 1935.5 L469.0 1934.7 L470.0 1933.9 L471.0 1933.0 L472.0 1932.1 L473.0 1931.2 L474.0 1930.2 L475.0 1929.2 L476.0 1928.2 L477.0 1927.2 L478.0 1926.2 L479.0 1925.2 L480.0 1924.1 L481.0 1922.9 L482.0 1921.7 L483.0 1920.4 L484.0 1919.1 L485.0 1917.7 L486.0 1916.3 L487.0 1914.9 L488.0 1913.5 L489.0 1912.1 L490.0 1910.7 L491.0 1909.3 L492.0 1907.9 L493.0 1906.5 L494.0 1905.1 L495.0 1903.6 L496.0 1902.2 L497.0 1900.7 L498.0 1899.1 L499.0 1897.5 L500.0 1895.8 L501.0 1894.1 L502.0 1892.3 L503.0 1890.5 L504.0 1888.5 L505.0 1886.5 L506.0 1884.5 L507.0 1882.4 L508.0 1880.3 L509.0 1878.1 L510.0 1876.0 L511.0 1873.9 L512.0 1871.7 L513.0 1869.6 L514.0 1867.4 L515.0 1865.2 L516.0 1862.9 L517.0 1860.7 L518.0 1858.4 L519.0 1856.1 L520.0 1853.7 L521.0 1851.3 L522.0 1848.9 L523.0 1846.4 L524.0 1843.9 L525.0 1841.3 L526.0 1838.7 L527.0 1836.1 L528.0 1833.4 L529.0 1830.7 L530.0 1827.9 L531.0 1825.1 L532.0 1822.2 L533.0 1819.2 L534.0 1816.2 L535.0 1813.0 L536.0 1809.8 L537.0 1806.4 L538.0 1802.9 L539.0 1799.3 L540.0 1795.4 L541.0 1791.5 L542.0 1787.5 L543.0 1783.4 L544.0 1779.2 L545.0 1774.9 L546.0 1770.5 L547.0 1766.0 L548.0 1761.5 L549.0 1756.9 L550.0 1752.2 L551.0 1747.5 L552.0 1742.7 L553.0 1737.9 L554.0 1733.0 L555.0 1728.1 L556.0 1723.1 L557.0 1718.1 L558.0 1713.1 L559.0 1708.1 L560.0 1703.0 L561.0 1698.0 L562.0 1692.9 L563.0 1687.7 L564.0 1682.5 L565.0 1677.2 L566.0 1671.9 L567.0 1666.5 L568.0 1661.1 L569.0 1655.6 L570.0 1650.0 L571.0 1644.5 L572.0 1638.9 L573.0 1633.2 L574.0 1627.5 L575.0 1621.7 L576.0 1615.9 L577.0 1610.1 L578.0 1604.2 L579.0 1598.2 L580.0 1592.3 L581.0 1586.3 L582.0 1580.2 L583.0 1574.1 L584.0 1568.0 L585.0 1561.8 L586.0 1555.6 L587.0 1549.4 L588.0 1543.0 L589.0 1536.6 L590.0 1530.1 L591.0 1523.4 L592.0 1516.7 L593.0 1509.9 L594.0 1503.0 L595.0 1496.1 L596.0 1489.1 L597.0 1482.1 L598.0 1475.1 L599.0 1468.0 L600.0 1460.9 L601.0 1453.8 L602.0 1446.8 L603.0 1439.7 L604.0 1432.7 L605.0 1425.7 L606.0 1418.7 L607.0 1411.8 L608.0 1404.9 L609.0 1398.0 L610.0 1391.1 L611.0 1384.2 L612.0 1377.2 L613.0 1370.3 L614.0 1363.4 L615.0 1356.5 L616.0 1349.5 L617.0 1342.6 L618.0 1335.7 L619.0 1328.9 L620.0 1322.1 L621.0 1315.3 L622.0 1308.6 L623.0 1302.0 L624.0 1295.4 L625.0 1289.0 L626.0 1282.6 L627.0 1276.4 L628.0 1270.3 L629.0 1264.3 L630.0 1258.5 L631.0 1253.0 L632.0 1247.7 L633.0 1242.6 L634.0 1237.9 L635.0 1233.5 L636.0 1229.5 L637.0 1225.9 L638.0 1222.6 L639.0 1219.6 L640.0 1216.9 L641.0 1214.3 L642.0 1211.7 L643.0 1209.2 L644.0 1206.8 L645.0 1204.4 L646.0 1202.1 L647.0 1199.9 L648.0 1197.8 L649.0 1195.8 L650.0 1193.9 L651.0 1192.1 L652.0 1190.5 L653.0 1189.1 L654.0 1187.9 L655.0 1187.0 L656.0 1186.4 L657.0 1186.3 L658.0 1186.7 L659.0 1187.5 L660.0 1188.6 L661.0 1190.1 L662.0 1191.8 L663.0 1193.6 L664.0 1195.5 L665.0 1197.6 L666.0 1199.9 L667.0 1202.5 L668.0 1205.3 L669.0 1208.4 L670.0 1211.8 L671.0 1215.4 L672.0 1219.2 L673.0 1223.2 L674.0 1227.4 L675.0 1231.7 L676.0 1236.1 L677.0 1240.8 L678.0 1245.7 L679.0 1251.0 L680.0 1256.5 L681.0 1262.3 L682.0 1268.4 L683.0 1274.9 L684.0 1281.7 L685.0 1288.7 L686.0 1296.0 L687.0 1303.6 L688.0 1311.3 L689.0 1319.2 L690.0 1327.2 L691.0 1335.3 L692.0 1343.5 L693.0 1351.7 L694.0 1360.0 L695.0 1368.2 L696.0 1376.4 L697.0 1384.5 L698.0 1392.7 L699.0 1400.8 L700.0 1408.8 L701.0 1416.9 L702.0 1425.0 L703.0 1433.1 L704.0 1441.3 L705.0 1449.5 L706.0 1457.7 L707.0 1465.9 L708.0 1474.0 L709.0 1482.1 L710.0 1490.1 L711.0 1498.1 L712.0 1505.9 L713.0 1513.7 L714.0 1521.3 L715.0 1528.7 L716.0 1536.1 L717.0 1543.2 L718.0 1550.2 L719.0 1557.0 L720.0 1564.1 L721.0 1570.7 L722.0 1577.1 L723.0 1583.4 L724.0 1589.7 L725.0 1595.8 L726.0 1601.9 L727.0 1607.9 L728.0 1613.8 L729.0 1619.7 L730.0 1625.5 L731.0 1631.3 L732.0 1637.1 L733.0 1642.9 L734.0 1648.6 L735.0 1654.3 L736.0 1660.0 L737.0 1665.7 L738.0 1671.5 L739.0 1677.2 L740.0 1683.0 L741.0 1688.8 L742.0 1694.7 L743.0 1700.8 L744.0 1706.9 L745.0 1712.8 L746.0 1718.5 L747.0 1723.8 L748.0 1728.7 L749.0 1733.3 L750.0 1737.8 L751.0 1742.0 L752.0 1746.2 L753.0 1750.1 L754.0 1753.9 L755.0 1757.5 L756.0 1761.0 L757.0 1764.2 L758.0 1767.4 L759.0 1770.3 L760.0 1773.2 L761.0 1775.9 L762.0 1778.5 L763.0 1781.1 L764.0 1783.6 L765.0 1786.0 L766.0 1788.5 L767.0 1790.9 L768.0 1793.4 L769.0 1795.9 L770.0 1798.5 L771.0 1801.2 L772.0 1803.9 L773.0 1806.8 L774.0 1809.7 L775.0 1812.6 L776.0 1815.6 L777.0 1818.5 L778.0 1821.4 L779.0 1824.2 L780.0 1826.9 L781.0 1829.5 L782.0 1832.0 L783.0 1834.6 L784.0 1837.1 L785.0 1839.5 L786.0 1841.9 L787.0 1844.3 L788.0 1846.6 L789.0 1848.8 L790.0 1851.0 L791.0 1853.1 L792.0 1855.1 L793.0 1857.0 L794.0 1858.9 L795.0 1860.7 L796.0 1862.4 L797.0 1864.1 L798.0 1865.8 L799.0 1867.5 L800.0 1869.2 L801.0 1870.9 L802.0 1872.6 L803.0 1874.4 L804.0 1876.1 L805.0 1877.9 L806.0 1879.7 L807.0 1881.5 L808.0 1883.3 L809.0 1885.0 L810.0 1886.7 L811.0 1888.3 L812.0 1889.9 L813.0 1891.4 L814.0 1892.8 L815.0 1894.1 L816.0 1895.3 L817.0 1896.4 L818.0 1897.4 L819.0 1898.4 L820.0 1899.3 L821.0 1900.2 L822.0 1901.0 L823.0 1901.8 L824.0 1902.6 L825.0 1903.3 L826.0 1904.1 L827.0 1904.8 L828.0 1905.5 L829.0 1906.2 L830.0 1906.9 L831.0 1907.6 L832.0 1908.4 L833.0 1909.1 L834.0 1909.9 L835.0 1910.7 L836.0 1911.5 L837.0 1912.3 L838.0 1913.1 L839.0 1913.9 L840.0 1914.7 L841.0 1915.4 L842.0 1916.2 L843.0 1917.0 L844.0 1917.7 L845.0 1918.4 L846.0 1919.1 L847.0 1919.8 L848.0 1920.4 L849.0 1921.0 L850.0 1921.6 L851.0 1922.1 L852.0 1922.6 L853.0 1923.2 L854.0 1923.6 L855.0 1924.1 L856.0 1924.6 L857.0 1925.0 L858.0 1925.5 L859.0 1925.9 L860.0 1926.3 L861.0 1926.7 L862.0 1927.2 L863.0 1927.6 L864.0 1928.0 L865.0 1928.4 L866.0 1928.8 L867.0 1929.2 L868.0 1929.6 L869.0 1930.0 L870.0 1930.5 L871.0 1930.9 L872.0 1931.4 L873.0 1931.8 L874.0 1932.3 L875.0 1932.8 L876.0 1933.3 L877.0 1933.8 L878.0 1934.3 L879.0 1934.8 L880.0 1935.3 L881.0 1935.7 L882.0 1936.2 L883.0 1936.7 L884.0 1937.2 L885.0 1937.7 L886.0 1938.1 L887.0 1938.6 L888.0 1939.0 L889.0 1939.4 L890.0 1939.8 L891.0 1940.2 L892.0 1940.6 L893.0 1940.9 L894.0 1941.2 L895.0 1941.5 L896.0 1941.8 L897.0 1942.1 L898.0 1942.4 L899.0 1942.7 L900.0 1943.0 L901.0 1943.3 L902.0 1943.5 L903.0 1943.8 L904.0 1944.1 L905.0 1944.3 L906.0 1944.5 L907.0 1944.8 L908.0 1945.0 L909.0 1945.2 L910.0 1945.4 L911.0 1945.6 L912.0 1945.8 L913.0 1946.0 L914.0 1946.2 L915.0 1946.4 L916.0 1946.5 L917.0 1946.7 L918.0 1946.9 L919.0 1947.0 L920.0 1947.2 L921.0 1947.3 L922.0 1947.5 L923.0 1947.6 L924.0 1947.8 L925.0 1947.9 L926.0 1948.0 L927.0 1948.2 L928.0 1948.3 L929.0 1948.4 L930.0 1948.5 L931.0 1948.1 L932.0 1950.7 L933.0 1950.6 L934.0 1949.5 L935.0 1949.7 L936.0 1947.1 L937.0 1949.8 L938.0 1949.1 L939.0 1949.8 L940.0 1950.1 L941.0 1949.1 L942.0 1947.9 L943.0 1950.0 L944.0 1948.9 L945.0 1949.4 L946.0 1949.2 L947.0 1949.5 L948.0 1947.6 L949.0 1951.2 L950.0 1950.3 L951.0 1951.2 L952.0 1952.1 L953.0 1950.2 L954.0 1948.4 L955.0 1949.3 L956.0 1949.0 L957.0 1949.8 L958.0 1950.4 L959.0 1948.3 L960.0 1950.7 L961.0 1948.8 L962.0 1950.6 L963.0 1950.2 L964.0 1950.0 L965.0 1950.3 L966.0 1949.8 L967.0 1949.8 L968.0 1948.7 L969.0 1950.4 L970.0 1952.2 L971.0 1952.4 L972.0 1951.7 L973.0 1951.1 L974.0 1949.8 L975.0 1951.9 L976.0 1950.4 L977.0 1950.4 L978.0 1950.2 L979.0 1950.6 L980.0 1950.0 L981.0 1950.4 L982.0 1949.4 L983.0 1950.1 L984.0 1952.8 L985.0 1950.5 L986.0 1950.3 L987.0 1951.1 L988.0 1951.3 L989.0 1949.4 L990.0 1950.4 L991.0 1951.5 L992.0 1950.8 L993.0 1950.7 L994.0 1952.1 L995.0 1949.9 L996.0 1950.7 L997.0 1950.1 L998.0 1952.1 L999.0 1948.7 L1000.0 1950.0 L1001.0 1950.1 L1002.0 1951.3 L1003.0 1951.3 L1004.0 1952.0 L1005.0 1949.1 L1006.0 1951.4 L1007.0 1950.4 L1008.0 1950.0 L1009.0 1951.2 L1010.0 1949.8 L1011.0 1948.6 L1012.0 1950.3 L1013.0 1949.2 L1014.0 1950.1 L1015.0 1951.1 L1016.0 1951.0 L1017.0 1952.3 L1018.0 1950.5 L1019.0 1949.2 L1020.0 1950.0 L1021.0 1949.8 L1022.0 1949.5 L1023.0 1951.2 L1024.0 1950.1 L1025.0 1948.8 L1026.0 1951.5 L1027.0 1950.7 L1028.0 1951.1 L1029.0 1950.9 L1030.0 1951.4 L1031.0 1950.8 L1032.0 1952.0 L1033.0 1951.2 L1034.0 1951.2 L1035.0 1951.2 L1036.0 1949.4 L1037.0 1950.7 L1038.0 1950.6 L1039.0 1951.0 L1040.0 1949.5 L1041.0 1952.5 L1042.0 1950.9 L1043.0 1949.6 L1044.0 1949.1 L1045.0 1950.6 L1046.0 1950.8 L1047.0 1950.1 L1048.0 1951.0 L1049.0 1950.2 L1050.0 1951.4 L1051.0 1950.1 L1052.0 1950.8 L1053.0 1951.9 L1054.0 1953.5 L1055.0 1949.9 L1056.0 1950.4 L1057.0 1950.1 L1058.0 1951.7 L1059.0 1949.8 L1060.0 1950.4 L1061.0 1950.9 L1062.0 1949.9 L1063.0 1950.0 L1064.0 1950.4 L1065.0 1948.8 L1066.0 1949.5 L1067.0 1950.5 L1068.0 1951.1 L1069.0 1950.7 L1070.0 1949.2 L1071.0 1950.5 L1072.0 1951.7 L1073.0 1951.5 L1074.0 1950.9 L1075.0 1950.1 L1076.0 1951.6 L1077.0 1950.4 L1078.0 1949.8 L1079.0 1950.1 L1080.0 1952.4 L1081.0 1951.2 L1082.0 1952.1 L1083.0 1950.5 L1084.0 1951.9 L1085.0 1950.4 L1086.0 1950.8 L1087.0 1953.4 L1088.0 1951.7 L1089.0 1950.5 L1090.0 1950.9 L1091.0 1951.3 L1092.0 1952.2 L1093.0 1950.5 L1094.0 1949.2 L1095.0 1950.7 L1096.0 1951.0 L1097.0 1951.1 L1098.0 1952.3 L1099.0 1951.3 L1100.0 1951.8 L1101.0 1949.9 L1102.0 1951.9 L1103.0 1953.1 L1104.0 1951.8 L1105.0 1951.2 L1106.0 1951.1 L1107.0 1952.8 L1108.0 1950.1 L1109.0 1950.9 L1110.0 1951.5 L1111.0 1951.7 L1112.0 1950.6 L1113.0 1951.3 L1114.0 1950.7 L1115.0 1951.1 L1116.0 1950.9 L1117.0 1949.9 L1118.0 1951.0 L1119.0 1951.9 L1120.0 1950.0 L1121.0 1950.8 L1122.0 1951.7 L1123.0 1949.9 L1124.0 1951.2 L1125.0 1949.9 L1126.0 1952.1 L1127.0 1953.3 L1128.0 1953.0 L1129.0 1950.8 L1130.0 1951.7 L1131.0 1951.1 L1132.0 1951.1 L1133.0 1952.5 L1134.0 1949.7" fill="none" stroke="#FF0000" stroke-width="7" stroke-linejoin="round" stroke-linecap="butt"/>
<path d="M392.0 1940.2 L393.5 1939.6 L395.0 1939.7 L396.5 1938.0 L398.0 1941.4 L399.5 1940.9 L401.0 1939.7 L402.5 1940.6 L404.0 1940.2 L405.5 1939.6 L407.0 1940.9 L408.5 1940.8 L410.0 1942.1 L411.5 1942.9 L413.0 1944.4 L414.5 1943.9 L416.0 1944.4 L417.5 1943.4 L419.0 1943.9 L420.5 1943.0 L422.0 1944.3 L423.5 1943.7 L425.0 1943.7 L426.5 1943.7 L428.0 1942.4 L429.5 1943.8 L431.0 1944.7 L432.5 1941.7 L434.0 1941.6 L435.5 1941.8 L437.0 1943.8 L438.5 1943.4 L440.0 1944.4 L441.5 1944.4 L443.0 1944.4 L444.5 1944.9 L446.0 1945.0 L447.5 1946.3 L449.0 1945.2 L450.5 1946.3 L452.0 1947.4 L453.5 1949.1 L455.0 1947.6 L456.5 1947.8 L458.0 1948.6 L459.5 1950.3 L461.0 1949.6 L462.5 1951.1 L464.0 1948.8 L465.5 1951.5 L467.0 1951.6 L468.5 1949.9 L470.0 1951.4 L471.5 1952.5 L473.0 1951.7 L474.5 1952.6 L476.0 1953.8 L477.5 1952.2 L479.0 1951.8 L480.5 1951.4 L482.0 1952.5 L483.5 1951.8 L485.0 1951.8 L486.5 1951.8 L488.0 1952.3 L489.5 1950.9 L491.0 1950.4 L492.5 1949.6 L494.0 1952.4 L495.5 1951.4 L497.0 1952.5 L498.5 1951.1 L500.0 1950.4 L501.5 1951.3 L503.0 1950.7 L504.5 1949.6 L506.0 1949.8 L507.5 1951.8 L509.0 1950.5 L510.5 1950.4 L512.0 1949.7 L513.5 1949.2 L515.0 1950.3 L516.5 1949.3 L518.0 1948.6 L519.5 1948.9 L521.0 1948.0 L522.5 1948.6 L524.0 1949.1 L525.5 1947.2 L527.0 1948.7 L528.5 1946.7 L530.0 1947.0 L531.5 1945.8 L533.0 1945.9 L534.5 1945.7 L536.0 1944.8 L537.5 1944.0 L539.0 1943.3 L540.5 1942.5 L542.0 1941.1 L543.5 1941.3 L545.0 1940.9 L546.5 1940.2 L548.0 1938.7 L549.5 1938.7 L551.0 1935.5 L552.5 1933.4 L554.0 1933.7 L555.5 1929.9 L557.0 1930.0 L558.5 1926.9 L560.0 1926.4 L561.5 1923.0 L563.0 1923.6 L564.5 1921.2 L566.0 1918.9 L567.5 1919.3 L569.0 1916.9 L570.5 1914.6 L572.0 1912.3 L573.5 1911.1 L575.0 1909.2 L576.5 1908.1 L578.0 1906.4 L579.5 1903.3 L581.0 1901.6 L582.5 1899.6 L584.0 1897.0 L585.5 1895.6 L587.0 1894.0 L588.5 1892.6 L590.0 1891.2 L591.5 1887.6 L593.0 1886.9 L594.5 1884.3 L596.0 1884.5 L597.5 1881.1 L599.0 1879.8 L600.5 1876.9 L602.0 1875.4 L603.5 1874.5 L605.0 1872.5 L606.5 1871.6 L608.0 1868.5 L609.5 1868.8 L611.0 1866.0 L612.5 1866.5 L614.0 1863.2 L615.5 1862.5 L617.0 1858.6 L618.5 1858.1 L620.0 1855.0 L621.5 1853.2 L623.0 1851.4 L624.5 1848.9 L626.0 1847.1 L627.5 1845.3 L629.0 1842.9 L630.5 1840.1 L632.0 1836.8 L633.5 1835.1 L635.0 1833.2 L636.5 1829.0 L638.0 1828.5 L639.5 1824.8 L641.0 1821.9 L642.5 1820.2 L644.0 1817.4 L645.5 1815.0 L647.0 1812.3 L648.5 1812.2 L650.0 1811.7 L651.5 1810.5 L653.0 1811.8 L654.5 1811.1 L656.0 1809.0 L657.5 1810.5 L659.0 1809.2 L660.5 1811.1 L662.0 1810.7 L663.5 1809.1 L665.0 1809.3 L666.5 1810.1 L668.0 1809.8 L669.5 1811.2 L671.0 1810.6 L672.5 1809.8 L674.0 1810.5 L675.5 1808.4 L677.0 1810.2 L678.5 1810.6 L680.0 1808.8 L681.5 1806.4 L683.0 1804.9 L684.5 1803.1 L686.0 1798.7 L687.5 1794.9 L689.0 1794.6 L690.5 1789.4 L692.0 1788.7 L693.5 1785.4 L695.0 1784.3 L696.5 1780.9 L698.0 1781.0 L699.5 1778.7 L701.0 1775.8 L702.5 1774.3 L704.0 1774.5 L705.5 1774.7 L707.0 1772.7 L708.5 1771.6 L710.0 1770.4 L711.5 1770.2 L713.0 1768.9 L714.5 1767.9 L716.0 1765.9 L717.5 1766.7 L719.0 1766.0 L720.5 1763.0 L722.0 1765.1 L723.5 1763.2 L725.0 1761.6 L726.5 1759.9 L728.0 1761.4 L729.5 1760.8 L731.0 1759.3 L732.5 1757.8 L734.0 1759.7 L735.5 1757.8 L737.0 1757.5 L738.5 1759.8 L740.0 1759.0 L741.5 1757.9 L743.0 1756.7 L744.5 1757.6 L746.0 1755.9 L747.5 1758.9 L749.0 1759.7 L750.5 1761.0 L752.0 1762.5 L753.5 1765.9 L755.0 1767.1 L756.5 1768.4 L758.0 1770.2 L759.5 1770.1 L761.0 1770.9 L762.5 1771.7 L764.0 1774.0 L765.5 1776.2 L767.0 1776.8 L768.5 1779.0 L770.0 1779.1 L771.5 1781.5 L773.0 1783.3 L774.5 1785.6 L776.0 1791.3 L777.5 1793.8 L779.0 1795.9 L780.5 1799.1 L782.0 1802.5 L783.5 1804.0 L785.0 1808.1 L786.5 1809.2 L788.0 1812.4 L789.5 1814.3 L791.0 1817.1 L792.5 1818.7 L794.0 1820.8 L795.5 1823.6 L797.0 1826.0 L798.5 1828.6 L800.0 1831.0 L801.5 1834.4 L803.0 1835.9 L804.5 1837.2 L806.0 1840.0 L807.5 1841.0 L809.0 1844.7 L810.5 1846.0 L812.0 1846.5 L813.5 1850.2 L815.0 1852.2 L816.5 1851.4 L818.0 1854.9 L819.5 1857.0 L821.0 1857.7 L822.5 1860.3 L824.0 1862.3 L825.5 1865.3 L827.0 1867.0 L828.5 1870.8 L830.0 1870.2 L831.5 1873.4 L833.0 1874.4 L834.5 1876.4 L836.0 1877.2 L837.5 1878.4 L839.0 1881.2 L840.5 1884.2 L842.0 1886.6 L843.5 1887.6 L845.0 1889.3 L846.5 1889.9 L848.0 1893.6 L849.5 1895.1 L851.0 1895.4 L852.5 1897.5 L854.0 1898.5 L855.5 1902.2 L857.0 1903.1 L858.5 1904.5 L860.0 1906.7 L861.5 1908.4 L863.0 1909.5 L864.5 1910.6 L866.0 1912.2 L867.5 1913.5 L869.0 1916.9 L870.5 1919.9 L872.0 1918.4 L873.5 1921.5 L875.0 1923.4 L876.5 1923.8 L878.0 1926.4 L879.5 1926.9 L881.0 1930.2 L882.5 1930.2 L884.0 1932.2 L885.5 1934.0 L887.0 1934.4 L888.5 1934.4 L890.0 1936.6 L891.5 1938.7 L893.0 1939.1 L894.5 1940.4 L896.0 1940.4 L897.5 1942.3 L899.0 1943.7 L900.5 1944.1 L902.0 1946.5 L903.5 1945.6 L905.0 1945.8 L906.5 1946.1 L908.0 1949.1 L909.5 1948.9 L911.0 1950.4 L912.5 1950.7 L914.0 1952.3 L915.5 1952.7 L917.0 1952.1 L918.5 1953.2 L920.0 1954.4 L921.5 1953.1 L923.0 1955.8" fill="none" stroke="#FFCC00" stroke-width="7" stroke-linejoin="round" stroke-linecap="butt"/>
<path d="M392.0 1935.3 L393.5 1935.7 L395.0 1935.3 L396.5 1934.0 L398.0 1935.8 L399.5 1935.5 L401.0 1934.8 L402.5 1935.7 L404.0 1935.6 L405.5 1935.7 L407.0 1935.7 L408.5 1937.2 L410.0 1937.6 L411.5 1939.4 L413.0 1939.6 L414.5 1940.3 L416.0 1939.6 L417.5 1938.9 L419.0 1938.0 L420.5 1938.0 L422.0 1937.9 L423.5 1937.5 L425.0 1938.8 L426.5 1938.6 L428.0 1935.7 L429.5 1936.5 L431.0 1938.1 L432.5 1938.1 L434.0 1938.8 L435.5 1939.1 L437.0 1941.1 L438.5 1939.1 L440.0 1940.4 L441.5 1943.1 L443.0 1942.7 L444.5 1943.3 L446.0 1942.9 L447.5 1942.3 L449.0 1944.2 L450.5 1944.4 L452.0 1943.7 L453.5 1944.4 L455.0 1945.2 L456.5 1944.7 L458.0 1945.7 L459.5 1946.1 L461.0 1946.3 L462.5 1946.1 L464.0 1947.2 L465.5 1947.7 L467.0 1947.5 L468.5 1946.9 L470.0 1948.4 L471.5 1947.6 L473.0 1948.9 L474.5 1947.5 L476.0 1949.2 L477.5 1948.6 L479.0 1947.6 L480.5 1948.3 L482.0 1948.5 L483.5 1948.5 L485.0 1947.3 L486.5 1947.0 L488.0 1947.8 L489.5 1947.1 L491.0 1947.5 L492.5 1947.8 L494.0 1945.8 L495.5 1947.1 L497.0 1947.8 L498.5 1946.4 L500.0 1945.9 L501.5 1947.0 L503.0 1946.4 L504.5 1946.8 L506.0 1945.7 L507.5 1944.6 L509.0 1945.5 L510.5 1945.1 L512.0 1945.8 L513.5 1945.2 L515.0 1943.5 L516.5 1943.6 L518.0 1945.1 L519.5 1944.6 L521.0 1943.3 L522.5 1943.6 L524.0 1943.6 L525.5 1943.3 L527.0 1943.3 L528.5 1942.5 L530.0 1941.8 L531.5 1941.3 L533.0 1941.9 L534.5 1938.8 L536.0 1939.9 L537.5 1939.4 L539.0 1937.5 L540.5 1938.1 L542.0 1936.4 L543.5 1936.7 L545.0 1934.9 L546.5 1934.3 L548.0 1933.4 L549.5 1931.2 L551.0 1928.5 L552.5 1926.3 L554.0 1927.2 L555.5 1924.1 L557.0 1921.9 L558.5 1920.8 L560.0 1918.8 L561.5 1917.8 L563.0 1915.3 L564.5 1913.5 L566.0 1911.1 L567.5 1910.2 L569.0 1907.2 L570.5 1906.8 L572.0 1905.7 L573.5 1901.5 L575.0 1898.9 L576.5 1899.5 L578.0 1899.2 L579.5 1894.5 L581.0 1892.4 L582.5 1892.0 L584.0 1888.9 L585.5 1887.1 L587.0 1885.2 L588.5 1883.7 L590.0 1880.6 L591.5 1878.7 L593.0 1875.8 L594.5 1872.6 L596.0 1870.4 L597.5 1867.3 L599.0 1865.4 L600.5 1861.9 L602.0 1859.4 L603.5 1858.8 L605.0 1855.0 L606.5 1852.3 L608.0 1850.1 L609.5 1846.6 L611.0 1843.9 L612.5 1841.6 L614.0 1838.5 L615.5 1834.4 L617.0 1833.0 L618.5 1828.8 L620.0 1825.3 L621.5 1822.3 L623.0 1819.5 L624.5 1817.9 L626.0 1812.2 L627.5 1809.9 L629.0 1804.6 L630.5 1803.0 L632.0 1800.5 L633.5 1796.4 L635.0 1793.0 L636.5 1790.5 L638.0 1787.7 L639.5 1784.6 L641.0 1782.5 L642.5 1778.0 L644.0 1774.3 L645.5 1771.6 L647.0 1768.6 L648.5 1765.7 L650.0 1762.6 L651.5 1759.8 L653.0 1755.3 L654.5 1754.4 L656.0 1750.4 L657.5 1747.1 L659.0 1745.7 L660.5 1743.4 L662.0 1740.0 L663.5 1737.0 L665.0 1733.5 L666.5 1733.9 L668.0 1729.8 L669.5 1725.6 L671.0 1723.5 L672.5 1721.9 L674.0 1718.4 L675.5 1717.7 L677.0 1715.0 L678.5 1714.3 L680.0 1711.9 L681.5 1706.8 L683.0 1706.7 L684.5 1703.0 L686.0 1702.7 L687.5 1699.2 L689.0 1696.5 L690.5 1691.9 L692.0 1690.6 L693.5 1687.2 L695.0 1681.2 L696.5 1679.0 L698.0 1675.0 L699.5 1672.8 L701.0 1669.5 L702.5 1669.8 L704.0 1665.6 L705.5 1664.3 L707.0 1663.2 L708.5 1660.8 L710.0 1659.7 L711.5 1658.4 L713.0 1657.6 L714.5 1655.5 L716.0 1654.4 L717.5 1652.2 L719.0 1649.5 L720.5 1647.7 L722.0 1646.3 L723.5 1647.4 L725.0 1647.4 L726.5 1648.8 L728.0 1649.8 L729.5 1651.2 L731.0 1651.7 L732.5 1654.0 L734.0 1653.5 L735.5 1654.7 L737.0 1656.4 L738.5 1657.4 L740.0 1657.7 L741.5 1657.5 L743.0 1660.6 L744.5 1661.9 L746.0 1662.2 L747.5 1665.8 L749.0 1666.8 L750.5 1668.8 L752.0 1672.3 L753.5 1674.7 L755.0 1677.9 L756.5 1679.4 L758.0 1685.2 L759.5 1686.5 L761.0 1689.2 L762.5 1695.0 L764.0 1698.9 L765.5 1704.3 L767.0 1708.8 L768.5 1713.8 L770.0 1718.4 L771.5 1721.4 L773.0 1725.8 L774.5 1727.8 L776.0 1730.1 L777.5 1733.4 L779.0 1736.1 L780.5 1737.9 L782.0 1739.9 L783.5 1743.7 L785.0 1744.6 L786.5 1748.3 L788.0 1752.7 L789.5 1755.7 L791.0 1761.2 L792.5 1765.7 L794.0 1771.0 L795.5 1773.9 L797.0 1778.2 L798.5 1782.8 L800.0 1784.4 L801.5 1792.6 L803.0 1793.3 L804.5 1796.9 L806.0 1801.7 L807.5 1804.6 L809.0 1806.7 L810.5 1812.1 L812.0 1815.7 L813.5 1818.0 L815.0 1821.4 L816.5 1825.2 L818.0 1827.2 L819.5 1831.2 L821.0 1833.9 L822.5 1836.0 L824.0 1838.1 L825.5 1841.7 L827.0 1843.9 L828.5 1848.0 L830.0 1849.9 L831.5 1853.1 L833.0 1855.3 L834.5 1858.1 L836.0 1860.1 L837.5 1863.9 L839.0 1867.5 L840.5 1868.3 L842.0 1870.4 L843.5 1873.0 L845.0 1874.8 L846.5 1876.6 L848.0 1879.2 L849.5 1880.8 L851.0 1884.2 L852.5 1885.1 L854.0 1887.4 L855.5 1890.0 L857.0 1891.2 L858.5 1894.7 L860.0 1895.1 L861.5 1897.1 L863.0 1899.5 L864.5 1901.7 L866.0 1902.7 L867.5 1905.7 L869.0 1906.2 L870.5 1910.3 L872.0 1910.8 L873.5 1912.0 L875.0 1913.4 L876.5 1915.4 L878.0 1917.1 L879.5 1917.9 L881.0 1919.5 L882.5 1921.5 L884.0 1922.6 L885.5 1925.2 L887.0 1926.7 L888.5 1927.1 L890.0 1928.8 L891.5 1928.7 L893.0 1931.7 L894.5 1932.4 L896.0 1934.2 L897.5 1936.3 L899.0 1934.4 L900.5 1937.6 L902.0 1937.5 L903.5 1939.9 L905.0 1939.2 L906.5 1940.7 L908.0 1942.0 L909.5 1943.0 L911.0 1943.2 L912.5 1943.2 L914.0 1943.9 L915.5 1945.7 L917.0 1945.5 L918.5 1944.7 L920.0 1947.2 L921.5 1947.4 L923.0 1948.3 L924.5 1947.8 L926.0 1949.2 L927.5 1948.2 L929.0 1950.0 L930.5 1949.6 L932.0 1951.0 L933.5 1951.7 L935.0 1950.8 L936.5 1951.7 L938.0 1952.2 L939.5 1953.5 L941.0 1953.5 L942.5 1952.3 L944.0 1954.0 L945.5 1954.6 L947.0 1956.0 L948.5 1953.3 L950.0 1954.5 L951.5 1956.3 L953.0 1954.4 L954.5 1954.8 L956.0 1956.4" fill="none" stroke="#0F67A4" stroke-width="7" stroke-linejoin="round" stroke-linecap="butt"/>
<line x1="794.60" y1="1195.90" x2="921.40" y2="1195.90" stroke="#FF0000" stroke-width="8.4" stroke-linecap="butt"/>
<line x1="794.60" y1="1267.70" x2="921.40" y2="1267.70" stroke="#0F67A4" stroke-width="8.4" stroke-linecap="butt"/>
<line x1="794.60" y1="1341.10" x2="921.40" y2="1341.10" stroke="#FFCC00" stroke-width="8.4" stroke-linecap="butt"/>
<text transform="translate(930.60 1215.30) scale(0.5505 0.6072)" font-weight="normal" fill="#000">P1-2</text>
<text transform="translate(930.81 1288.70) scale(0.5237 0.6072)" font-weight="normal" fill="#000">P2-1</text>
<text transform="translate(930.60 1362.00) scale(0.5505 0.6087)" font-weight="normal" fill="#000">P2-2</text>
<text transform="translate(300.73 1251.10) scale(0.7461 0.7246)" font-weight="normal" fill="#000">Ni(ppy)</text>
<text transform="translate(68.20 1196.51) scale(0.7393 0.8138)" font-weight="bold" fill="#000">(c)</text>
<text transform="translate(284.83 2023.31) scale(0.5329 0.5901)" font-weight="normal" fill="#000">450</text>
<text transform="translate(553.24 2023.31) scale(0.5396 0.5901)" font-weight="normal" fill="#000">500</text>
<text transform="translate(822.49 2023.31) scale(0.5264 0.5901)" font-weight="normal" fill="#000">550</text>
<text transform="translate(1088.99 2023.31) scale(0.5424 0.5901)" font-weight="normal" fill="#000">600</text>
<text transform="translate(423.10 2121.50) scale(0.6438 0.7522)" font-weight="bold" fill="#000">Wavelength (nm)</text>
<text transform="translate(131.70 1854.41) rotate(-90) scale(0.7152 0.7420)" font-weight="bold">PL intensity (a.u.)</text>
<defs><clipPath id="cd"><rect x="1343.5" y="1159.8" width="917.5" height="789.2"/></clipPath></defs>
<g clip-path="url(#cd)"><path d="M1340.5 1933.1 L1341.5 1941.3 L1342.5 1920.9 L1343.5 1937.4 L1344.5 1938.9 L1345.5 1906.5 L1346.5 1932.1 L1347.5 1923.8 L1348.5 1917.5 L1349.5 1921.3 L1350.5 1932.1 L1351.5 1907.9 L1352.5 1969.0 L1353.3 1175.0 L1356.0 1172.0 L1357.0 1177.5 L1358.0 1185.3 L1359.0 1194.1 L1360.0 1199.4 L1361.0 1204.0 L1362.0 1212.8 L1363.0 1201.2 L1364.0 1223.2 L1365.0 1229.9 L1366.0 1238.0 L1367.0 1245.7 L1368.0 1251.0 L1369.0 1256.9 L1370.0 1261.9 L1371.0 1265.5 L1372.0 1263.0 L1373.0 1276.7 L1374.0 1283.0 L1375.0 1287.1 L1376.0 1297.5 L1377.0 1310.3 L1378.0 1312.5 L1379.0 1310.1 L1380.0 1320.8 L1381.0 1332.7 L1382.0 1334.6 L1383.0 1341.2 L1384.0 1341.7 L1385.0 1352.7 L1386.0 1355.8 L1387.0 1361.7 L1388.0 1367.8 L1389.0 1371.0 L1390.0 1372.4 L1391.0 1381.8 L1392.0 1385.2 L1393.0 1391.1 L1394.0 1393.2 L1395.0 1387.0 L1396.0 1402.0 L1397.0 1407.5 L1398.0 1408.0 L1399.0 1420.8 L1400.0 1428.3 L1401.0 1419.3 L1402.0 1433.3 L1403.0 1440.7 L1404.0 1453.9 L1405.0 1448.0 L1406.0 1451.9 L1407.0 1461.1 L1408.0 1479.6 L1409.0 1480.2 L1410.0 1478.1 L1411.0 1470.8 L1412.0 1492.3 L1413.0 1501.3 L1414.0 1500.9 L1415.0 1489.7 L1416.0 1504.8 L1417.0 1501.8 L1418.0 1512.8 L1419.0 1520.8 L1420.0 1517.2 L1421.0 1524.6 L1422.0 1534.9 L1423.0 1541.2 L1424.0 1531.4 L1425.0 1544.6 L1426.0 1551.3 L1427.0 1550.6 L1428.0 1555.9 L1429.0 1557.3 L1430.0 1568.2 L1431.0 1549.6 L1432.0 1582.2 L1433.0 1572.9 L1434.0 1580.3 L1435.0 1583.9 L1436.0 1579.9 L1437.0 1584.9 L1438.0 1590.1 L1439.0 1590.9 L1440.0 1597.2 L1441.0 1608.9 L1442.0 1609.5 L1443.0 1612.9 L1444.0 1613.8 L1445.0 1616.5 L1446.0 1630.7 L1447.0 1619.5 L1448.0 1619.1 L1449.0 1628.5 L1450.0 1629.0 L1451.0 1634.0 L1452.0 1635.6 L1453.0 1634.5 L1454.0 1634.6 L1455.0 1649.6 L1456.0 1641.2 L1457.0 1644.0 L1458.0 1658.2 L1459.0 1656.8 L1460.0 1651.0 L1461.0 1653.4 L1462.0 1663.1 L1463.0 1659.7 L1464.0 1661.7 L1465.0 1657.1 L1466.0 1663.3 L1467.0 1660.1 L1468.0 1665.1 L1469.0 1664.9 L1470.0 1652.3 L1471.0 1671.7 L1472.0 1688.0 L1473.0 1678.7 L1474.0 1647.7 L1475.0 1676.7 L1476.0 1685.1 L1477.0 1677.7 L1478.0 1679.9 L1479.0 1690.2 L1480.0 1675.1 L1481.0 1691.4 L1482.0 1689.8 L1483.0 1708.6 L1484.0 1695.5 L1485.0 1700.8 L1486.0 1700.1 L1487.0 1711.7 L1488.0 1706.8 L1489.0 1710.4 L1490.0 1716.1 L1491.0 1712.2 L1492.0 1711.5 L1493.0 1673.2 L1494.0 1703.3 L1495.0 1733.8 L1496.0 1725.1 L1497.0 1713.7 L1498.0 1721.2 L1499.0 1728.7 L1500.0 1722.1 L1501.0 1720.5 L1502.0 1722.7 L1503.0 1729.7 L1504.0 1732.5 L1505.0 1732.6 L1506.0 1729.3 L1507.0 1729.2 L1508.0 1728.9 L1509.0 1735.0 L1510.0 1744.5 L1511.0 1706.7 L1512.0 1727.0 L1513.0 1736.9 L1514.0 1749.8 L1515.0 1729.2 L1516.0 1753.4 L1517.0 1753.7 L1518.0 1752.7 L1519.0 1754.0 L1520.0 1757.0 L1521.0 1749.6 L1522.0 1762.1 L1523.0 1759.8 L1524.0 1766.5 L1525.0 1764.4 L1526.0 1762.8 L1527.0 1772.2 L1528.0 1768.9 L1529.0 1771.3 L1530.0 1736.2 L1531.0 1791.5 L1532.0 1760.5 L1533.0 1784.7 L1534.0 1784.5 L1535.0 1770.6 L1536.0 1789.8 L1537.0 1783.2 L1538.0 1780.5 L1539.0 1777.6 L1540.0 1803.9 L1541.0 1768.6 L1542.0 1791.9 L1543.0 1801.7 L1544.0 1803.4 L1545.0 1812.1 L1546.0 1798.5 L1547.0 1787.6 L1548.0 1804.7 L1549.0 1800.4 L1550.0 1765.2 L1551.0 1808.1 L1552.0 1798.0 L1553.0 1808.1 L1554.0 1808.8 L1555.0 1815.2 L1556.0 1819.1 L1557.0 1823.7 L1558.0 1825.6 L1559.0 1837.4 L1560.0 1838.5 L1561.0 1837.0 L1562.0 1798.8 L1563.0 1822.5 L1564.0 1828.3 L1565.0 1824.3 L1566.0 1828.7 L1567.0 1838.6 L1568.0 1818.7 L1569.0 1828.8 L1570.0 1832.2 L1571.0 1810.4 L1572.0 1821.2 L1573.0 1853.9 L1574.0 1818.8 L1575.0 1825.0 L1576.0 1847.8 L1577.0 1826.5 L1578.0 1839.3 L1579.0 1823.3 L1580.0 1837.6 L1581.0 1830.5 L1582.0 1834.6 L1583.0 1813.7 L1584.0 1831.2 L1585.0 1829.8 L1586.0 1834.1 L1587.0 1831.9 L1588.0 1862.4 L1589.0 1820.2 L1590.0 1844.3 L1591.0 1832.1 L1592.0 1813.6 L1593.0 1828.2 L1594.0 1842.7 L1595.0 1840.1 L1596.0 1845.4 L1597.0 1831.2 L1598.0 1858.2 L1599.0 1860.7 L1600.0 1835.0 L1601.0 1837.0 L1602.0 1861.6 L1603.0 1870.4 L1604.0 1844.5 L1605.0 1835.6 L1606.0 1816.1 L1607.0 1863.9 L1608.0 1829.9 L1609.0 1840.5 L1610.0 1831.9 L1611.0 1850.8 L1612.0 1778.5 L1613.0 1845.8 L1614.0 1837.9 L1615.0 1847.3 L1616.0 1874.7 L1617.0 1841.8 L1618.0 1852.3 L1619.0 1843.3 L1620.0 1862.1 L1621.0 1861.5 L1622.0 1876.7 L1623.0 1864.7 L1624.0 1858.0 L1625.0 1869.3 L1626.0 1862.8 L1627.0 1859.8 L1628.0 1870.1 L1629.0 1850.2 L1630.0 1859.7 L1631.0 1772.5 L1632.0 1864.1 L1633.0 1865.4 L1634.0 1867.7 L1635.0 1884.8 L1636.0 1870.9 L1637.0 1860.8 L1638.0 1861.6 L1639.0 1866.6 L1640.0 1833.2 L1641.0 1885.6 L1642.0 1876.2 L1643.0 1877.2 L1644.0 1862.2 L1645.0 1864.4 L1646.0 1887.2 L1647.0 1859.3 L1648.0 1871.6 L1649.0 1891.2 L1650.0 1851.0 L1651.0 1891.2 L1652.0 1876.8 L1653.0 1862.3 L1654.0 1878.7 L1655.0 1875.1 L1656.0 1870.6 L1657.0 1874.6 L1658.0 1893.8 L1659.0 1886.1 L1660.0 1880.0 L1661.0 1882.5 L1662.0 1890.1 L1663.0 1890.4 L1664.0 1886.0 L1665.0 1886.9 L1666.0 1903.0 L1667.0 1837.0 L1668.0 1883.0 L1669.0 1884.6 L1670.0 1884.4 L1671.0 1881.3 L1672.0 1896.3 L1673.0 1897.5 L1674.0 1891.1 L1675.0 1898.4 L1676.0 1899.6 L1677.0 1904.0 L1678.0 1901.9 L1679.0 1895.0 L1680.0 1891.3 L1681.0 1894.5 L1682.0 1891.8 L1683.0 1891.0 L1684.0 1885.1 L1685.0 1900.2 L1686.0 1890.3 L1687.0 1880.1 L1688.0 1896.9 L1689.0 1867.9 L1690.0 1886.8 L1691.0 1905.9 L1692.0 1891.9 L1693.0 1907.0 L1694.0 1904.0 L1695.0 1876.0 L1696.0 1888.4 L1697.0 1899.3 L1698.0 1890.0 L1699.0 1912.0 L1700.0 1888.2 L1701.0 1902.6 L1702.0 1858.6 L1703.0 1898.8 L1704.0 1902.8 L1705.0 1909.3 L1706.0 1897.9 L1707.0 1895.6 L1708.0 1905.0 L1709.0 1886.5 L1710.0 1907.4 L1711.0 1886.1 L1712.0 1899.0 L1713.0 1898.9 L1714.0 1908.7 L1715.0 1889.5 L1716.0 1890.9 L1717.0 1897.4 L1718.0 1907.5 L1719.0 1911.8 L1720.0 1905.0 L1721.0 1915.2 L1722.0 1900.9 L1723.0 1917.5 L1724.0 1896.2 L1725.0 1886.6 L1726.0 1892.6 L1727.0 1908.7 L1728.0 1903.5 L1729.0 1907.9 L1730.0 1915.3 L1731.0 1890.5 L1732.0 1895.3 L1733.0 1895.0 L1734.0 1892.6 L1735.0 1898.8 L1736.0 1894.6 L1737.0 1915.2 L1738.0 1884.7 L1739.0 1881.8 L1740.0 1896.4 L1741.0 1906.5 L1742.0 1913.9 L1743.0 1907.7 L1744.0 1906.2 L1745.0 1911.4 L1746.0 1915.2 L1747.0 1879.7 L1748.0 1902.7 L1749.0 1908.2 L1750.0 1897.3 L1751.0 1901.0 L1752.0 1908.4 L1753.0 1903.2 L1754.0 1897.5 L1755.0 1892.6 L1756.0 1908.8 L1757.0 1907.1 L1758.0 1889.0 L1759.0 1907.2 L1760.0 1871.4 L1761.0 1902.5 L1762.0 1897.8 L1763.0 1898.9 L1764.0 1916.2 L1765.0 1893.4 L1766.0 1884.9 L1767.0 1882.0 L1768.0 1903.1 L1769.0 1907.9 L1770.0 1909.1 L1771.0 1881.8 L1772.0 1893.0 L1773.0 1914.6 L1774.0 1916.1 L1775.0 1899.5 L1776.0 1900.3 L1777.0 1903.7 L1778.0 1914.6 L1779.0 1900.8 L1780.0 1914.8 L1781.0 1874.7 L1782.0 1910.1 L1783.0 1902.6 L1784.0 1901.6 L1785.0 1879.1 L1786.0 1905.5 L1787.0 1921.4 L1788.0 1880.4 L1789.0 1896.0 L1790.0 1897.1 L1791.0 1894.2 L1792.0 1894.4 L1793.0 1909.8 L1794.0 1919.6 L1795.0 1894.6 L1796.0 1897.3 L1797.0 1901.7 L1798.0 1904.5 L1799.0 1907.2 L1800.0 1898.3 L1801.0 1897.7 L1802.0 1902.2 L1803.0 1909.2 L1804.0 1899.7 L1805.0 1897.6 L1806.0 1914.1 L1807.0 1869.3 L1808.0 1894.2 L1809.0 1908.8 L1810.0 1902.7 L1811.0 1909.2 L1812.0 1903.8 L1813.0 1906.1 L1814.0 1903.7 L1815.0 1903.4 L1816.0 1891.0 L1817.0 1896.3 L1818.0 1899.8 L1819.0 1898.3 L1820.0 1914.3 L1821.0 1894.0 L1822.0 1890.7 L1823.0 1911.3 L1824.0 1870.1 L1825.0 1905.2 L1826.0 1909.0 L1827.0 1894.9 L1828.0 1906.4 L1829.0 1914.0 L1830.0 1895.0 L1831.0 1897.9 L1832.0 1890.3 L1833.0 1912.7 L1834.0 1898.9 L1835.0 1903.4 L1836.0 1906.2 L1837.0 1901.9 L1838.0 1909.9 L1839.0 1906.2 L1840.0 1912.6 L1841.0 1903.4 L1842.0 1888.5 L1843.0 1873.1 L1844.0 1896.0 L1845.0 1908.2 L1846.0 1910.2 L1847.0 1874.7 L1848.0 1914.8 L1849.0 1906.7 L1850.0 1911.2 L1851.0 1900.4 L1852.0 1887.7 L1853.0 1915.8 L1854.0 1906.1 L1855.0 1901.6 L1856.0 1894.7 L1857.0 1911.0 L1858.0 1900.3 L1859.0 1917.8 L1860.0 1909.6 L1861.0 1897.6 L1862.0 1908.2 L1863.0 1912.1 L1864.0 1905.8 L1865.0 1908.7 L1866.0 1896.9 L1867.0 1894.3 L1868.0 1903.4 L1869.0 1906.0 L1870.0 1903.4 L1871.0 1852.8 L1872.0 1906.5 L1873.0 1891.8 L1874.0 1889.6 L1875.0 1911.1 L1876.0 1906.6 L1877.0 1903.5 L1878.0 1909.2 L1879.0 1911.4 L1880.0 1917.3 L1881.0 1889.5 L1882.0 1916.2 L1883.0 1901.8 L1884.0 1912.0 L1885.0 1917.9 L1886.0 1909.0 L1887.0 1897.7 L1888.0 1900.6 L1889.0 1901.4 L1890.0 1894.3 L1891.0 1903.5 L1892.0 1894.2 L1893.0 1898.4 L1894.0 1897.6 L1895.0 1901.1 L1896.0 1890.6 L1897.0 1896.9 L1898.0 1899.2 L1899.0 1916.2 L1900.0 1903.6 L1901.0 1908.8 L1902.0 1886.3 L1903.0 1884.5 L1904.0 1905.7 L1905.0 1917.7 L1906.0 1916.1 L1907.0 1906.3 L1908.0 1906.5 L1909.0 1908.9 L1910.0 1892.2 L1911.0 1917.6 L1912.0 1913.3 L1913.0 1900.0 L1914.0 1912.6 L1915.0 1909.2 L1916.0 1901.6 L1917.0 1923.0 L1918.0 1910.9 L1919.0 1915.4 L1920.0 1908.5 L1921.0 1904.7 L1922.0 1909.6 L1923.0 1913.0 L1924.0 1887.4 L1925.0 1915.6 L1926.0 1922.1 L1927.0 1897.1 L1928.0 1895.5 L1929.0 1898.2 L1930.0 1915.0 L1931.0 1897.1 L1932.0 1903.6 L1933.0 1911.8 L1934.0 1900.4 L1935.0 1897.0 L1936.0 1912.4 L1937.0 1913.2 L1938.0 1901.4 L1939.0 1904.3 L1940.0 1926.4 L1941.0 1905.1 L1942.0 1924.5 L1943.0 1911.9 L1944.0 1892.5 L1945.0 1902.7 L1946.0 1909.7 L1947.0 1903.4 L1948.0 1890.0 L1949.0 1897.8 L1950.0 1905.4 L1951.0 1903.2 L1952.0 1874.6 L1953.0 1906.9 L1954.0 1921.9 L1955.0 1902.5 L1956.0 1920.8 L1957.0 1911.4 L1958.0 1899.6 L1959.0 1914.7 L1960.0 1909.7 L1961.0 1917.8 L1962.0 1900.7 L1963.0 1902.3 L1964.0 1893.4 L1965.0 1881.8 L1966.0 1907.2 L1967.0 1825.9 L1968.0 1905.6 L1969.0 1915.4 L1970.0 1912.2 L1971.0 1905.5 L1972.0 1908.1 L1973.0 1918.7 L1974.0 1916.1 L1975.0 1911.6 L1976.0 1910.6 L1977.0 1901.2 L1978.0 1901.9 L1979.0 1909.0 L1980.0 1917.2 L1981.0 1916.0 L1982.0 1895.8 L1983.0 1909.8 L1984.0 1888.1 L1985.0 1916.3 L1986.0 1904.8 L1987.0 1923.2 L1988.0 1918.2 L1989.0 1919.2 L1990.0 1917.9 L1991.0 1885.5 L1992.0 1918.4 L1993.0 1918.1 L1994.0 1911.5 L1995.0 1897.7 L1996.0 1927.7 L1997.0 1913.1 L1998.0 1905.2 L1999.0 1899.6 L2000.0 1917.5 L2001.0 1903.3 L2002.0 1884.9 L2003.0 1914.7 L2004.0 1906.4 L2005.0 1901.2 L2006.0 1892.6 L2007.0 1899.8 L2008.0 1901.7 L2009.0 1906.8 L2010.0 1909.9 L2011.0 1920.3 L2012.0 1906.6 L2013.0 1888.6 L2014.0 1872.1 L2015.0 1920.3 L2016.0 1925.0 L2017.0 1915.0 L2018.0 1880.6 L2019.0 1915.6 L2020.0 1905.4 L2021.0 1888.6 L2022.0 1899.4 L2023.0 1910.2 L2024.0 1920.0 L2025.0 1897.4 L2026.0 1913.0 L2027.0 1912.9 L2028.0 1900.7 L2029.0 1912.3 L2030.0 1900.2 L2031.0 1915.4 L2032.0 1913.2 L2033.0 1918.8 L2034.0 1853.9 L2035.0 1911.3 L2036.0 1892.7 L2037.0 1903.7 L2038.0 1905.6 L2039.0 1909.4 L2040.0 1916.4 L2041.0 1910.7 L2042.0 1917.0 L2043.0 1901.4 L2044.0 1911.2 L2045.0 1900.2 L2046.0 1910.2 L2047.0 1918.4 L2048.0 1918.3 L2049.0 1882.7 L2050.0 1877.2 L2051.0 1915.9 L2052.0 1915.6 L2053.0 1914.2 L2054.0 1904.4 L2055.0 1922.8 L2056.0 1904.5 L2057.0 1908.5 L2058.0 1893.2 L2059.0 1901.2 L2060.0 1909.3 L2061.0 1919.6 L2062.0 1910.8 L2063.0 1898.4 L2064.0 1911.4 L2065.0 1903.9 L2066.0 1920.1 L2067.0 1901.1 L2068.0 1905.2 L2069.0 1886.1 L2070.0 1922.2 L2071.0 1914.0 L2072.0 1925.7 L2073.0 1912.3 L2074.0 1909.3 L2075.0 1904.8 L2076.0 1911.7 L2077.0 1908.1 L2078.0 1893.0 L2079.0 1912.8 L2080.0 1919.7 L2081.0 1906.8 L2082.0 1901.2 L2083.0 1913.5 L2084.0 1900.1 L2085.0 1914.9 L2086.0 1906.2 L2087.0 1910.1 L2088.0 1897.7 L2089.0 1920.0 L2090.0 1902.8 L2091.0 1911.0 L2092.0 1919.9 L2093.0 1911.2 L2094.0 1900.2 L2095.0 1907.1 L2096.0 1907.3 L2097.0 1905.5 L2098.0 1913.5 L2099.0 1906.9 L2100.0 1894.0 L2101.0 1876.9 L2102.0 1899.2 L2103.0 1907.9 L2104.0 1910.5 L2105.0 1899.5 L2106.0 1881.3 L2107.0 1907.8 L2108.0 1928.1 L2109.0 1914.7 L2110.0 1900.3 L2111.0 1898.9 L2112.0 1894.6 L2113.0 1905.2 L2114.0 1909.1 L2115.0 1916.8 L2116.0 1909.1 L2117.0 1904.2 L2118.0 1917.5 L2119.0 1917.0 L2120.0 1914.8 L2121.0 1924.8 L2122.0 1903.0 L2123.0 1904.2 L2124.0 1899.0 L2125.0 1915.7 L2126.0 1897.7 L2127.0 1917.3 L2128.0 1909.7 L2129.0 1915.3 L2130.0 1876.9 L2131.0 1854.6 L2132.0 1915.2 L2133.0 1900.5 L2134.0 1910.0 L2135.0 1920.6 L2136.0 1912.6 L2137.0 1901.5 L2138.0 1911.7 L2139.0 1899.8 L2140.0 1913.4 L2141.0 1895.1 L2142.0 1901.0 L2143.0 1886.0 L2144.0 1882.9 L2145.0 1921.2 L2146.0 1908.5 L2147.0 1921.9 L2148.0 1907.0 L2149.0 1868.4 L2150.0 1861.8 L2151.0 1913.4 L2152.0 1903.2 L2153.0 1915.5 L2154.0 1903.8 L2155.0 1901.5 L2156.0 1910.9 L2157.0 1898.5 L2158.0 1905.4 L2159.0 1900.5 L2160.0 1860.3 L2161.0 1912.2 L2162.0 1911.5 L2163.0 1904.2 L2164.0 1913.2 L2165.0 1897.9 L2166.0 1906.9 L2167.0 1912.1 L2168.0 1880.0 L2169.0 1916.2 L2170.0 1903.6 L2171.0 1866.7 L2172.0 1909.0 L2173.0 1899.7 L2174.0 1896.6 L2175.0 1923.8 L2176.0 1901.4 L2177.0 1913.1 L2178.0 1920.7 L2179.0 1905.6 L2180.0 1896.1 L2181.0 1903.9 L2182.0 1904.1 L2183.0 1902.7 L2184.0 1904.0 L2185.0 1885.0 L2186.0 1926.9 L2187.0 1896.5 L2188.0 1880.9 L2189.0 1915.4 L2190.0 1915.3 L2191.0 1925.3 L2192.0 1906.8 L2193.0 1909.4 L2194.0 1889.6 L2195.0 1823.7 L2196.0 1916.3 L2197.0 1906.6 L2198.0 1932.9 L2199.0 1899.5 L2200.0 1913.4 L2201.0 1908.6 L2202.0 1901.6 L2203.0 1912.9 L2204.0 1905.9 L2205.0 1908.3 L2206.0 1918.2 L2207.0 1919.6 L2208.0 1913.3 L2209.0 1911.9 L2210.0 1911.8 L2211.0 1911.1 L2212.0 1908.1 L2213.0 1901.0 L2214.0 1902.6 L2215.0 1893.2 L2216.0 1917.6 L2217.0 1916.0 L2218.0 1906.5 L2219.0 1909.9 L2220.0 1905.9 L2221.0 1914.5 L2222.0 1927.4 L2223.0 1904.6 L2224.0 1907.8 L2225.0 1900.0 L2226.0 1921.4 L2227.0 1903.0 L2228.0 1910.2 L2229.0 1910.7 L2230.0 1907.2 L2231.0 1915.2 L2232.0 1901.9 L2233.0 1900.3 L2234.0 1918.5 L2235.0 1891.5 L2236.0 1910.1 L2237.0 1908.6 L2238.0 1904.7 L2239.0 1907.5 L2240.0 1905.7 L2241.0 1901.1 L2242.0 1899.9 L2243.0 1912.4 L2244.0 1902.9 L2245.0 1904.7 L2246.0 1904.9 L2247.0 1914.2 L2248.0 1910.5 L2249.0 1896.8 L2250.0 1921.3 L2251.0 1910.7 L2252.0 1910.5 L2253.0 1896.9 L2254.0 1898.1 L2255.0 1861.9 L2256.0 1902.8 L2257.0 1906.8 L2258.0 1909.1 L2259.0 1925.5 L2260.0 1917.3 L2261.0 1907.2 L2262.0 1916.5 L2262.0 1969.0 L2261.0 1969.0 L2260.0 1969.0 L2259.0 1969.0 L2258.0 1969.0 L2257.0 1969.0 L2256.0 1969.0 L2255.0 1969.0 L2254.0 1969.0 L2253.0 1969.0 L2252.0 1969.0 L2251.0 1969.0 L2250.0 1969.0 L2249.0 1969.0 L2248.0 1969.0 L2247.0 1969.0 L2246.0 1969.0 L2245.0 1969.0 L2244.0 1969.0 L2243.0 1969.0 L2242.0 1969.0 L2241.0 1969.0 L2240.0 1969.0 L2239.0 1969.0 L2238.0 1969.0 L2237.0 1969.0 L2236.0 1969.0 L2235.0 1969.0 L2234.0 1969.0 L2233.0 1969.0 L2232.0 1969.0 L2231.0 1969.0 L2230.0 1969.0 L2229.0 1969.0 L2228.0 1969.0 L2227.0 1969.0 L2226.0 1969.0 L2225.0 1969.0 L2224.0 1969.0 L2223.0 1969.0 L2222.0 1969.0 L2221.0 1969.0 L2220.0 1969.0 L2219.0 1969.0 L2218.0 1969.0 L2217.0 1969.0 L2216.0 1969.0 L2215.0 1969.0 L2214.0 1969.0 L2213.0 1969.0 L2212.0 1969.0 L2211.0 1969.0 L2210.0 1969.0 L2209.0 1969.0 L2208.0 1969.0 L2207.0 1969.0 L2206.0 1969.0 L2205.0 1969.0 L2204.0 1969.0 L2203.0 1969.0 L2202.0 1969.0 L2201.0 1969.0 L2200.0 1969.0 L2199.0 1969.0 L2198.0 1969.0 L2197.0 1969.0 L2196.0 1969.0 L2195.0 1969.0 L2194.0 1969.0 L2193.0 1969.0 L2192.0 1969.0 L2191.0 1969.0 L2190.0 1969.0 L2189.0 1969.0 L2188.0 1969.0 L2187.0 1969.0 L2186.0 1969.0 L2185.0 1969.0 L2184.0 1969.0 L2183.0 1969.0 L2182.0 1969.0 L2181.0 1969.0 L2180.0 1969.0 L2179.0 1969.0 L2178.0 1969.0 L2177.0 1969.0 L2176.0 1969.0 L2175.0 1969.0 L2174.0 1969.0 L2173.0 1969.0 L2172.0 1969.0 L2171.0 1969.0 L2170.0 1969.0 L2169.0 1969.0 L2168.0 1969.0 L2167.0 1969.0 L2166.0 1969.0 L2165.0 1969.0 L2164.0 1969.0 L2163.0 1969.0 L2162.0 1969.0 L2161.0 1969.0 L2160.0 1969.0 L2159.0 1969.0 L2158.0 1969.0 L2157.0 1969.0 L2156.0 1969.0 L2155.0 1969.0 L2154.0 1969.0 L2153.0 1969.0 L2152.0 1969.0 L2151.0 1969.0 L2150.0 1969.0 L2149.0 1969.0 L2148.0 1969.0 L2147.0 1969.0 L2146.0 1969.0 L2145.0 1969.0 L2144.0 1969.0 L2143.0 1969.0 L2142.0 1969.0 L2141.0 1969.0 L2140.0 1969.0 L2139.0 1969.0 L2138.0 1969.0 L2137.0 1969.0 L2136.0 1969.0 L2135.0 1969.0 L2134.0 1969.0 L2133.0 1969.0 L2132.0 1969.0 L2131.0 1969.0 L2130.0 1969.0 L2129.0 1969.0 L2128.0 1969.0 L2127.0 1969.0 L2126.0 1969.0 L2125.0 1969.0 L2124.0 1969.0 L2123.0 1969.0 L2122.0 1969.0 L2121.0 1969.0 L2120.0 1969.0 L2119.0 1969.0 L2118.0 1969.0 L2117.0 1969.0 L2116.0 1969.0 L2115.0 1969.0 L2114.0 1969.0 L2113.0 1969.0 L2112.0 1969.0 L2111.0 1969.0 L2110.0 1969.0 L2109.0 1969.0 L2108.0 1969.0 L2107.0 1969.0 L2106.0 1969.0 L2105.0 1969.0 L2104.0 1969.0 L2103.0 1969.0 L2102.0 1969.0 L2101.0 1969.0 L2100.0 1969.0 L2099.0 1969.0 L2098.0 1969.0 L2097.0 1969.0 L2096.0 1969.0 L2095.0 1969.0 L2094.0 1969.0 L2093.0 1969.0 L2092.0 1969.0 L2091.0 1969.0 L2090.0 1969.0 L2089.0 1969.0 L2088.0 1969.0 L2087.0 1969.0 L2086.0 1969.0 L2085.0 1969.0 L2084.0 1969.0 L2083.0 1969.0 L2082.0 1969.0 L2081.0 1969.0 L2080.0 1969.0 L2079.0 1969.0 L2078.0 1969.0 L2077.0 1969.0 L2076.0 1969.0 L2075.0 1969.0 L2074.0 1969.0 L2073.0 1969.0 L2072.0 1969.0 L2071.0 1969.0 L2070.0 1969.0 L2069.0 1969.0 L2068.0 1969.0 L2067.0 1969.0 L2066.0 1969.0 L2065.0 1969.0 L2064.0 1969.0 L2063.0 1969.0 L2062.0 1969.0 L2061.0 1969.0 L2060.0 1969.0 L2059.0 1969.0 L2058.0 1969.0 L2057.0 1969.0 L2056.0 1969.0 L2055.0 1969.0 L2054.0 1969.0 L2053.0 1969.0 L2052.0 1969.0 L2051.0 1969.0 L2050.0 1969.0 L2049.0 1969.0 L2048.0 1969.0 L2047.0 1969.0 L2046.0 1969.0 L2045.0 1969.0 L2044.0 1969.0 L2043.0 1969.0 L2042.0 1969.0 L2041.0 1969.0 L2040.0 1969.0 L2039.0 1969.0 L2038.0 1969.0 L2037.0 1969.0 L2036.0 1969.0 L2035.0 1969.0 L2034.0 1969.0 L2033.0 1969.0 L2032.0 1969.0 L2031.0 1969.0 L2030.0 1969.0 L2029.0 1969.0 L2028.0 1969.0 L2027.0 1969.0 L2026.0 1969.0 L2025.0 1969.0 L2024.0 1969.0 L2023.0 1969.0 L2022.0 1969.0 L2021.0 1969.0 L2020.0 1969.0 L2019.0 1969.0 L2018.0 1969.0 L2017.0 1969.0 L2016.0 1969.0 L2015.0 1969.0 L2014.0 1969.0 L2013.0 1969.0 L2012.0 1969.0 L2011.0 1969.0 L2010.0 1969.0 L2009.0 1969.0 L2008.0 1969.0 L2007.0 1969.0 L2006.0 1969.0 L2005.0 1969.0 L2004.0 1969.0 L2003.0 1969.0 L2002.0 1969.0 L2001.0 1969.0 L2000.0 1969.0 L1999.0 1969.0 L1998.0 1969.0 L1997.0 1969.0 L1996.0 1969.0 L1995.0 1969.0 L1994.0 1969.0 L1993.0 1969.0 L1992.0 1969.0 L1991.0 1969.0 L1990.0 1969.0 L1989.0 1969.0 L1988.0 1969.0 L1987.0 1969.0 L1986.0 1969.0 L1985.0 1969.0 L1984.0 1969.0 L1983.0 1969.0 L1982.0 1969.0 L1981.0 1969.0 L1980.0 1969.0 L1979.0 1969.0 L1978.0 1969.0 L1977.0 1969.0 L1976.0 1969.0 L1975.0 1969.0 L1974.0 1969.0 L1973.0 1969.0 L1972.0 1969.0 L1971.0 1969.0 L1970.0 1969.0 L1969.0 1969.0 L1968.0 1969.0 L1967.0 1969.0 L1966.0 1969.0 L1965.0 1969.0 L1964.0 1969.0 L1963.0 1969.0 L1962.0 1969.0 L1961.0 1969.0 L1960.0 1969.0 L1959.0 1969.0 L1958.0 1969.0 L1957.0 1969.0 L1956.0 1969.0 L1955.0 1969.0 L1954.0 1969.0 L1953.0 1969.0 L1952.0 1969.0 L1951.0 1969.0 L1950.0 1969.0 L1949.0 1969.0 L1948.0 1969.0 L1947.0 1969.0 L1946.0 1969.0 L1945.0 1969.0 L1944.0 1969.0 L1943.0 1969.0 L1942.0 1969.0 L1941.0 1969.0 L1940.0 1969.0 L1939.0 1969.0 L1938.0 1969.0 L1937.0 1969.0 L1936.0 1969.0 L1935.0 1969.0 L1934.0 1969.0 L1933.0 1969.0 L1932.0 1969.0 L1931.0 1969.0 L1930.0 1969.0 L1929.0 1969.0 L1928.0 1969.0 L1927.0 1969.0 L1926.0 1969.0 L1925.0 1969.0 L1924.0 1969.0 L1923.0 1969.0 L1922.0 1969.0 L1921.0 1969.0 L1920.0 1969.0 L1919.0 1969.0 L1918.0 1969.0 L1917.0 1969.0 L1916.0 1969.0 L1915.0 1969.0 L1914.0 1969.0 L1913.0 1969.0 L1912.0 1969.0 L1911.0 1969.0 L1910.0 1969.0 L1909.0 1969.0 L1908.0 1969.0 L1907.0 1969.0 L1906.0 1969.0 L1905.0 1969.0 L1904.0 1969.0 L1903.0 1969.0 L1902.0 1969.0 L1901.0 1969.0 L1900.0 1969.0 L1899.0 1969.0 L1898.0 1969.0 L1897.0 1969.0 L1896.0 1969.0 L1895.0 1969.0 L1894.0 1969.0 L1893.0 1969.0 L1892.0 1969.0 L1891.0 1969.0 L1890.0 1969.0 L1889.0 1969.0 L1888.0 1969.0 L1887.0 1969.0 L1886.0 1969.0 L1885.0 1969.0 L1884.0 1969.0 L1883.0 1969.0 L1882.0 1969.0 L1881.0 1969.0 L1880.0 1969.0 L1879.0 1969.0 L1878.0 1969.0 L1877.0 1969.0 L1876.0 1969.0 L1875.0 1969.0 L1874.0 1969.0 L1873.0 1969.0 L1872.0 1969.0 L1871.0 1969.0 L1870.0 1969.0 L1869.0 1969.0 L1868.0 1969.0 L1867.0 1969.0 L1866.0 1969.0 L1865.0 1969.0 L1864.0 1969.0 L1863.0 1969.0 L1862.0 1969.0 L1861.0 1969.0 L1860.0 1969.0 L1859.0 1969.0 L1858.0 1969.0 L1857.0 1969.0 L1856.0 1969.0 L1855.0 1969.0 L1854.0 1969.0 L1853.0 1969.0 L1852.0 1969.0 L1851.0 1969.0 L1850.0 1969.0 L1849.0 1969.0 L1848.0 1969.0 L1847.0 1969.0 L1846.0 1969.0 L1845.0 1969.0 L1844.0 1969.0 L1843.0 1969.0 L1842.0 1969.0 L1841.0 1969.0 L1840.0 1969.0 L1839.0 1969.0 L1838.0 1969.0 L1837.0 1969.0 L1836.0 1969.0 L1835.0 1969.0 L1834.0 1969.0 L1833.0 1969.0 L1832.0 1969.0 L1831.0 1969.0 L1830.0 1969.0 L1829.0 1969.0 L1828.0 1969.0 L1827.0 1969.0 L1826.0 1969.0 L1825.0 1969.0 L1824.0 1969.0 L1823.0 1969.0 L1822.0 1969.0 L1821.0 1969.0 L1820.0 1969.0 L1819.0 1969.0 L1818.0 1969.0 L1817.0 1969.0 L1816.0 1969.0 L1815.0 1969.0 L1814.0 1969.0 L1813.0 1969.0 L1812.0 1969.0 L1811.0 1969.0 L1810.0 1969.0 L1809.0 1969.0 L1808.0 1969.0 L1807.0 1969.0 L1806.0 1969.0 L1805.0 1969.0 L1804.0 1969.0 L1803.0 1969.0 L1802.0 1969.0 L1801.0 1969.0 L1800.0 1969.0 L1799.0 1969.0 L1798.0 1969.0 L1797.0 1969.0 L1796.0 1969.0 L1795.0 1969.0 L1794.0 1969.0 L1793.0 1969.0 L1792.0 1969.0 L1791.0 1969.0 L1790.0 1969.0 L1789.0 1969.0 L1788.0 1969.0 L1787.0 1969.0 L1786.0 1969.0 L1785.0 1969.0 L1784.0 1969.0 L1783.0 1969.0 L1782.0 1969.0 L1781.0 1969.0 L1780.0 1969.0 L1779.0 1969.0 L1778.0 1969.0 L1777.0 1969.0 L1776.0 1969.0 L1775.0 1969.0 L1774.0 1969.0 L1773.0 1969.0 L1772.0 1969.0 L1771.0 1969.0 L1770.0 1969.0 L1769.0 1969.0 L1768.0 1969.0 L1767.0 1969.0 L1766.0 1969.0 L1765.0 1969.0 L1764.0 1969.0 L1763.0 1969.0 L1762.0 1969.0 L1761.0 1969.0 L1760.0 1969.0 L1759.0 1969.0 L1758.0 1969.0 L1757.0 1969.0 L1756.0 1969.0 L1755.0 1969.0 L1754.0 1969.0 L1753.0 1969.0 L1752.0 1969.0 L1751.0 1969.0 L1750.0 1969.0 L1749.0 1969.0 L1748.0 1969.0 L1747.0 1969.0 L1746.0 1969.0 L1745.0 1969.0 L1744.0 1969.0 L1743.0 1969.0 L1742.0 1969.0 L1741.0 1969.0 L1740.0 1969.0 L1739.0 1969.0 L1738.0 1969.0 L1737.0 1969.0 L1736.0 1969.0 L1735.0 1969.0 L1734.0 1969.0 L1733.0 1969.0 L1732.0 1969.0 L1731.0 1969.0 L1730.0 1969.0 L1729.0 1969.0 L1728.0 1969.0 L1727.0 1969.0 L1726.0 1969.0 L1725.0 1969.0 L1724.0 1969.0 L1723.0 1969.0 L1722.0 1969.0 L1721.0 1969.0 L1720.0 1969.0 L1719.0 1969.0 L1718.0 1969.0 L1717.0 1969.0 L1716.0 1969.0 L1715.0 1969.0 L1714.0 1969.0 L1713.0 1969.0 L1712.0 1969.0 L1711.0 1969.0 L1710.0 1969.0 L1709.0 1969.0 L1708.0 1969.0 L1707.0 1969.0 L1706.0 1969.0 L1705.0 1969.0 L1704.0 1969.0 L1703.0 1969.0 L1702.0 1969.0 L1701.0 1969.0 L1700.0 1969.0 L1699.0 1969.0 L1698.0 1969.0 L1697.0 1969.0 L1696.0 1969.0 L1695.0 1969.0 L1694.0 1969.0 L1693.0 1969.0 L1692.0 1969.0 L1691.0 1969.0 L1690.0 1969.0 L1689.0 1969.0 L1688.0 1969.0 L1687.0 1969.0 L1686.0 1969.0 L1685.0 1969.0 L1684.0 1969.0 L1683.0 1969.0 L1682.0 1969.0 L1681.0 1969.0 L1680.0 1969.0 L1679.0 1969.0 L1678.0 1969.0 L1677.0 1969.0 L1676.0 1969.0 L1675.0 1951.1 L1674.0 1969.0 L1673.0 1969.0 L1672.0 1969.0 L1671.0 1969.0 L1670.0 1969.0 L1669.0 1969.0 L1668.0 1969.0 L1667.0 1969.0 L1666.0 1969.0 L1665.0 1969.0 L1664.0 1969.0 L1663.0 1969.0 L1662.0 1969.0 L1661.0 1969.0 L1660.0 1969.0 L1659.0 1969.0 L1658.0 1969.0 L1657.0 1969.0 L1656.0 1969.0 L1655.0 1969.0 L1654.0 1969.0 L1653.0 1969.0 L1652.0 1969.0 L1651.0 1969.0 L1650.0 1950.6 L1649.0 1969.0 L1648.0 1969.0 L1647.0 1969.0 L1646.0 1969.0 L1645.0 1969.0 L1644.0 1969.0 L1643.0 1949.1 L1642.0 1969.0 L1641.0 1946.8 L1640.0 1969.0 L1639.0 1969.0 L1638.0 1969.0 L1637.0 1969.0 L1636.0 1969.0 L1635.0 1969.0 L1634.0 1969.0 L1633.0 1969.0 L1632.0 1938.1 L1631.0 1944.7 L1630.0 1969.0 L1629.0 1969.0 L1628.0 1929.8 L1627.0 1969.0 L1626.0 1969.0 L1625.0 1969.0 L1624.0 1969.0 L1623.0 1969.0 L1622.0 1969.0 L1621.0 1969.0 L1620.0 1969.0 L1619.0 1969.0 L1618.0 1969.0 L1617.0 1969.0 L1616.0 1936.1 L1615.0 1969.0 L1614.0 1969.0 L1613.0 1945.7 L1612.0 1969.0 L1611.0 1954.5 L1610.0 1969.0 L1609.0 1969.0 L1608.0 1969.0 L1607.0 1969.0 L1606.0 1969.0 L1605.0 1947.0 L1604.0 1969.0 L1603.0 1969.0 L1602.0 1969.0 L1601.0 1969.0 L1600.0 1949.1 L1599.0 1969.0 L1598.0 1965.6 L1597.0 1945.5 L1596.0 1938.4 L1595.0 1934.0 L1594.0 1969.0 L1593.0 1969.0 L1592.0 1961.9 L1591.0 1969.0 L1590.0 1969.0 L1589.0 1930.6 L1588.0 1969.0 L1587.0 1934.6 L1586.0 1939.0 L1585.0 1958.0 L1584.0 1969.0 L1583.0 1969.0 L1582.0 1923.1 L1581.0 1969.0 L1580.0 1908.6 L1579.0 1933.2 L1578.0 1925.3 L1577.0 1910.2 L1576.0 1914.2 L1575.0 1969.0 L1574.0 1969.0 L1573.0 1969.0 L1572.0 1910.2 L1571.0 1907.9 L1570.0 1907.3 L1569.0 1913.6 L1568.0 1897.0 L1567.0 1912.6 L1566.0 1897.6 L1565.0 1969.0 L1564.0 1913.8 L1563.0 1900.9 L1562.0 1892.2 L1561.0 1882.5 L1560.0 1909.1 L1559.0 1885.6 L1558.0 1969.0 L1557.0 1969.0 L1556.0 1899.3 L1555.0 1904.5 L1554.0 1904.9 L1553.0 1881.8 L1552.0 1877.9 L1551.0 1915.4 L1550.0 1897.7 L1549.0 1908.9 L1548.0 1881.4 L1547.0 1899.7 L1546.0 1879.0 L1545.0 1877.0 L1544.0 1879.4 L1543.0 1874.5 L1542.0 1872.3 L1541.0 1875.6 L1540.0 1865.3 L1539.0 1866.8 L1538.0 1855.5 L1537.0 1871.8 L1536.0 1871.1 L1535.0 1850.0 L1534.0 1852.6 L1533.0 1853.6 L1532.0 1855.9 L1531.0 1864.6 L1530.0 1862.5 L1529.0 1854.6 L1528.0 1851.3 L1527.0 1836.9 L1526.0 1850.0 L1525.0 1832.8 L1524.0 1848.3 L1523.0 1843.3 L1522.0 1826.2 L1521.0 1869.2 L1520.0 1853.9 L1519.0 1833.5 L1518.0 1814.0 L1517.0 1829.6 L1516.0 1826.7 L1515.0 1832.9 L1514.0 1819.2 L1513.0 1827.6 L1512.0 1836.2 L1511.0 1815.4 L1510.0 1809.9 L1509.0 1814.4 L1508.0 1820.2 L1507.0 1805.4 L1506.0 1816.7 L1505.0 1802.5 L1504.0 1810.6 L1503.0 1798.8 L1502.0 1809.7 L1501.0 1818.5 L1500.0 1799.4 L1499.0 1808.5 L1498.0 1797.0 L1497.0 1791.3 L1496.0 1783.0 L1495.0 1816.2 L1494.0 1793.2 L1493.0 1808.2 L1492.0 1785.7 L1491.0 1784.8 L1490.0 1781.9 L1489.0 1796.3 L1488.0 1788.8 L1487.0 1781.2 L1486.0 1783.1 L1485.0 1783.1 L1484.0 1783.3 L1483.0 1766.4 L1482.0 1766.9 L1481.0 1784.8 L1480.0 1778.9 L1479.0 1783.1 L1478.0 1776.5 L1477.0 1785.3 L1476.0 1762.6 L1475.0 1760.2 L1474.0 1746.0 L1473.0 1764.2 L1472.0 1756.5 L1471.0 1786.2 L1470.0 1751.1 L1469.0 1731.3 L1468.0 1758.4 L1467.0 1725.1 L1466.0 1732.3 L1465.0 1729.7 L1464.0 1727.0 L1463.0 1719.0 L1462.0 1735.8 L1461.0 1719.8 L1460.0 1717.5 L1459.0 1732.2 L1458.0 1707.4 L1457.0 1709.4 L1456.0 1713.8 L1455.0 1701.4 L1454.0 1707.9 L1453.0 1710.3 L1452.0 1698.0 L1451.0 1696.8 L1450.0 1693.4 L1449.0 1693.6 L1448.0 1693.8 L1447.0 1686.5 L1446.0 1678.4 L1445.0 1680.0 L1444.0 1674.4 L1443.0 1665.1 L1442.0 1671.1 L1441.0 1664.6 L1440.0 1649.1 L1439.0 1666.3 L1438.0 1644.5 L1437.0 1640.7 L1436.0 1637.0 L1435.0 1664.9 L1434.0 1627.8 L1433.0 1634.0 L1432.0 1630.1 L1431.0 1618.2 L1430.0 1613.0 L1429.0 1600.4 L1428.0 1602.1 L1427.0 1593.0 L1426.0 1606.7 L1425.0 1596.4 L1424.0 1588.7 L1423.0 1619.8 L1422.0 1567.3 L1421.0 1573.8 L1420.0 1575.9 L1419.0 1562.6 L1418.0 1563.4 L1417.0 1552.6 L1416.0 1551.2 L1415.0 1550.8 L1414.0 1542.8 L1413.0 1561.2 L1412.0 1563.3 L1411.0 1524.7 L1410.0 1546.9 L1409.0 1516.8 L1408.0 1504.2 L1407.0 1498.2 L1406.0 1499.4 L1405.0 1490.3 L1404.0 1485.8 L1403.0 1479.7 L1402.0 1476.1 L1401.0 1463.8 L1400.0 1460.1 L1399.0 1460.6 L1398.0 1448.2 L1397.0 1443.9 L1396.0 1440.4 L1395.0 1430.8 L1394.0 1424.2 L1393.0 1420.9 L1392.0 1433.1 L1391.0 1412.3 L1390.0 1405.6 L1389.0 1395.2 L1388.0 1400.0 L1387.0 1403.3 L1386.0 1383.6 L1385.0 1377.7 L1384.0 1378.0 L1383.0 1365.7 L1382.0 1364.5 L1381.0 1367.8 L1380.0 1351.9 L1379.0 1350.8 L1378.0 1340.3 L1377.0 1335.9 L1376.0 1328.5 L1375.0 1322.9 L1374.0 1316.4 L1373.0 1315.6 L1372.0 1301.6 L1371.0 1299.0 L1370.0 1292.9 L1369.0 1278.6 L1368.0 1272.4 L1367.0 1276.7 L1366.0 1260.2 L1365.0 1253.1 L1364.0 1245.9 L1363.0 1238.5 L1362.0 1229.5 L1361.0 1221.2 L1360.0 1213.4 L1359.0 1206.9 L1358.0 1195.2 L1357.0 1187.4 L1356.0 1180.6 L1353.3 1969.0 L1352.5 1969.0 L1351.5 1936.9 L1350.5 1969.0 L1349.5 1969.0 L1348.5 1965.3 L1347.5 1958.7 L1346.5 1967.4 L1345.5 1951.7 L1344.5 1963.3 L1343.5 1969.0 L1342.5 1969.0 L1341.5 1969.0 L1340.5 1969.0Z" fill="#FFCC00" stroke="#FFCC00" stroke-width="1" stroke-linejoin="round"/><path d="M1340.5 1909.2 L1341.5 1904.8 L1342.5 1940.3 L1343.5 1929.1 L1344.5 1921.0 L1345.5 1938.3 L1346.5 1912.5 L1347.5 1904.4 L1348.5 1926.0 L1349.5 1969.0 L1350.3 1166.0 L1353.0 1164.0 L1354.0 1171.9 L1355.0 1175.7 L1356.0 1188.7 L1357.0 1192.6 L1358.0 1202.8 L1359.0 1209.4 L1360.0 1217.5 L1361.0 1221.9 L1362.0 1232.8 L1363.0 1237.4 L1364.0 1243.8 L1365.0 1246.0 L1366.0 1254.0 L1367.0 1260.8 L1368.0 1261.3 L1369.0 1266.4 L1370.0 1273.4 L1371.0 1280.7 L1372.0 1286.0 L1373.0 1287.1 L1374.0 1294.9 L1375.0 1282.6 L1376.0 1308.5 L1377.0 1308.1 L1378.0 1320.5 L1379.0 1321.0 L1380.0 1326.7 L1381.0 1334.5 L1382.0 1343.5 L1383.0 1345.6 L1384.0 1349.4 L1385.0 1358.4 L1386.0 1362.0 L1387.0 1365.1 L1388.0 1374.0 L1389.0 1386.1 L1390.0 1394.0 L1391.0 1395.5 L1392.0 1400.5 L1393.0 1397.0 L1394.0 1412.2 L1395.0 1414.7 L1396.0 1414.9 L1397.0 1420.9 L1398.0 1423.4 L1399.0 1427.4 L1400.0 1435.2 L1401.0 1442.3 L1402.0 1439.4 L1403.0 1440.9 L1404.0 1446.1 L1405.0 1449.1 L1406.0 1450.0 L1407.0 1458.3 L1408.0 1456.1 L1409.0 1455.7 L1410.0 1455.7 L1411.0 1425.6 L1412.0 1462.8 L1413.0 1455.6 L1414.0 1471.1 L1415.0 1475.2 L1416.0 1475.6 L1417.0 1482.8 L1418.0 1467.8 L1419.0 1479.7 L1420.0 1492.7 L1421.0 1477.9 L1422.0 1488.0 L1423.0 1492.7 L1424.0 1503.4 L1425.0 1475.2 L1426.0 1501.1 L1427.0 1506.5 L1428.0 1509.6 L1429.0 1506.9 L1430.0 1511.4 L1431.0 1516.5 L1432.0 1513.1 L1433.0 1517.3 L1434.0 1537.0 L1435.0 1528.9 L1436.0 1531.7 L1437.0 1534.1 L1438.0 1535.7 L1439.0 1551.1 L1440.0 1545.7 L1441.0 1545.9 L1442.0 1555.7 L1443.0 1545.7 L1444.0 1563.3 L1445.0 1562.9 L1446.0 1562.7 L1447.0 1574.0 L1448.0 1565.4 L1449.0 1578.4 L1450.0 1577.0 L1451.0 1571.8 L1452.0 1576.4 L1453.0 1578.5 L1454.0 1592.0 L1455.0 1597.1 L1456.0 1593.8 L1457.0 1607.0 L1458.0 1575.9 L1459.0 1605.3 L1460.0 1598.7 L1461.0 1593.1 L1462.0 1612.8 L1463.0 1620.9 L1464.0 1620.2 L1465.0 1609.4 L1466.0 1636.4 L1467.0 1627.3 L1468.0 1615.7 L1469.0 1626.6 L1470.0 1637.3 L1471.0 1636.1 L1472.0 1621.9 L1473.0 1639.0 L1474.0 1635.5 L1475.0 1633.0 L1476.0 1631.7 L1477.0 1628.5 L1478.0 1635.9 L1479.0 1630.3 L1480.0 1635.1 L1481.0 1633.8 L1482.0 1644.4 L1483.0 1636.2 L1484.0 1656.5 L1485.0 1645.2 L1486.0 1648.3 L1487.0 1666.2 L1488.0 1644.4 L1489.0 1648.1 L1490.0 1650.9 L1491.0 1637.0 L1492.0 1658.3 L1493.0 1632.6 L1494.0 1659.9 L1495.0 1644.9 L1496.0 1659.1 L1497.0 1663.1 L1498.0 1661.3 L1499.0 1664.3 L1500.0 1661.9 L1501.0 1661.0 L1502.0 1668.2 L1503.0 1683.5 L1504.0 1684.2 L1505.0 1667.6 L1506.0 1678.2 L1507.0 1644.8 L1508.0 1675.5 L1509.0 1663.9 L1510.0 1689.0 L1511.0 1678.8 L1512.0 1692.0 L1513.0 1690.3 L1514.0 1694.0 L1515.0 1680.5 L1516.0 1687.7 L1517.0 1702.5 L1518.0 1692.6 L1519.0 1714.1 L1520.0 1703.3 L1521.0 1692.5 L1522.0 1712.8 L1523.0 1688.8 L1524.0 1723.1 L1525.0 1706.9 L1526.0 1706.7 L1527.0 1689.9 L1528.0 1704.9 L1529.0 1700.0 L1530.0 1706.0 L1531.0 1713.7 L1532.0 1719.4 L1533.0 1724.6 L1534.0 1710.8 L1535.0 1716.5 L1536.0 1736.6 L1537.0 1718.6 L1538.0 1714.4 L1539.0 1722.5 L1540.0 1726.5 L1541.0 1730.1 L1542.0 1725.6 L1543.0 1722.7 L1544.0 1729.4 L1545.0 1738.1 L1546.0 1707.2 L1547.0 1748.5 L1548.0 1745.3 L1549.0 1743.2 L1550.0 1732.2 L1551.0 1734.5 L1552.0 1709.9 L1553.0 1748.8 L1554.0 1756.6 L1555.0 1754.5 L1556.0 1754.2 L1557.0 1772.3 L1558.0 1759.9 L1559.0 1759.8 L1560.0 1772.2 L1561.0 1774.4 L1562.0 1786.7 L1563.0 1745.0 L1564.0 1788.4 L1565.0 1766.3 L1566.0 1810.9 L1567.0 1824.5 L1568.0 1800.8 L1569.0 1863.7 L1570.0 1852.2 L1571.0 1854.8 L1572.0 1844.4 L1573.0 1861.4 L1574.0 1861.9 L1575.0 1852.9 L1576.0 1857.9 L1577.0 1894.2 L1578.0 1884.5 L1579.0 1897.1 L1580.0 1889.1 L1581.0 1880.5 L1582.0 1882.8 L1583.0 1883.2 L1584.0 1881.3 L1585.0 1873.7 L1586.0 1892.5 L1587.0 1892.1 L1588.0 1882.0 L1589.0 1896.9 L1590.0 1895.5 L1591.0 1897.0 L1592.0 1896.8 L1593.0 1904.5 L1594.0 1905.2 L1595.0 1875.4 L1596.0 1876.9 L1597.0 1899.9 L1598.0 1875.8 L1599.0 1891.6 L1600.0 1894.6 L1601.0 1893.6 L1602.0 1891.3 L1603.0 1902.5 L1604.0 1896.8 L1605.0 1888.4 L1606.0 1901.2 L1607.0 1901.8 L1608.0 1894.5 L1609.0 1893.1 L1610.0 1901.1 L1611.0 1855.2 L1612.0 1881.6 L1613.0 1908.7 L1614.0 1901.2 L1615.0 1877.9 L1616.0 1904.1 L1617.0 1908.0 L1618.0 1826.6 L1619.0 1890.1 L1620.0 1894.1 L1621.0 1888.5 L1622.0 1887.2 L1623.0 1885.1 L1624.0 1892.7 L1625.0 1894.2 L1626.0 1903.9 L1627.0 1910.7 L1628.0 1901.7 L1629.0 1846.6 L1630.0 1900.6 L1631.0 1890.6 L1632.0 1900.3 L1633.0 1904.2 L1634.0 1885.2 L1635.0 1911.8 L1636.0 1903.0 L1637.0 1902.9 L1638.0 1887.1 L1639.0 1894.2 L1640.0 1901.2 L1641.0 1898.9 L1642.0 1894.1 L1643.0 1828.3 L1644.0 1892.9 L1645.0 1899.7 L1646.0 1904.4 L1647.0 1888.2 L1648.0 1889.4 L1649.0 1901.8 L1650.0 1899.0 L1651.0 1841.9 L1652.0 1897.8 L1653.0 1894.8 L1654.0 1895.4 L1655.0 1901.4 L1656.0 1888.6 L1657.0 1883.3 L1658.0 1893.3 L1659.0 1895.7 L1660.0 1909.2 L1661.0 1871.9 L1662.0 1904.6 L1663.0 1908.2 L1664.0 1891.0 L1665.0 1898.1 L1666.0 1889.1 L1667.0 1886.3 L1668.0 1892.4 L1669.0 1891.2 L1670.0 1873.7 L1671.0 1874.1 L1672.0 1871.1 L1673.0 1870.1 L1674.0 1865.5 L1675.0 1872.3 L1676.0 1847.4 L1677.0 1871.4 L1678.0 1798.3 L1679.0 1844.0 L1680.0 1832.7 L1681.0 1801.9 L1682.0 1818.8 L1683.0 1817.4 L1684.0 1827.4 L1685.0 1831.7 L1686.0 1811.9 L1687.0 1804.5 L1688.0 1809.8 L1689.0 1783.6 L1690.0 1789.4 L1691.0 1776.3 L1692.0 1799.7 L1693.0 1781.7 L1694.0 1773.0 L1695.0 1775.8 L1696.0 1782.9 L1697.0 1778.3 L1698.0 1775.1 L1699.0 1764.1 L1700.0 1778.8 L1701.0 1775.7 L1702.0 1793.2 L1703.0 1757.1 L1704.0 1779.0 L1705.0 1769.5 L1706.0 1762.4 L1707.0 1793.2 L1708.0 1792.0 L1709.0 1789.8 L1710.0 1794.8 L1711.0 1793.3 L1712.0 1785.7 L1713.0 1780.9 L1714.0 1797.0 L1715.0 1807.3 L1716.0 1765.1 L1717.0 1649.5 L1718.0 1780.0 L1719.0 1771.0 L1720.0 1710.2 L1721.0 1798.8 L1722.0 1759.9 L1723.0 1787.4 L1724.0 1703.5 L1725.0 1792.8 L1726.0 1774.3 L1727.0 1816.6 L1728.0 1775.9 L1729.0 1741.2 L1730.0 1771.9 L1731.0 1782.0 L1732.0 1778.8 L1733.0 1782.5 L1734.0 1800.6 L1735.0 1782.6 L1736.0 1775.4 L1737.0 1781.8 L1738.0 1776.9 L1739.0 1771.2 L1740.0 1782.6 L1741.0 1728.2 L1742.0 1803.7 L1743.0 1774.9 L1744.0 1797.2 L1745.0 1751.7 L1746.0 1778.1 L1747.0 1771.4 L1748.0 1795.7 L1749.0 1775.2 L1750.0 1779.5 L1751.0 1792.7 L1752.0 1788.0 L1753.0 1790.8 L1754.0 1777.5 L1755.0 1755.7 L1756.0 1787.8 L1757.0 1784.0 L1758.0 1774.6 L1759.0 1783.5 L1760.0 1793.0 L1761.0 1778.6 L1762.0 1786.4 L1763.0 1759.3 L1764.0 1773.0 L1765.0 1812.7 L1766.0 1785.3 L1767.0 1790.8 L1768.0 1780.0 L1769.0 1759.4 L1770.0 1801.9 L1771.0 1706.7 L1772.0 1761.9 L1773.0 1779.8 L1774.0 1768.3 L1775.0 1773.3 L1776.0 1800.7 L1777.0 1750.9 L1778.0 1761.5 L1779.0 1737.4 L1780.0 1781.3 L1781.0 1800.8 L1782.0 1771.6 L1783.0 1797.4 L1784.0 1787.4 L1785.0 1822.6 L1786.0 1811.1 L1787.0 1782.4 L1788.0 1774.5 L1789.0 1766.8 L1790.0 1769.0 L1791.0 1790.7 L1792.0 1776.9 L1793.0 1716.0 L1794.0 1772.6 L1795.0 1776.0 L1796.0 1787.0 L1797.0 1776.8 L1798.0 1781.1 L1799.0 1762.4 L1800.0 1785.3 L1801.0 1780.5 L1802.0 1803.3 L1803.0 1785.4 L1804.0 1769.2 L1805.0 1737.4 L1806.0 1780.7 L1807.0 1775.4 L1808.0 1808.2 L1809.0 1791.8 L1810.0 1791.7 L1811.0 1746.5 L1812.0 1788.7 L1813.0 1793.3 L1814.0 1800.0 L1815.0 1752.1 L1816.0 1779.6 L1817.0 1777.6 L1818.0 1738.1 L1819.0 1775.7 L1820.0 1765.2 L1821.0 1804.1 L1822.0 1773.3 L1823.0 1785.6 L1824.0 1779.7 L1825.0 1819.2 L1826.0 1725.3 L1827.0 1780.7 L1828.0 1779.0 L1829.0 1754.6 L1830.0 1766.8 L1831.0 1789.4 L1832.0 1766.2 L1833.0 1790.1 L1834.0 1780.5 L1835.0 1785.9 L1836.0 1758.6 L1837.0 1785.0 L1838.0 1788.0 L1839.0 1773.7 L1840.0 1777.2 L1841.0 1789.4 L1842.0 1793.0 L1843.0 1791.4 L1844.0 1821.6 L1845.0 1763.8 L1846.0 1776.9 L1847.0 1787.3 L1848.0 1763.9 L1849.0 1788.9 L1850.0 1779.4 L1851.0 1786.9 L1852.0 1738.3 L1853.0 1812.2 L1854.0 1806.0 L1855.0 1768.5 L1856.0 1780.2 L1857.0 1781.2 L1858.0 1759.2 L1859.0 1801.7 L1860.0 1785.6 L1861.0 1770.3 L1862.0 1787.9 L1863.0 1809.7 L1864.0 1778.5 L1865.0 1788.9 L1866.0 1799.0 L1867.0 1779.6 L1868.0 1800.7 L1869.0 1775.0 L1870.0 1795.7 L1871.0 1804.1 L1872.0 1795.1 L1873.0 1802.6 L1874.0 1780.6 L1875.0 1789.7 L1876.0 1783.9 L1877.0 1741.5 L1878.0 1774.3 L1879.0 1813.1 L1880.0 1790.3 L1881.0 1778.6 L1882.0 1806.8 L1883.0 1786.9 L1884.0 1825.1 L1885.0 1767.1 L1886.0 1801.4 L1887.0 1758.4 L1888.0 1765.0 L1889.0 1775.7 L1890.0 1787.4 L1891.0 1773.2 L1892.0 1801.2 L1893.0 1779.6 L1894.0 1800.4 L1895.0 1801.6 L1896.0 1780.9 L1897.0 1804.3 L1898.0 1811.5 L1899.0 1804.0 L1900.0 1794.4 L1901.0 1781.9 L1902.0 1791.6 L1903.0 1777.3 L1904.0 1811.2 L1905.0 1797.4 L1906.0 1765.1 L1907.0 1792.9 L1908.0 1807.2 L1909.0 1812.1 L1910.0 1772.5 L1911.0 1789.3 L1912.0 1761.9 L1913.0 1791.9 L1914.0 1775.6 L1915.0 1793.5 L1916.0 1786.2 L1917.0 1801.1 L1918.0 1762.3 L1919.0 1773.7 L1920.0 1795.8 L1921.0 1794.6 L1922.0 1800.2 L1923.0 1796.4 L1924.0 1817.1 L1925.0 1786.7 L1926.0 1795.6 L1927.0 1797.9 L1928.0 1757.5 L1929.0 1823.2 L1930.0 1777.1 L1931.0 1779.7 L1932.0 1785.4 L1933.0 1792.2 L1934.0 1795.1 L1935.0 1785.6 L1936.0 1788.4 L1937.0 1795.3 L1938.0 1783.6 L1939.0 1789.0 L1940.0 1794.0 L1941.0 1792.1 L1942.0 1789.8 L1943.0 1787.7 L1944.0 1795.4 L1945.0 1780.2 L1946.0 1797.2 L1947.0 1795.3 L1948.0 1774.0 L1949.0 1785.2 L1950.0 1807.9 L1951.0 1797.4 L1952.0 1802.4 L1953.0 1780.2 L1954.0 1798.0 L1955.0 1805.2 L1956.0 1782.4 L1957.0 1789.5 L1958.0 1775.0 L1959.0 1770.5 L1960.0 1799.7 L1961.0 1801.1 L1962.0 1767.6 L1963.0 1705.4 L1964.0 1778.5 L1965.0 1792.1 L1966.0 1819.4 L1967.0 1781.3 L1968.0 1791.5 L1969.0 1767.3 L1970.0 1792.1 L1971.0 1761.0 L1972.0 1788.4 L1973.0 1773.2 L1974.0 1798.8 L1975.0 1814.6 L1976.0 1788.8 L1977.0 1770.5 L1978.0 1807.4 L1979.0 1797.2 L1980.0 1792.9 L1981.0 1816.0 L1982.0 1799.0 L1983.0 1799.3 L1984.0 1810.4 L1985.0 1792.9 L1986.0 1802.6 L1987.0 1705.5 L1988.0 1789.1 L1989.0 1819.0 L1990.0 1798.8 L1991.0 1755.4 L1992.0 1803.3 L1993.0 1798.5 L1994.0 1774.6 L1995.0 1797.9 L1996.0 1798.7 L1997.0 1802.8 L1998.0 1779.0 L1999.0 1810.2 L2000.0 1772.2 L2001.0 1817.6 L2002.0 1785.6 L2003.0 1798.9 L2004.0 1781.5 L2005.0 1794.9 L2006.0 1810.3 L2007.0 1823.5 L2008.0 1813.1 L2009.0 1792.2 L2010.0 1798.4 L2011.0 1793.2 L2012.0 1807.0 L2013.0 1804.8 L2014.0 1808.0 L2015.0 1805.2 L2016.0 1790.5 L2017.0 1814.2 L2018.0 1788.7 L2019.0 1790.9 L2020.0 1787.6 L2021.0 1784.1 L2022.0 1805.2 L2023.0 1817.5 L2024.0 1791.3 L2025.0 1804.4 L2026.0 1810.3 L2027.0 1783.0 L2028.0 1814.0 L2029.0 1807.7 L2030.0 1809.6 L2031.0 1806.0 L2032.0 1784.0 L2033.0 1736.4 L2034.0 1816.3 L2035.0 1792.0 L2036.0 1819.2 L2037.0 1794.7 L2038.0 1804.2 L2039.0 1810.4 L2040.0 1804.5 L2041.0 1811.6 L2042.0 1801.3 L2043.0 1814.1 L2044.0 1799.1 L2045.0 1775.8 L2046.0 1753.2 L2047.0 1805.0 L2048.0 1796.5 L2049.0 1815.6 L2050.0 1793.5 L2051.0 1820.4 L2052.0 1791.7 L2053.0 1823.1 L2054.0 1809.0 L2055.0 1824.0 L2056.0 1821.5 L2057.0 1817.5 L2058.0 1805.6 L2059.0 1812.1 L2060.0 1742.1 L2061.0 1821.1 L2062.0 1797.3 L2063.0 1810.3 L2064.0 1790.3 L2065.0 1807.1 L2066.0 1795.3 L2067.0 1805.9 L2068.0 1812.1 L2069.0 1815.1 L2070.0 1802.6 L2071.0 1818.0 L2072.0 1806.5 L2073.0 1844.0 L2074.0 1815.9 L2075.0 1806.4 L2076.0 1825.5 L2077.0 1777.5 L2078.0 1807.9 L2079.0 1810.8 L2080.0 1798.9 L2081.0 1806.6 L2082.0 1811.7 L2083.0 1791.7 L2084.0 1830.4 L2085.0 1821.1 L2086.0 1816.2 L2087.0 1826.3 L2088.0 1792.0 L2089.0 1780.6 L2090.0 1805.2 L2091.0 1820.6 L2092.0 1830.1 L2093.0 1803.5 L2094.0 1833.4 L2095.0 1834.1 L2096.0 1745.4 L2097.0 1833.3 L2098.0 1830.7 L2099.0 1832.2 L2100.0 1760.8 L2101.0 1814.9 L2102.0 1820.2 L2103.0 1813.8 L2104.0 1818.1 L2105.0 1827.5 L2106.0 1830.5 L2107.0 1820.8 L2108.0 1809.7 L2109.0 1831.2 L2110.0 1817.7 L2111.0 1820.0 L2112.0 1813.8 L2113.0 1828.3 L2114.0 1824.1 L2115.0 1809.6 L2116.0 1811.1 L2117.0 1813.3 L2118.0 1821.5 L2119.0 1812.0 L2120.0 1825.9 L2121.0 1779.1 L2122.0 1827.2 L2123.0 1813.8 L2124.0 1833.6 L2125.0 1782.6 L2126.0 1818.2 L2127.0 1823.4 L2128.0 1811.3 L2129.0 1824.4 L2130.0 1828.7 L2131.0 1830.0 L2132.0 1802.5 L2133.0 1839.2 L2134.0 1834.1 L2135.0 1815.0 L2136.0 1837.8 L2137.0 1841.1 L2138.0 1831.4 L2139.0 1811.6 L2140.0 1820.0 L2141.0 1813.2 L2142.0 1790.7 L2143.0 1814.3 L2144.0 1655.9 L2145.0 1817.0 L2146.0 1824.8 L2147.0 1823.1 L2148.0 1838.4 L2149.0 1820.6 L2150.0 1829.8 L2151.0 1823.0 L2152.0 1826.7 L2153.0 1835.4 L2154.0 1834.3 L2155.0 1786.3 L2156.0 1816.7 L2157.0 1823.7 L2158.0 1824.8 L2159.0 1838.8 L2160.0 1834.1 L2161.0 1809.3 L2162.0 1824.2 L2163.0 1842.7 L2164.0 1836.2 L2165.0 1821.1 L2166.0 1810.6 L2167.0 1827.4 L2168.0 1830.3 L2169.0 1836.6 L2170.0 1841.7 L2171.0 1823.8 L2172.0 1832.6 L2173.0 1828.6 L2174.0 1840.1 L2175.0 1841.0 L2176.0 1820.0 L2177.0 1803.6 L2178.0 1829.6 L2179.0 1834.4 L2180.0 1802.3 L2181.0 1820.1 L2182.0 1825.7 L2183.0 1832.9 L2184.0 1832.5 L2185.0 1766.2 L2186.0 1829.2 L2187.0 1840.5 L2188.0 1827.2 L2189.0 1826.8 L2190.0 1838.4 L2191.0 1836.1 L2192.0 1820.8 L2193.0 1842.2 L2194.0 1848.7 L2195.0 1825.4 L2196.0 1813.3 L2197.0 1785.5 L2198.0 1850.6 L2199.0 1840.5 L2200.0 1825.3 L2201.0 1805.3 L2202.0 1841.7 L2203.0 1825.1 L2204.0 1836.8 L2205.0 1847.5 L2206.0 1845.2 L2207.0 1853.4 L2208.0 1795.4 L2209.0 1837.1 L2210.0 1839.6 L2211.0 1771.0 L2212.0 1823.0 L2213.0 1835.0 L2214.0 1842.6 L2215.0 1839.3 L2216.0 1835.2 L2217.0 1820.2 L2218.0 1838.4 L2219.0 1849.7 L2220.0 1840.8 L2221.0 1843.5 L2222.0 1852.2 L2223.0 1840.9 L2224.0 1831.3 L2225.0 1840.7 L2226.0 1837.2 L2227.0 1847.7 L2228.0 1848.2 L2229.0 1848.0 L2230.0 1846.6 L2231.0 1841.6 L2232.0 1830.1 L2233.0 1846.3 L2234.0 1846.3 L2235.0 1843.4 L2236.0 1836.1 L2237.0 1846.3 L2238.0 1850.2 L2239.0 1812.8 L2240.0 1858.6 L2241.0 1761.2 L2242.0 1845.8 L2243.0 1844.7 L2244.0 1838.0 L2245.0 1854.1 L2246.0 1836.1 L2247.0 1835.8 L2248.0 1846.9 L2249.0 1852.6 L2250.0 1835.5 L2251.0 1840.2 L2252.0 1833.8 L2253.0 1846.1 L2254.0 1844.3 L2255.0 1843.3 L2256.0 1847.0 L2257.0 1869.0 L2258.0 1852.1 L2259.0 1848.4 L2260.0 1839.7 L2261.0 1847.2 L2262.0 1856.8 L2262.0 1969.0 L2261.0 1969.0 L2260.0 1969.0 L2259.0 1969.0 L2258.0 1969.0 L2257.0 1969.0 L2256.0 1969.0 L2255.0 1969.0 L2254.0 1969.0 L2253.0 1969.0 L2252.0 1969.0 L2251.0 1969.0 L2250.0 1969.0 L2249.0 1969.0 L2248.0 1969.0 L2247.0 1969.0 L2246.0 1969.0 L2245.0 1969.0 L2244.0 1969.0 L2243.0 1969.0 L2242.0 1969.0 L2241.0 1969.0 L2240.0 1969.0 L2239.0 1969.0 L2238.0 1969.0 L2237.0 1969.0 L2236.0 1969.0 L2235.0 1969.0 L2234.0 1969.0 L2233.0 1969.0 L2232.0 1969.0 L2231.0 1969.0 L2230.0 1969.0 L2229.0 1969.0 L2228.0 1969.0 L2227.0 1969.0 L2226.0 1969.0 L2225.0 1969.0 L2224.0 1969.0 L2223.0 1969.0 L2222.0 1969.0 L2221.0 1969.0 L2220.0 1969.0 L2219.0 1969.0 L2218.0 1969.0 L2217.0 1969.0 L2216.0 1969.0 L2215.0 1969.0 L2214.0 1969.0 L2213.0 1969.0 L2212.0 1969.0 L2211.0 1969.0 L2210.0 1969.0 L2209.0 1969.0 L2208.0 1969.0 L2207.0 1969.0 L2206.0 1969.0 L2205.0 1969.0 L2204.0 1969.0 L2203.0 1969.0 L2202.0 1969.0 L2201.0 1969.0 L2200.0 1969.0 L2199.0 1969.0 L2198.0 1969.0 L2197.0 1969.0 L2196.0 1969.0 L2195.0 1969.0 L2194.0 1969.0 L2193.0 1969.0 L2192.0 1969.0 L2191.0 1969.0 L2190.0 1969.0 L2189.0 1969.0 L2188.0 1969.0 L2187.0 1969.0 L2186.0 1969.0 L2185.0 1969.0 L2184.0 1969.0 L2183.0 1969.0 L2182.0 1969.0 L2181.0 1969.0 L2180.0 1969.0 L2179.0 1969.0 L2178.0 1969.0 L2177.0 1969.0 L2176.0 1969.0 L2175.0 1969.0 L2174.0 1969.0 L2173.0 1969.0 L2172.0 1969.0 L2171.0 1969.0 L2170.0 1969.0 L2169.0 1969.0 L2168.0 1969.0 L2167.0 1969.0 L2166.0 1969.0 L2165.0 1969.0 L2164.0 1969.0 L2163.0 1969.0 L2162.0 1969.0 L2161.0 1969.0 L2160.0 1969.0 L2159.0 1969.0 L2158.0 1969.0 L2157.0 1969.0 L2156.0 1969.0 L2155.0 1969.0 L2154.0 1969.0 L2153.0 1969.0 L2152.0 1969.0 L2151.0 1969.0 L2150.0 1969.0 L2149.0 1969.0 L2148.0 1969.0 L2147.0 1969.0 L2146.0 1969.0 L2145.0 1969.0 L2144.0 1969.0 L2143.0 1969.0 L2142.0 1969.0 L2141.0 1969.0 L2140.0 1969.0 L2139.0 1969.0 L2138.0 1969.0 L2137.0 1969.0 L2136.0 1969.0 L2135.0 1969.0 L2134.0 1969.0 L2133.0 1969.0 L2132.0 1969.0 L2131.0 1969.0 L2130.0 1969.0 L2129.0 1969.0 L2128.0 1969.0 L2127.0 1969.0 L2126.0 1969.0 L2125.0 1969.0 L2124.0 1969.0 L2123.0 1969.0 L2122.0 1969.0 L2121.0 1969.0 L2120.0 1969.0 L2119.0 1969.0 L2118.0 1969.0 L2117.0 1969.0 L2116.0 1969.0 L2115.0 1969.0 L2114.0 1969.0 L2113.0 1969.0 L2112.0 1969.0 L2111.0 1969.0 L2110.0 1969.0 L2109.0 1969.0 L2108.0 1969.0 L2107.0 1969.0 L2106.0 1969.0 L2105.0 1969.0 L2104.0 1969.0 L2103.0 1969.0 L2102.0 1969.0 L2101.0 1969.0 L2100.0 1969.0 L2099.0 1969.0 L2098.0 1969.0 L2097.0 1969.0 L2096.0 1969.0 L2095.0 1969.0 L2094.0 1969.0 L2093.0 1969.0 L2092.0 1969.0 L2091.0 1969.0 L2090.0 1969.0 L2089.0 1969.0 L2088.0 1969.0 L2087.0 1969.0 L2086.0 1969.0 L2085.0 1969.0 L2084.0 1969.0 L2083.0 1969.0 L2082.0 1969.0 L2081.0 1969.0 L2080.0 1969.0 L2079.0 1969.0 L2078.0 1969.0 L2077.0 1969.0 L2076.0 1969.0 L2075.0 1969.0 L2074.0 1969.0 L2073.0 1969.0 L2072.0 1969.0 L2071.0 1969.0 L2070.0 1969.0 L2069.0 1969.0 L2068.0 1969.0 L2067.0 1969.0 L2066.0 1969.0 L2065.0 1969.0 L2064.0 1969.0 L2063.0 1969.0 L2062.0 1969.0 L2061.0 1969.0 L2060.0 1969.0 L2059.0 1969.0 L2058.0 1969.0 L2057.0 1969.0 L2056.0 1969.0 L2055.0 1969.0 L2054.0 1969.0 L2053.0 1969.0 L2052.0 1969.0 L2051.0 1969.0 L2050.0 1969.0 L2049.0 1969.0 L2048.0 1969.0 L2047.0 1969.0 L2046.0 1969.0 L2045.0 1969.0 L2044.0 1969.0 L2043.0 1969.0 L2042.0 1969.0 L2041.0 1969.0 L2040.0 1969.0 L2039.0 1969.0 L2038.0 1969.0 L2037.0 1969.0 L2036.0 1969.0 L2035.0 1969.0 L2034.0 1969.0 L2033.0 1969.0 L2032.0 1969.0 L2031.0 1969.0 L2030.0 1969.0 L2029.0 1969.0 L2028.0 1969.0 L2027.0 1969.0 L2026.0 1969.0 L2025.0 1969.0 L2024.0 1969.0 L2023.0 1969.0 L2022.0 1969.0 L2021.0 1969.0 L2020.0 1969.0 L2019.0 1969.0 L2018.0 1969.0 L2017.0 1969.0 L2016.0 1969.0 L2015.0 1969.0 L2014.0 1969.0 L2013.0 1969.0 L2012.0 1969.0 L2011.0 1969.0 L2010.0 1969.0 L2009.0 1969.0 L2008.0 1969.0 L2007.0 1969.0 L2006.0 1969.0 L2005.0 1969.0 L2004.0 1969.0 L2003.0 1969.0 L2002.0 1969.0 L2001.0 1969.0 L2000.0 1969.0 L1999.0 1969.0 L1998.0 1969.0 L1997.0 1969.0 L1996.0 1969.0 L1995.0 1969.0 L1994.0 1969.0 L1993.0 1969.0 L1992.0 1969.0 L1991.0 1969.0 L1990.0 1969.0 L1989.0 1969.0 L1988.0 1969.0 L1987.0 1969.0 L1986.0 1969.0 L1985.0 1969.0 L1984.0 1969.0 L1983.0 1969.0 L1982.0 1969.0 L1981.0 1969.0 L1980.0 1969.0 L1979.0 1969.0 L1978.0 1969.0 L1977.0 1969.0 L1976.0 1969.0 L1975.0 1969.0 L1974.0 1969.0 L1973.0 1969.0 L1972.0 1969.0 L1971.0 1969.0 L1970.0 1969.0 L1969.0 1969.0 L1968.0 1969.0 L1967.0 1969.0 L1966.0 1969.0 L1965.0 1969.0 L1964.0 1969.0 L1963.0 1969.0 L1962.0 1969.0 L1961.0 1969.0 L1960.0 1969.0 L1959.0 1969.0 L1958.0 1969.0 L1957.0 1969.0 L1956.0 1969.0 L1955.0 1969.0 L1954.0 1969.0 L1953.0 1969.0 L1952.0 1969.0 L1951.0 1969.0 L1950.0 1969.0 L1949.0 1969.0 L1948.0 1969.0 L1947.0 1969.0 L1946.0 1969.0 L1945.0 1969.0 L1944.0 1969.0 L1943.0 1969.0 L1942.0 1969.0 L1941.0 1969.0 L1940.0 1969.0 L1939.0 1969.0 L1938.0 1969.0 L1937.0 1969.0 L1936.0 1969.0 L1935.0 1969.0 L1934.0 1969.0 L1933.0 1969.0 L1932.0 1969.0 L1931.0 1969.0 L1930.0 1969.0 L1929.0 1969.0 L1928.0 1969.0 L1927.0 1969.0 L1926.0 1969.0 L1925.0 1969.0 L1924.0 1969.0 L1923.0 1969.0 L1922.0 1969.0 L1921.0 1969.0 L1920.0 1969.0 L1919.0 1969.0 L1918.0 1969.0 L1917.0 1969.0 L1916.0 1969.0 L1915.0 1969.0 L1914.0 1969.0 L1913.0 1969.0 L1912.0 1969.0 L1911.0 1969.0 L1910.0 1969.0 L1909.0 1969.0 L1908.0 1969.0 L1907.0 1969.0 L1906.0 1969.0 L1905.0 1969.0 L1904.0 1969.0 L1903.0 1969.0 L1902.0 1969.0 L1901.0 1969.0 L1900.0 1969.0 L1899.0 1969.0 L1898.0 1969.0 L1897.0 1969.0 L1896.0 1969.0 L1895.0 1969.0 L1894.0 1969.0 L1893.0 1969.0 L1892.0 1969.0 L1891.0 1969.0 L1890.0 1969.0 L1889.0 1969.0 L1888.0 1969.0 L1887.0 1969.0 L1886.0 1969.0 L1885.0 1969.0 L1884.0 1969.0 L1883.0 1969.0 L1882.0 1969.0 L1881.0 1969.0 L1880.0 1969.0 L1879.0 1969.0 L1878.0 1969.0 L1877.0 1969.0 L1876.0 1969.0 L1875.0 1969.0 L1874.0 1969.0 L1873.0 1969.0 L1872.0 1969.0 L1871.0 1969.0 L1870.0 1969.0 L1869.0 1969.0 L1868.0 1969.0 L1867.0 1969.0 L1866.0 1969.0 L1865.0 1969.0 L1864.0 1969.0 L1863.0 1969.0 L1862.0 1969.0 L1861.0 1969.0 L1860.0 1969.0 L1859.0 1969.0 L1858.0 1969.0 L1857.0 1969.0 L1856.0 1969.0 L1855.0 1969.0 L1854.0 1969.0 L1853.0 1969.0 L1852.0 1969.0 L1851.0 1969.0 L1850.0 1969.0 L1849.0 1969.0 L1848.0 1969.0 L1847.0 1969.0 L1846.0 1969.0 L1845.0 1969.0 L1844.0 1969.0 L1843.0 1969.0 L1842.0 1969.0 L1841.0 1969.0 L1840.0 1969.0 L1839.0 1969.0 L1838.0 1969.0 L1837.0 1969.0 L1836.0 1969.0 L1835.0 1969.0 L1834.0 1969.0 L1833.0 1969.0 L1832.0 1969.0 L1831.0 1969.0 L1830.0 1969.0 L1829.0 1969.0 L1828.0 1969.0 L1827.0 1969.0 L1826.0 1969.0 L1825.0 1969.0 L1824.0 1969.0 L1823.0 1969.0 L1822.0 1969.0 L1821.0 1969.0 L1820.0 1969.0 L1819.0 1969.0 L1818.0 1969.0 L1817.0 1969.0 L1816.0 1969.0 L1815.0 1969.0 L1814.0 1969.0 L1813.0 1969.0 L1812.0 1969.0 L1811.0 1969.0 L1810.0 1969.0 L1809.0 1969.0 L1808.0 1969.0 L1807.0 1969.0 L1806.0 1969.0 L1805.0 1969.0 L1804.0 1969.0 L1803.0 1969.0 L1802.0 1969.0 L1801.0 1969.0 L1800.0 1969.0 L1799.0 1969.0 L1798.0 1969.0 L1797.0 1969.0 L1796.0 1969.0 L1795.0 1969.0 L1794.0 1969.0 L1793.0 1969.0 L1792.0 1969.0 L1791.0 1969.0 L1790.0 1969.0 L1789.0 1969.0 L1788.0 1969.0 L1787.0 1969.0 L1786.0 1969.0 L1785.0 1969.0 L1784.0 1969.0 L1783.0 1969.0 L1782.0 1969.0 L1781.0 1969.0 L1780.0 1969.0 L1779.0 1969.0 L1778.0 1969.0 L1777.0 1969.0 L1776.0 1969.0 L1775.0 1969.0 L1774.0 1969.0 L1773.0 1969.0 L1772.0 1969.0 L1771.0 1969.0 L1770.0 1969.0 L1769.0 1969.0 L1768.0 1969.0 L1767.0 1969.0 L1766.0 1969.0 L1765.0 1969.0 L1764.0 1969.0 L1763.0 1969.0 L1762.0 1969.0 L1761.0 1969.0 L1760.0 1969.0 L1759.0 1969.0 L1758.0 1969.0 L1757.0 1969.0 L1756.0 1969.0 L1755.0 1969.0 L1754.0 1969.0 L1753.0 1969.0 L1752.0 1969.0 L1751.0 1969.0 L1750.0 1969.0 L1749.0 1969.0 L1748.0 1969.0 L1747.0 1969.0 L1746.0 1969.0 L1745.0 1969.0 L1744.0 1969.0 L1743.0 1969.0 L1742.0 1969.0 L1741.0 1969.0 L1740.0 1969.0 L1739.0 1969.0 L1738.0 1969.0 L1737.0 1969.0 L1736.0 1969.0 L1735.0 1969.0 L1734.0 1969.0 L1733.0 1969.0 L1732.0 1969.0 L1731.0 1969.0 L1730.0 1969.0 L1729.0 1969.0 L1728.0 1969.0 L1727.0 1969.0 L1726.0 1969.0 L1725.0 1969.0 L1724.0 1969.0 L1723.0 1969.0 L1722.0 1969.0 L1721.0 1969.0 L1720.0 1969.0 L1719.0 1969.0 L1718.0 1969.0 L1717.0 1969.0 L1716.0 1969.0 L1715.0 1969.0 L1714.0 1969.0 L1713.0 1969.0 L1712.0 1969.0 L1711.0 1969.0 L1710.0 1969.0 L1709.0 1969.0 L1708.0 1969.0 L1707.0 1969.0 L1706.0 1969.0 L1705.0 1969.0 L1704.0 1969.0 L1703.0 1969.0 L1702.0 1969.0 L1701.0 1969.0 L1700.0 1969.0 L1699.0 1969.0 L1698.0 1969.0 L1697.0 1969.0 L1696.0 1969.0 L1695.0 1969.0 L1694.0 1969.0 L1693.0 1969.0 L1692.0 1969.0 L1691.0 1969.0 L1690.0 1969.0 L1689.0 1969.0 L1688.0 1969.0 L1687.0 1969.0 L1686.0 1969.0 L1685.0 1969.0 L1684.0 1969.0 L1683.0 1969.0 L1682.0 1969.0 L1681.0 1969.0 L1680.0 1939.0 L1679.0 1969.0 L1678.0 1969.0 L1677.0 1969.0 L1676.0 1969.0 L1675.0 1969.0 L1674.0 1969.0 L1673.0 1969.0 L1672.0 1969.0 L1671.0 1969.0 L1670.0 1969.0 L1669.0 1969.0 L1668.0 1969.0 L1667.0 1969.0 L1666.0 1969.0 L1665.0 1969.0 L1664.0 1969.0 L1663.0 1943.3 L1662.0 1969.0 L1661.0 1969.0 L1660.0 1969.0 L1659.0 1969.0 L1658.0 1969.0 L1657.0 1969.0 L1656.0 1969.0 L1655.0 1969.0 L1654.0 1969.0 L1653.0 1969.0 L1652.0 1969.0 L1651.0 1969.0 L1650.0 1969.0 L1649.0 1969.0 L1648.0 1969.0 L1647.0 1969.0 L1646.0 1969.0 L1645.0 1969.0 L1644.0 1969.0 L1643.0 1969.0 L1642.0 1969.0 L1641.0 1969.0 L1640.0 1969.0 L1639.0 1969.0 L1638.0 1969.0 L1637.0 1948.7 L1636.0 1969.0 L1635.0 1969.0 L1634.0 1969.0 L1633.0 1969.0 L1632.0 1969.0 L1631.0 1969.0 L1630.0 1969.0 L1629.0 1969.0 L1628.0 1969.0 L1627.0 1969.0 L1626.0 1969.0 L1625.0 1969.0 L1624.0 1969.0 L1623.0 1969.0 L1622.0 1969.0 L1621.0 1969.0 L1620.0 1969.0 L1619.0 1969.0 L1618.0 1940.1 L1617.0 1936.1 L1616.0 1969.0 L1615.0 1969.0 L1614.0 1969.0 L1613.0 1969.0 L1612.0 1969.0 L1611.0 1969.0 L1610.0 1969.0 L1609.0 1969.0 L1608.0 1932.8 L1607.0 1969.0 L1606.0 1969.0 L1605.0 1969.0 L1604.0 1969.0 L1603.0 1969.0 L1602.0 1969.0 L1601.0 1969.0 L1600.0 1969.0 L1599.0 1969.0 L1598.0 1969.0 L1597.0 1969.0 L1596.0 1969.0 L1595.0 1969.0 L1594.0 1969.0 L1593.0 1969.0 L1592.0 1969.0 L1591.0 1969.0 L1590.0 1969.0 L1589.0 1969.0 L1588.0 1969.0 L1587.0 1969.0 L1586.0 1942.6 L1585.0 1969.0 L1584.0 1969.0 L1583.0 1969.0 L1582.0 1969.0 L1581.0 1969.0 L1580.0 1969.0 L1579.0 1969.0 L1578.0 1969.0 L1577.0 1969.0 L1576.0 1941.3 L1575.0 1969.0 L1574.0 1933.5 L1573.0 1969.0 L1572.0 1969.0 L1571.0 1969.0 L1570.0 1969.0 L1569.0 1933.1 L1568.0 1915.1 L1567.0 1900.7 L1566.0 1907.6 L1565.0 1886.2 L1564.0 1865.2 L1563.0 1882.2 L1562.0 1855.3 L1561.0 1852.7 L1560.0 1852.1 L1559.0 1851.1 L1558.0 1844.7 L1557.0 1865.9 L1556.0 1838.1 L1555.0 1814.2 L1554.0 1841.1 L1553.0 1828.2 L1552.0 1851.9 L1551.0 1816.4 L1550.0 1829.5 L1549.0 1812.2 L1548.0 1830.8 L1547.0 1804.5 L1546.0 1820.0 L1545.0 1805.5 L1544.0 1791.5 L1543.0 1797.9 L1542.0 1797.7 L1541.0 1776.2 L1540.0 1775.3 L1539.0 1777.7 L1538.0 1829.7 L1537.0 1770.9 L1536.0 1784.3 L1535.0 1782.2 L1534.0 1786.4 L1533.0 1763.8 L1532.0 1781.9 L1531.0 1758.3 L1530.0 1774.1 L1529.0 1758.3 L1528.0 1754.5 L1527.0 1763.5 L1526.0 1761.6 L1525.0 1758.2 L1524.0 1761.6 L1523.0 1760.9 L1522.0 1754.7 L1521.0 1742.7 L1520.0 1757.2 L1519.0 1750.8 L1518.0 1747.4 L1517.0 1762.0 L1516.0 1742.1 L1515.0 1732.9 L1514.0 1735.9 L1513.0 1751.4 L1512.0 1745.1 L1511.0 1749.5 L1510.0 1775.0 L1509.0 1760.3 L1508.0 1739.7 L1507.0 1744.1 L1506.0 1724.2 L1505.0 1735.0 L1504.0 1732.2 L1503.0 1729.0 L1502.0 1754.5 L1501.0 1728.1 L1500.0 1745.6 L1499.0 1772.7 L1498.0 1743.0 L1497.0 1734.1 L1496.0 1789.9 L1495.0 1725.8 L1494.0 1726.6 L1493.0 1753.4 L1492.0 1738.2 L1491.0 1731.1 L1490.0 1723.1 L1489.0 1722.0 L1488.0 1728.5 L1487.0 1722.9 L1486.0 1728.9 L1485.0 1724.6 L1484.0 1715.2 L1483.0 1717.8 L1482.0 1716.9 L1481.0 1718.0 L1480.0 1721.4 L1479.0 1704.7 L1478.0 1698.0 L1477.0 1726.5 L1476.0 1718.2 L1475.0 1706.4 L1474.0 1705.8 L1473.0 1701.5 L1472.0 1692.7 L1471.0 1697.5 L1470.0 1699.5 L1469.0 1700.7 L1468.0 1700.8 L1467.0 1677.6 L1466.0 1688.0 L1465.0 1668.6 L1464.0 1683.6 L1463.0 1682.9 L1462.0 1677.6 L1461.0 1662.2 L1460.0 1666.7 L1459.0 1666.1 L1458.0 1657.3 L1457.0 1656.7 L1456.0 1645.1 L1455.0 1653.5 L1454.0 1672.3 L1453.0 1640.8 L1452.0 1647.6 L1451.0 1632.5 L1450.0 1633.4 L1449.0 1631.2 L1448.0 1628.8 L1447.0 1621.7 L1446.0 1621.3 L1445.0 1629.8 L1444.0 1602.5 L1443.0 1610.5 L1442.0 1611.4 L1441.0 1611.4 L1440.0 1611.7 L1439.0 1595.0 L1438.0 1590.5 L1437.0 1593.9 L1436.0 1583.3 L1435.0 1587.6 L1434.0 1586.3 L1433.0 1573.4 L1432.0 1563.3 L1431.0 1565.0 L1430.0 1567.3 L1429.0 1558.0 L1428.0 1551.9 L1427.0 1553.5 L1426.0 1537.6 L1425.0 1547.6 L1424.0 1545.9 L1423.0 1540.4 L1422.0 1537.0 L1421.0 1532.9 L1420.0 1523.9 L1419.0 1525.1 L1418.0 1525.7 L1417.0 1538.6 L1416.0 1523.4 L1415.0 1523.3 L1414.0 1500.9 L1413.0 1513.3 L1412.0 1507.7 L1411.0 1506.3 L1410.0 1516.0 L1409.0 1497.3 L1408.0 1496.1 L1407.0 1490.6 L1406.0 1490.6 L1405.0 1491.5 L1404.0 1474.5 L1403.0 1482.9 L1402.0 1480.5 L1401.0 1469.0 L1400.0 1471.2 L1399.0 1469.6 L1398.0 1454.6 L1397.0 1456.0 L1396.0 1456.7 L1395.0 1444.4 L1394.0 1441.6 L1393.0 1450.9 L1392.0 1433.4 L1391.0 1426.6 L1390.0 1420.2 L1389.0 1408.6 L1388.0 1403.5 L1387.0 1396.1 L1386.0 1392.6 L1385.0 1385.6 L1384.0 1378.6 L1383.0 1372.6 L1382.0 1363.8 L1381.0 1358.2 L1380.0 1354.1 L1379.0 1347.1 L1378.0 1347.8 L1377.0 1335.7 L1376.0 1330.5 L1375.0 1325.3 L1374.0 1323.7 L1373.0 1337.6 L1372.0 1308.7 L1371.0 1303.4 L1370.0 1302.3 L1369.0 1297.1 L1368.0 1291.5 L1367.0 1283.2 L1366.0 1280.9 L1365.0 1291.6 L1364.0 1266.8 L1363.0 1257.0 L1362.0 1256.6 L1361.0 1247.0 L1360.0 1241.0 L1359.0 1232.5 L1358.0 1235.0 L1357.0 1212.0 L1356.0 1201.0 L1355.0 1193.9 L1354.0 1184.2 L1353.0 1173.2 L1350.3 1969.0 L1349.5 1969.0 L1348.5 1966.0 L1347.5 1949.2 L1346.5 1945.7 L1345.5 1969.0 L1344.5 1965.4 L1343.5 1957.5 L1342.5 1969.0 L1341.5 1940.3 L1340.5 1949.0Z" fill="#FF0000" stroke="#FF0000" stroke-width="1" stroke-linejoin="round"/><path d="M1340.5 1837.6 L1341.5 1899.9 L1342.5 1831.0 L1343.5 1895.3 L1344.5 1824.0 L1345.5 1858.2 L1346.5 1808.5 L1347.5 1819.4 L1348.5 1889.9 L1349.5 1836.4 L1350.5 1812.3 L1351.5 1969.0 L1352.3 1177.0 L1355.0 1175.5 L1356.0 1179.5 L1357.0 1184.7 L1358.0 1188.7 L1359.0 1196.4 L1360.0 1202.0 L1361.0 1206.5 L1362.0 1211.7 L1363.0 1207.7 L1364.0 1220.4 L1365.0 1227.0 L1366.0 1232.0 L1367.0 1233.6 L1368.0 1225.7 L1369.0 1244.0 L1370.0 1250.2 L1371.0 1249.9 L1372.0 1257.2 L1373.0 1265.4 L1374.0 1266.3 L1375.0 1277.0 L1376.0 1286.0 L1377.0 1286.5 L1378.0 1288.7 L1379.0 1295.0 L1380.0 1299.6 L1381.0 1309.8 L1382.0 1311.8 L1383.0 1314.4 L1384.0 1316.4 L1385.0 1320.2 L1386.0 1325.3 L1387.0 1331.0 L1388.0 1341.2 L1389.0 1349.7 L1390.0 1351.8 L1391.0 1357.7 L1392.0 1357.4 L1393.0 1357.4 L1394.0 1365.5 L1395.0 1361.7 L1396.0 1374.2 L1397.0 1371.6 L1398.0 1383.4 L1399.0 1378.8 L1400.0 1387.5 L1401.0 1383.6 L1402.0 1391.8 L1403.0 1394.6 L1404.0 1395.8 L1405.0 1389.9 L1406.0 1411.3 L1407.0 1401.4 L1408.0 1418.6 L1409.0 1409.6 L1410.0 1407.2 L1411.0 1417.1 L1412.0 1406.3 L1413.0 1422.1 L1414.0 1426.0 L1415.0 1430.0 L1416.0 1427.4 L1417.0 1432.4 L1418.0 1439.7 L1419.0 1429.9 L1420.0 1426.6 L1421.0 1439.1 L1422.0 1439.5 L1423.0 1446.8 L1424.0 1455.2 L1425.0 1453.5 L1426.0 1455.0 L1427.0 1449.7 L1428.0 1454.6 L1429.0 1456.2 L1430.0 1460.3 L1431.0 1410.5 L1432.0 1467.1 L1433.0 1449.3 L1434.0 1468.0 L1435.0 1456.7 L1436.0 1472.2 L1437.0 1484.0 L1438.0 1463.1 L1439.0 1477.4 L1440.0 1479.3 L1441.0 1469.8 L1442.0 1488.3 L1443.0 1486.1 L1444.0 1487.6 L1445.0 1498.1 L1446.0 1499.6 L1447.0 1497.3 L1448.0 1502.9 L1449.0 1502.5 L1450.0 1502.8 L1451.0 1510.6 L1452.0 1502.6 L1453.0 1521.4 L1454.0 1508.2 L1455.0 1523.7 L1456.0 1524.9 L1457.0 1524.2 L1458.0 1496.6 L1459.0 1541.4 L1460.0 1521.8 L1461.0 1540.3 L1462.0 1495.7 L1463.0 1526.0 L1464.0 1531.3 L1465.0 1541.6 L1466.0 1551.8 L1467.0 1544.5 L1468.0 1565.8 L1469.0 1546.8 L1470.0 1555.0 L1471.0 1560.3 L1472.0 1559.6 L1473.0 1564.4 L1474.0 1560.8 L1475.0 1564.4 L1476.0 1567.9 L1477.0 1567.2 L1478.0 1574.7 L1479.0 1544.4 L1480.0 1557.4 L1481.0 1563.9 L1482.0 1563.0 L1483.0 1574.5 L1484.0 1575.1 L1485.0 1577.7 L1486.0 1572.4 L1487.0 1573.1 L1488.0 1587.5 L1489.0 1580.6 L1490.0 1579.6 L1491.0 1585.2 L1492.0 1551.9 L1493.0 1583.4 L1494.0 1578.2 L1495.0 1590.8 L1496.0 1594.1 L1497.0 1587.5 L1498.0 1582.5 L1499.0 1593.4 L1500.0 1590.7 L1501.0 1574.2 L1502.0 1591.1 L1503.0 1600.9 L1504.0 1607.0 L1505.0 1603.2 L1506.0 1611.4 L1507.0 1593.6 L1508.0 1584.7 L1509.0 1587.5 L1510.0 1601.2 L1511.0 1594.6 L1512.0 1585.9 L1513.0 1601.5 L1514.0 1602.2 L1515.0 1605.1 L1516.0 1608.5 L1517.0 1600.3 L1518.0 1602.9 L1519.0 1614.6 L1520.0 1609.6 L1521.0 1601.8 L1522.0 1609.6 L1523.0 1622.1 L1524.0 1617.8 L1525.0 1620.8 L1526.0 1624.6 L1527.0 1619.1 L1528.0 1619.6 L1529.0 1605.3 L1530.0 1621.2 L1531.0 1619.2 L1532.0 1613.6 L1533.0 1627.3 L1534.0 1631.3 L1535.0 1613.5 L1536.0 1616.0 L1537.0 1626.1 L1538.0 1622.2 L1539.0 1624.7 L1540.0 1642.8 L1541.0 1636.8 L1542.0 1632.1 L1543.0 1630.9 L1544.0 1627.6 L1545.0 1629.8 L1546.0 1629.7 L1547.0 1625.3 L1548.0 1637.7 L1549.0 1640.4 L1550.0 1634.9 L1551.0 1640.1 L1552.0 1622.7 L1553.0 1651.9 L1554.0 1639.3 L1555.0 1634.3 L1556.0 1636.7 L1557.0 1646.3 L1558.0 1642.8 L1559.0 1632.7 L1560.0 1624.2 L1561.0 1656.4 L1562.0 1643.4 L1563.0 1647.2 L1564.0 1664.2 L1565.0 1652.8 L1566.0 1652.1 L1567.0 1663.8 L1568.0 1656.5 L1569.0 1650.3 L1570.0 1648.7 L1571.0 1662.6 L1572.0 1643.0 L1573.0 1662.9 L1574.0 1652.9 L1575.0 1649.2 L1576.0 1653.1 L1577.0 1663.2 L1578.0 1678.7 L1579.0 1657.4 L1580.0 1664.2 L1581.0 1651.4 L1582.0 1657.3 L1583.0 1663.7 L1584.0 1666.2 L1585.0 1663.4 L1586.0 1667.7 L1587.0 1656.9 L1588.0 1675.3 L1589.0 1656.8 L1590.0 1651.5 L1591.0 1641.4 L1592.0 1656.8 L1593.0 1659.2 L1594.0 1623.4 L1595.0 1673.8 L1596.0 1652.7 L1597.0 1672.5 L1598.0 1667.2 L1599.0 1660.7 L1600.0 1675.4 L1601.0 1663.6 L1602.0 1666.3 L1603.0 1673.5 L1604.0 1670.2 L1605.0 1675.7 L1606.0 1675.3 L1607.0 1665.6 L1608.0 1646.3 L1609.0 1667.7 L1610.0 1657.5 L1611.0 1689.1 L1612.0 1665.1 L1613.0 1678.0 L1614.0 1673.3 L1615.0 1693.2 L1616.0 1685.5 L1617.0 1672.0 L1618.0 1676.8 L1619.0 1680.7 L1620.0 1677.4 L1621.0 1682.6 L1622.0 1665.6 L1623.0 1681.5 L1624.0 1675.0 L1625.0 1688.0 L1626.0 1681.0 L1627.0 1682.5 L1628.0 1675.7 L1629.0 1679.4 L1630.0 1676.5 L1631.0 1673.2 L1632.0 1657.9 L1633.0 1679.2 L1634.0 1670.0 L1635.0 1675.5 L1636.0 1688.9 L1637.0 1683.0 L1638.0 1678.6 L1639.0 1692.3 L1640.0 1698.5 L1641.0 1653.8 L1642.0 1689.0 L1643.0 1683.3 L1644.0 1688.7 L1645.0 1683.7 L1646.0 1687.6 L1647.0 1660.6 L1648.0 1683.0 L1649.0 1689.0 L1650.0 1684.4 L1651.0 1674.4 L1652.0 1695.2 L1653.0 1683.0 L1654.0 1678.4 L1655.0 1697.2 L1656.0 1681.4 L1657.0 1689.1 L1658.0 1685.4 L1659.0 1687.7 L1660.0 1695.5 L1661.0 1688.1 L1662.0 1695.0 L1663.0 1677.5 L1664.0 1681.8 L1665.0 1681.0 L1666.0 1685.1 L1667.0 1695.4 L1668.0 1682.1 L1669.0 1696.9 L1670.0 1687.5 L1671.0 1687.7 L1672.0 1692.6 L1673.0 1710.8 L1674.0 1689.0 L1675.0 1595.6 L1676.0 1684.0 L1677.0 1688.6 L1678.0 1682.5 L1679.0 1702.7 L1680.0 1704.2 L1681.0 1699.3 L1682.0 1680.0 L1683.0 1697.0 L1684.0 1692.6 L1685.0 1697.8 L1686.0 1693.0 L1687.0 1698.8 L1688.0 1685.1 L1689.0 1649.4 L1690.0 1704.2 L1691.0 1710.9 L1692.0 1688.8 L1693.0 1701.7 L1694.0 1702.9 L1695.0 1713.4 L1696.0 1710.4 L1697.0 1705.9 L1698.0 1707.8 L1699.0 1704.4 L1700.0 1701.9 L1701.0 1710.2 L1702.0 1705.2 L1703.0 1709.5 L1704.0 1716.6 L1705.0 1716.2 L1706.0 1703.7 L1707.0 1684.2 L1708.0 1709.5 L1709.0 1702.5 L1710.0 1700.3 L1711.0 1701.5 L1712.0 1705.2 L1713.0 1697.8 L1714.0 1689.5 L1715.0 1701.6 L1716.0 1717.8 L1717.0 1700.7 L1718.0 1697.8 L1719.0 1713.7 L1720.0 1716.7 L1721.0 1695.4 L1722.0 1714.2 L1723.0 1700.7 L1724.0 1701.1 L1725.0 1703.5 L1726.0 1712.9 L1727.0 1709.7 L1728.0 1717.7 L1729.0 1704.7 L1730.0 1697.8 L1731.0 1696.9 L1732.0 1709.7 L1733.0 1706.3 L1734.0 1718.8 L1735.0 1699.8 L1736.0 1712.1 L1737.0 1717.5 L1738.0 1716.8 L1739.0 1724.6 L1740.0 1730.6 L1741.0 1683.4 L1742.0 1719.8 L1743.0 1699.3 L1744.0 1723.7 L1745.0 1693.6 L1746.0 1722.4 L1747.0 1706.5 L1748.0 1719.1 L1749.0 1715.6 L1750.0 1722.0 L1751.0 1715.6 L1752.0 1710.3 L1753.0 1718.9 L1754.0 1713.4 L1755.0 1718.0 L1756.0 1724.6 L1757.0 1720.9 L1758.0 1714.3 L1759.0 1731.2 L1760.0 1724.4 L1761.0 1720.3 L1762.0 1678.1 L1763.0 1720.3 L1764.0 1710.1 L1765.0 1720.0 L1766.0 1721.0 L1767.0 1721.0 L1768.0 1716.6 L1769.0 1739.2 L1770.0 1699.7 L1771.0 1707.5 L1772.0 1732.3 L1773.0 1712.7 L1774.0 1715.7 L1775.0 1733.3 L1776.0 1728.5 L1777.0 1709.5 L1778.0 1721.4 L1779.0 1718.5 L1780.0 1729.5 L1781.0 1729.0 L1782.0 1727.7 L1783.0 1715.4 L1784.0 1723.1 L1785.0 1729.3 L1786.0 1735.0 L1787.0 1725.3 L1788.0 1672.0 L1789.0 1718.8 L1790.0 1713.8 L1791.0 1724.3 L1792.0 1729.5 L1793.0 1683.0 L1794.0 1730.3 L1795.0 1721.4 L1796.0 1726.2 L1797.0 1729.9 L1798.0 1732.8 L1799.0 1725.9 L1800.0 1740.2 L1801.0 1729.1 L1802.0 1734.4 L1803.0 1728.2 L1804.0 1735.5 L1805.0 1723.3 L1806.0 1722.0 L1807.0 1742.3 L1808.0 1735.0 L1809.0 1721.3 L1810.0 1730.6 L1811.0 1725.9 L1812.0 1739.0 L1813.0 1729.4 L1814.0 1720.0 L1815.0 1726.6 L1816.0 1726.0 L1817.0 1738.9 L1818.0 1712.4 L1819.0 1736.4 L1820.0 1743.0 L1821.0 1586.5 L1822.0 1752.3 L1823.0 1734.6 L1824.0 1735.2 L1825.0 1724.5 L1826.0 1741.4 L1827.0 1746.2 L1828.0 1737.6 L1829.0 1747.3 L1830.0 1720.9 L1831.0 1731.6 L1832.0 1739.9 L1833.0 1746.5 L1834.0 1736.2 L1835.0 1740.5 L1836.0 1748.3 L1837.0 1739.7 L1838.0 1749.2 L1839.0 1744.3 L1840.0 1744.8 L1841.0 1754.4 L1842.0 1734.9 L1843.0 1728.1 L1844.0 1747.0 L1845.0 1729.9 L1846.0 1701.9 L1847.0 1733.5 L1848.0 1738.6 L1849.0 1744.7 L1850.0 1741.7 L1851.0 1726.7 L1852.0 1740.4 L1853.0 1725.5 L1854.0 1744.0 L1855.0 1751.4 L1856.0 1746.7 L1857.0 1732.5 L1858.0 1743.7 L1859.0 1740.4 L1860.0 1736.4 L1861.0 1735.9 L1862.0 1750.8 L1863.0 1734.4 L1864.0 1745.2 L1865.0 1744.3 L1866.0 1739.0 L1867.0 1739.1 L1868.0 1743.2 L1869.0 1742.9 L1870.0 1740.1 L1871.0 1740.3 L1872.0 1736.3 L1873.0 1740.3 L1874.0 1750.9 L1875.0 1744.2 L1876.0 1739.2 L1877.0 1745.9 L1878.0 1738.0 L1879.0 1751.7 L1880.0 1738.2 L1881.0 1758.6 L1882.0 1750.1 L1883.0 1734.7 L1884.0 1737.5 L1885.0 1742.2 L1886.0 1751.1 L1887.0 1750.4 L1888.0 1743.8 L1889.0 1742.6 L1890.0 1752.8 L1891.0 1747.7 L1892.0 1734.0 L1893.0 1752.4 L1894.0 1734.1 L1895.0 1749.1 L1896.0 1744.0 L1897.0 1751.9 L1898.0 1752.1 L1899.0 1746.3 L1900.0 1742.7 L1901.0 1748.3 L1902.0 1754.2 L1903.0 1763.7 L1904.0 1757.7 L1905.0 1746.7 L1906.0 1734.7 L1907.0 1740.2 L1908.0 1741.3 L1909.0 1747.9 L1910.0 1749.1 L1911.0 1764.3 L1912.0 1733.0 L1913.0 1750.0 L1914.0 1742.6 L1915.0 1754.2 L1916.0 1755.0 L1917.0 1751.0 L1918.0 1744.8 L1919.0 1758.6 L1920.0 1755.2 L1921.0 1734.5 L1922.0 1739.2 L1923.0 1744.9 L1924.0 1753.6 L1925.0 1741.8 L1926.0 1762.8 L1927.0 1738.7 L1928.0 1754.4 L1929.0 1746.9 L1930.0 1746.2 L1931.0 1749.7 L1932.0 1761.8 L1933.0 1753.9 L1934.0 1749.4 L1935.0 1755.1 L1936.0 1746.8 L1937.0 1736.9 L1938.0 1750.7 L1939.0 1751.1 L1940.0 1746.2 L1941.0 1759.4 L1942.0 1748.8 L1943.0 1748.6 L1944.0 1763.6 L1945.0 1746.5 L1946.0 1721.4 L1947.0 1739.8 L1948.0 1755.6 L1949.0 1745.3 L1950.0 1748.1 L1951.0 1739.6 L1952.0 1765.7 L1953.0 1739.9 L1954.0 1764.5 L1955.0 1753.0 L1956.0 1753.9 L1957.0 1754.9 L1958.0 1742.6 L1959.0 1740.4 L1960.0 1744.8 L1961.0 1755.6 L1962.0 1749.7 L1963.0 1761.1 L1964.0 1764.8 L1965.0 1741.7 L1966.0 1751.2 L1967.0 1763.0 L1968.0 1697.5 L1969.0 1740.8 L1970.0 1743.8 L1971.0 1754.3 L1972.0 1754.9 L1973.0 1758.1 L1974.0 1750.4 L1975.0 1754.1 L1976.0 1758.4 L1977.0 1742.7 L1978.0 1748.8 L1979.0 1739.2 L1980.0 1755.3 L1981.0 1759.3 L1982.0 1753.6 L1983.0 1675.3 L1984.0 1755.8 L1985.0 1761.6 L1986.0 1747.2 L1987.0 1752.4 L1988.0 1761.2 L1989.0 1749.5 L1990.0 1750.4 L1991.0 1751.5 L1992.0 1737.7 L1993.0 1754.9 L1994.0 1767.1 L1995.0 1760.4 L1996.0 1753.9 L1997.0 1757.6 L1998.0 1735.6 L1999.0 1743.9 L2000.0 1745.7 L2001.0 1749.3 L2002.0 1749.4 L2003.0 1757.7 L2004.0 1771.7 L2005.0 1744.4 L2006.0 1763.9 L2007.0 1753.8 L2008.0 1755.4 L2009.0 1762.6 L2010.0 1690.8 L2011.0 1767.8 L2012.0 1758.6 L2013.0 1746.0 L2014.0 1742.7 L2015.0 1736.7 L2016.0 1752.6 L2017.0 1758.8 L2018.0 1758.5 L2019.0 1749.2 L2020.0 1763.4 L2021.0 1764.6 L2022.0 1765.7 L2023.0 1751.4 L2024.0 1745.3 L2025.0 1740.7 L2026.0 1752.8 L2027.0 1757.9 L2028.0 1762.2 L2029.0 1750.1 L2030.0 1762.5 L2031.0 1753.1 L2032.0 1765.7 L2033.0 1766.9 L2034.0 1750.1 L2035.0 1725.8 L2036.0 1766.5 L2037.0 1770.9 L2038.0 1756.5 L2039.0 1762.4 L2040.0 1751.7 L2041.0 1760.6 L2042.0 1752.2 L2043.0 1706.7 L2044.0 1777.5 L2045.0 1739.9 L2046.0 1766.2 L2047.0 1742.7 L2048.0 1752.0 L2049.0 1726.4 L2050.0 1744.7 L2051.0 1759.8 L2052.0 1753.9 L2053.0 1736.2 L2054.0 1751.4 L2055.0 1766.6 L2056.0 1766.4 L2057.0 1754.1 L2058.0 1768.9 L2059.0 1768.2 L2060.0 1746.2 L2061.0 1766.0 L2062.0 1758.6 L2063.0 1722.8 L2064.0 1763.0 L2065.0 1751.0 L2066.0 1754.4 L2067.0 1755.3 L2068.0 1755.4 L2069.0 1749.0 L2070.0 1751.1 L2071.0 1757.2 L2072.0 1754.2 L2073.0 1738.9 L2074.0 1766.4 L2075.0 1756.5 L2076.0 1709.1 L2077.0 1763.9 L2078.0 1760.9 L2079.0 1758.1 L2080.0 1747.5 L2081.0 1764.2 L2082.0 1765.2 L2083.0 1753.9 L2084.0 1755.5 L2085.0 1694.7 L2086.0 1755.8 L2087.0 1761.9 L2088.0 1747.4 L2089.0 1754.4 L2090.0 1752.0 L2091.0 1765.6 L2092.0 1777.2 L2093.0 1761.0 L2094.0 1770.1 L2095.0 1778.0 L2096.0 1760.8 L2097.0 1757.7 L2098.0 1770.9 L2099.0 1763.0 L2100.0 1763.4 L2101.0 1747.7 L2102.0 1753.2 L2103.0 1762.8 L2104.0 1768.6 L2105.0 1761.3 L2106.0 1719.4 L2107.0 1758.2 L2108.0 1769.3 L2109.0 1769.8 L2110.0 1766.1 L2111.0 1759.4 L2112.0 1746.3 L2113.0 1770.0 L2114.0 1752.6 L2115.0 1757.0 L2116.0 1749.4 L2117.0 1750.8 L2118.0 1760.1 L2119.0 1758.7 L2120.0 1758.1 L2121.0 1759.1 L2122.0 1763.4 L2123.0 1766.6 L2124.0 1775.1 L2125.0 1752.0 L2126.0 1759.1 L2127.0 1772.4 L2128.0 1754.7 L2129.0 1776.4 L2130.0 1770.7 L2131.0 1763.4 L2132.0 1700.6 L2133.0 1757.1 L2134.0 1760.4 L2135.0 1769.2 L2136.0 1761.6 L2137.0 1768.6 L2138.0 1720.7 L2139.0 1756.9 L2140.0 1762.4 L2141.0 1683.5 L2142.0 1776.1 L2143.0 1763.3 L2144.0 1771.4 L2145.0 1752.6 L2146.0 1771.9 L2147.0 1769.8 L2148.0 1758.5 L2149.0 1767.6 L2150.0 1775.3 L2151.0 1770.3 L2152.0 1752.0 L2153.0 1755.6 L2154.0 1750.0 L2155.0 1753.2 L2156.0 1758.4 L2157.0 1760.0 L2158.0 1761.3 L2159.0 1754.4 L2160.0 1759.0 L2161.0 1763.8 L2162.0 1764.3 L2163.0 1762.2 L2164.0 1776.4 L2165.0 1761.0 L2166.0 1755.7 L2167.0 1753.0 L2168.0 1746.8 L2169.0 1774.5 L2170.0 1751.1 L2171.0 1768.4 L2172.0 1770.9 L2173.0 1764.1 L2174.0 1746.5 L2175.0 1751.1 L2176.0 1765.4 L2177.0 1773.9 L2178.0 1757.4 L2179.0 1781.1 L2180.0 1760.4 L2181.0 1770.6 L2182.0 1766.6 L2183.0 1756.3 L2184.0 1763.8 L2185.0 1756.4 L2186.0 1761.5 L2187.0 1760.1 L2188.0 1762.5 L2189.0 1765.6 L2190.0 1764.9 L2191.0 1761.9 L2192.0 1756.6 L2193.0 1773.8 L2194.0 1778.4 L2195.0 1734.0 L2196.0 1769.0 L2197.0 1767.3 L2198.0 1766.1 L2199.0 1781.7 L2200.0 1748.9 L2201.0 1773.1 L2202.0 1753.6 L2203.0 1756.5 L2204.0 1766.7 L2205.0 1765.4 L2206.0 1765.3 L2207.0 1763.9 L2208.0 1767.1 L2209.0 1755.1 L2210.0 1759.6 L2211.0 1758.3 L2212.0 1752.5 L2213.0 1767.1 L2214.0 1776.2 L2215.0 1764.5 L2216.0 1756.2 L2217.0 1762.0 L2218.0 1764.4 L2219.0 1779.3 L2220.0 1754.5 L2221.0 1770.8 L2222.0 1775.4 L2223.0 1771.7 L2224.0 1748.8 L2225.0 1754.9 L2226.0 1769.6 L2227.0 1769.9 L2228.0 1769.2 L2229.0 1765.4 L2230.0 1775.3 L2231.0 1749.0 L2232.0 1743.9 L2233.0 1769.3 L2234.0 1773.9 L2235.0 1775.7 L2236.0 1777.9 L2237.0 1734.6 L2238.0 1764.9 L2239.0 1760.9 L2240.0 1769.0 L2241.0 1761.8 L2242.0 1761.3 L2243.0 1765.0 L2244.0 1761.0 L2245.0 1774.9 L2246.0 1766.7 L2247.0 1765.9 L2248.0 1769.6 L2249.0 1773.3 L2250.0 1778.9 L2251.0 1778.4 L2252.0 1757.3 L2253.0 1766.5 L2254.0 1764.9 L2255.0 1769.7 L2256.0 1772.5 L2257.0 1755.4 L2258.0 1758.7 L2259.0 1766.8 L2260.0 1784.6 L2261.0 1764.7 L2262.0 1774.2 L2262.0 1969.0 L2261.0 1969.0 L2260.0 1969.0 L2259.0 1969.0 L2258.0 1969.0 L2257.0 1969.0 L2256.0 1969.0 L2255.0 1969.0 L2254.0 1969.0 L2253.0 1969.0 L2252.0 1969.0 L2251.0 1969.0 L2250.0 1969.0 L2249.0 1969.0 L2248.0 1969.0 L2247.0 1969.0 L2246.0 1969.0 L2245.0 1969.0 L2244.0 1969.0 L2243.0 1969.0 L2242.0 1969.0 L2241.0 1969.0 L2240.0 1969.0 L2239.0 1969.0 L2238.0 1969.0 L2237.0 1969.0 L2236.0 1969.0 L2235.0 1969.0 L2234.0 1969.0 L2233.0 1969.0 L2232.0 1969.0 L2231.0 1969.0 L2230.0 1969.0 L2229.0 1969.0 L2228.0 1969.0 L2227.0 1969.0 L2226.0 1969.0 L2225.0 1969.0 L2224.0 1969.0 L2223.0 1969.0 L2222.0 1969.0 L2221.0 1969.0 L2220.0 1969.0 L2219.0 1969.0 L2218.0 1969.0 L2217.0 1969.0 L2216.0 1969.0 L2215.0 1969.0 L2214.0 1969.0 L2213.0 1969.0 L2212.0 1969.0 L2211.0 1969.0 L2210.0 1969.0 L2209.0 1969.0 L2208.0 1969.0 L2207.0 1969.0 L2206.0 1969.0 L2205.0 1969.0 L2204.0 1969.0 L2203.0 1969.0 L2202.0 1969.0 L2201.0 1969.0 L2200.0 1969.0 L2199.0 1969.0 L2198.0 1969.0 L2197.0 1969.0 L2196.0 1969.0 L2195.0 1969.0 L2194.0 1969.0 L2193.0 1969.0 L2192.0 1969.0 L2191.0 1969.0 L2190.0 1969.0 L2189.0 1969.0 L2188.0 1969.0 L2187.0 1969.0 L2186.0 1969.0 L2185.0 1969.0 L2184.0 1969.0 L2183.0 1969.0 L2182.0 1969.0 L2181.0 1969.0 L2180.0 1969.0 L2179.0 1969.0 L2178.0 1969.0 L2177.0 1969.0 L2176.0 1969.0 L2175.0 1969.0 L2174.0 1969.0 L2173.0 1969.0 L2172.0 1969.0 L2171.0 1969.0 L2170.0 1969.0 L2169.0 1969.0 L2168.0 1969.0 L2167.0 1969.0 L2166.0 1969.0 L2165.0 1969.0 L2164.0 1969.0 L2163.0 1969.0 L2162.0 1969.0 L2161.0 1969.0 L2160.0 1969.0 L2159.0 1969.0 L2158.0 1969.0 L2157.0 1969.0 L2156.0 1969.0 L2155.0 1969.0 L2154.0 1969.0 L2153.0 1969.0 L2152.0 1969.0 L2151.0 1969.0 L2150.0 1969.0 L2149.0 1969.0 L2148.0 1969.0 L2147.0 1969.0 L2146.0 1969.0 L2145.0 1969.0 L2144.0 1969.0 L2143.0 1969.0 L2142.0 1969.0 L2141.0 1969.0 L2140.0 1969.0 L2139.0 1969.0 L2138.0 1969.0 L2137.0 1969.0 L2136.0 1969.0 L2135.0 1969.0 L2134.0 1969.0 L2133.0 1969.0 L2132.0 1969.0 L2131.0 1969.0 L2130.0 1969.0 L2129.0 1969.0 L2128.0 1969.0 L2127.0 1969.0 L2126.0 1969.0 L2125.0 1969.0 L2124.0 1969.0 L2123.0 1969.0 L2122.0 1969.0 L2121.0 1969.0 L2120.0 1969.0 L2119.0 1969.0 L2118.0 1969.0 L2117.0 1969.0 L2116.0 1969.0 L2115.0 1969.0 L2114.0 1969.0 L2113.0 1969.0 L2112.0 1969.0 L2111.0 1969.0 L2110.0 1969.0 L2109.0 1969.0 L2108.0 1969.0 L2107.0 1969.0 L2106.0 1969.0 L2105.0 1969.0 L2104.0 1969.0 L2103.0 1969.0 L2102.0 1969.0 L2101.0 1969.0 L2100.0 1969.0 L2099.0 1969.0 L2098.0 1969.0 L2097.0 1969.0 L2096.0 1969.0 L2095.0 1969.0 L2094.0 1969.0 L2093.0 1969.0 L2092.0 1969.0 L2091.0 1969.0 L2090.0 1969.0 L2089.0 1969.0 L2088.0 1969.0 L2087.0 1969.0 L2086.0 1969.0 L2085.0 1969.0 L2084.0 1969.0 L2083.0 1969.0 L2082.0 1969.0 L2081.0 1969.0 L2080.0 1969.0 L2079.0 1969.0 L2078.0 1969.0 L2077.0 1969.0 L2076.0 1969.0 L2075.0 1969.0 L2074.0 1969.0 L2073.0 1969.0 L2072.0 1969.0 L2071.0 1969.0 L2070.0 1969.0 L2069.0 1969.0 L2068.0 1969.0 L2067.0 1969.0 L2066.0 1969.0 L2065.0 1969.0 L2064.0 1969.0 L2063.0 1969.0 L2062.0 1969.0 L2061.0 1969.0 L2060.0 1969.0 L2059.0 1969.0 L2058.0 1969.0 L2057.0 1969.0 L2056.0 1969.0 L2055.0 1969.0 L2054.0 1969.0 L2053.0 1969.0 L2052.0 1969.0 L2051.0 1969.0 L2050.0 1969.0 L2049.0 1969.0 L2048.0 1969.0 L2047.0 1969.0 L2046.0 1969.0 L2045.0 1969.0 L2044.0 1969.0 L2043.0 1969.0 L2042.0 1969.0 L2041.0 1969.0 L2040.0 1969.0 L2039.0 1969.0 L2038.0 1969.0 L2037.0 1969.0 L2036.0 1969.0 L2035.0 1969.0 L2034.0 1969.0 L2033.0 1969.0 L2032.0 1969.0 L2031.0 1969.0 L2030.0 1969.0 L2029.0 1969.0 L2028.0 1969.0 L2027.0 1969.0 L2026.0 1969.0 L2025.0 1969.0 L2024.0 1969.0 L2023.0 1969.0 L2022.0 1969.0 L2021.0 1969.0 L2020.0 1969.0 L2019.0 1969.0 L2018.0 1969.0 L2017.0 1969.0 L2016.0 1969.0 L2015.0 1969.0 L2014.0 1969.0 L2013.0 1969.0 L2012.0 1969.0 L2011.0 1969.0 L2010.0 1969.0 L2009.0 1969.0 L2008.0 1969.0 L2007.0 1969.0 L2006.0 1969.0 L2005.0 1969.0 L2004.0 1969.0 L2003.0 1969.0 L2002.0 1969.0 L2001.0 1969.0 L2000.0 1969.0 L1999.0 1969.0 L1998.0 1969.0 L1997.0 1969.0 L1996.0 1969.0 L1995.0 1969.0 L1994.0 1969.0 L1993.0 1969.0 L1992.0 1969.0 L1991.0 1969.0 L1990.0 1969.0 L1989.0 1969.0 L1988.0 1969.0 L1987.0 1969.0 L1986.0 1969.0 L1985.0 1969.0 L1984.0 1969.0 L1983.0 1969.0 L1982.0 1969.0 L1981.0 1969.0 L1980.0 1969.0 L1979.0 1969.0 L1978.0 1969.0 L1977.0 1969.0 L1976.0 1969.0 L1975.0 1969.0 L1974.0 1969.0 L1973.0 1969.0 L1972.0 1969.0 L1971.0 1969.0 L1970.0 1969.0 L1969.0 1969.0 L1968.0 1969.0 L1967.0 1969.0 L1966.0 1969.0 L1965.0 1969.0 L1964.0 1969.0 L1963.0 1969.0 L1962.0 1969.0 L1961.0 1969.0 L1960.0 1969.0 L1959.0 1969.0 L1958.0 1969.0 L1957.0 1969.0 L1956.0 1969.0 L1955.0 1969.0 L1954.0 1969.0 L1953.0 1969.0 L1952.0 1969.0 L1951.0 1969.0 L1950.0 1969.0 L1949.0 1969.0 L1948.0 1969.0 L1947.0 1969.0 L1946.0 1969.0 L1945.0 1969.0 L1944.0 1969.0 L1943.0 1969.0 L1942.0 1969.0 L1941.0 1969.0 L1940.0 1969.0 L1939.0 1969.0 L1938.0 1969.0 L1937.0 1969.0 L1936.0 1969.0 L1935.0 1969.0 L1934.0 1969.0 L1933.0 1969.0 L1932.0 1969.0 L1931.0 1969.0 L1930.0 1969.0 L1929.0 1969.0 L1928.0 1969.0 L1927.0 1969.0 L1926.0 1969.0 L1925.0 1969.0 L1924.0 1969.0 L1923.0 1969.0 L1922.0 1969.0 L1921.0 1969.0 L1920.0 1969.0 L1919.0 1969.0 L1918.0 1969.0 L1917.0 1969.0 L1916.0 1969.0 L1915.0 1969.0 L1914.0 1969.0 L1913.0 1969.0 L1912.0 1969.0 L1911.0 1969.0 L1910.0 1969.0 L1909.0 1969.0 L1908.0 1969.0 L1907.0 1969.0 L1906.0 1969.0 L1905.0 1969.0 L1904.0 1969.0 L1903.0 1969.0 L1902.0 1969.0 L1901.0 1969.0 L1900.0 1969.0 L1899.0 1969.0 L1898.0 1969.0 L1897.0 1969.0 L1896.0 1969.0 L1895.0 1969.0 L1894.0 1969.0 L1893.0 1969.0 L1892.0 1969.0 L1891.0 1969.0 L1890.0 1969.0 L1889.0 1969.0 L1888.0 1969.0 L1887.0 1969.0 L1886.0 1969.0 L1885.0 1969.0 L1884.0 1969.0 L1883.0 1969.0 L1882.0 1969.0 L1881.0 1969.0 L1880.0 1969.0 L1879.0 1969.0 L1878.0 1969.0 L1877.0 1969.0 L1876.0 1969.0 L1875.0 1969.0 L1874.0 1969.0 L1873.0 1969.0 L1872.0 1969.0 L1871.0 1969.0 L1870.0 1969.0 L1869.0 1969.0 L1868.0 1969.0 L1867.0 1969.0 L1866.0 1969.0 L1865.0 1969.0 L1864.0 1969.0 L1863.0 1969.0 L1862.0 1969.0 L1861.0 1969.0 L1860.0 1969.0 L1859.0 1969.0 L1858.0 1969.0 L1857.0 1969.0 L1856.0 1969.0 L1855.0 1969.0 L1854.0 1969.0 L1853.0 1969.0 L1852.0 1969.0 L1851.0 1969.0 L1850.0 1969.0 L1849.0 1969.0 L1848.0 1969.0 L1847.0 1969.0 L1846.0 1969.0 L1845.0 1969.0 L1844.0 1969.0 L1843.0 1969.0 L1842.0 1969.0 L1841.0 1969.0 L1840.0 1969.0 L1839.0 1969.0 L1838.0 1969.0 L1837.0 1969.0 L1836.0 1969.0 L1835.0 1969.0 L1834.0 1969.0 L1833.0 1969.0 L1832.0 1969.0 L1831.0 1969.0 L1830.0 1969.0 L1829.0 1969.0 L1828.0 1969.0 L1827.0 1969.0 L1826.0 1969.0 L1825.0 1969.0 L1824.0 1969.0 L1823.0 1969.0 L1822.0 1969.0 L1821.0 1969.0 L1820.0 1969.0 L1819.0 1969.0 L1818.0 1969.0 L1817.0 1969.0 L1816.0 1969.0 L1815.0 1969.0 L1814.0 1969.0 L1813.0 1969.0 L1812.0 1969.0 L1811.0 1969.0 L1810.0 1969.0 L1809.0 1969.0 L1808.0 1969.0 L1807.0 1969.0 L1806.0 1969.0 L1805.0 1969.0 L1804.0 1969.0 L1803.0 1969.0 L1802.0 1969.0 L1801.0 1969.0 L1800.0 1969.0 L1799.0 1969.0 L1798.0 1969.0 L1797.0 1969.0 L1796.0 1969.0 L1795.0 1969.0 L1794.0 1969.0 L1793.0 1969.0 L1792.0 1969.0 L1791.0 1969.0 L1790.0 1969.0 L1789.0 1969.0 L1788.0 1969.0 L1787.0 1969.0 L1786.0 1969.0 L1785.0 1969.0 L1784.0 1969.0 L1783.0 1969.0 L1782.0 1969.0 L1781.0 1969.0 L1780.0 1969.0 L1779.0 1969.0 L1778.0 1969.0 L1777.0 1969.0 L1776.0 1969.0 L1775.0 1969.0 L1774.0 1969.0 L1773.0 1969.0 L1772.0 1969.0 L1771.0 1969.0 L1770.0 1969.0 L1769.0 1969.0 L1768.0 1969.0 L1767.0 1969.0 L1766.0 1969.0 L1765.0 1969.0 L1764.0 1969.0 L1763.0 1969.0 L1762.0 1969.0 L1761.0 1969.0 L1760.0 1969.0 L1759.0 1969.0 L1758.0 1969.0 L1757.0 1969.0 L1756.0 1969.0 L1755.0 1969.0 L1754.0 1969.0 L1753.0 1969.0 L1752.0 1969.0 L1751.0 1969.0 L1750.0 1969.0 L1749.0 1969.0 L1748.0 1969.0 L1747.0 1969.0 L1746.0 1969.0 L1745.0 1969.0 L1744.0 1969.0 L1743.0 1969.0 L1742.0 1969.0 L1741.0 1969.0 L1740.0 1969.0 L1739.0 1969.0 L1738.0 1969.0 L1737.0 1969.0 L1736.0 1969.0 L1735.0 1945.0 L1734.0 1969.0 L1733.0 1969.0 L1732.0 1969.0 L1731.0 1969.0 L1730.0 1969.0 L1729.0 1969.0 L1728.0 1955.1 L1727.0 1958.1 L1726.0 1969.0 L1725.0 1950.1 L1724.0 1969.0 L1723.0 1969.0 L1722.0 1969.0 L1721.0 1969.0 L1720.0 1969.0 L1719.0 1969.0 L1718.0 1947.8 L1717.0 1969.0 L1716.0 1939.8 L1715.0 1969.0 L1714.0 1969.0 L1713.0 1969.0 L1712.0 1969.0 L1711.0 1969.0 L1710.0 1969.0 L1709.0 1933.2 L1708.0 1969.0 L1707.0 1947.0 L1706.0 1969.0 L1705.0 1926.1 L1704.0 1932.4 L1703.0 1969.0 L1702.0 1969.0 L1701.0 1969.0 L1700.0 1969.0 L1699.0 1969.0 L1698.0 1969.0 L1697.0 1969.0 L1696.0 1969.0 L1695.0 1901.9 L1694.0 1914.2 L1693.0 1968.9 L1692.0 1890.6 L1691.0 1969.0 L1690.0 1895.0 L1689.0 1881.0 L1688.0 1891.8 L1687.0 1889.5 L1686.0 1872.0 L1685.0 1895.2 L1684.0 1893.3 L1683.0 1873.9 L1682.0 1872.0 L1681.0 1876.8 L1680.0 1884.9 L1679.0 1969.0 L1678.0 1969.0 L1677.0 1969.0 L1676.0 1869.0 L1675.0 1885.8 L1674.0 1879.8 L1673.0 1882.1 L1672.0 1879.4 L1671.0 1969.0 L1670.0 1969.0 L1669.0 1969.0 L1668.0 1870.2 L1667.0 1855.9 L1666.0 1901.7 L1665.0 1879.1 L1664.0 1873.7 L1663.0 1879.6 L1662.0 1856.6 L1661.0 1876.6 L1660.0 1869.1 L1659.0 1869.5 L1658.0 1969.0 L1657.0 1969.0 L1656.0 1901.9 L1655.0 1861.6 L1654.0 1858.0 L1653.0 1857.3 L1652.0 1876.9 L1651.0 1868.8 L1650.0 1969.0 L1649.0 1858.9 L1648.0 1874.5 L1647.0 1856.1 L1646.0 1859.6 L1645.0 1848.3 L1644.0 1861.8 L1643.0 1856.2 L1642.0 1843.3 L1641.0 1866.4 L1640.0 1873.7 L1639.0 1853.1 L1638.0 1859.5 L1637.0 1847.6 L1636.0 1847.5 L1635.0 1852.5 L1634.0 1969.0 L1633.0 1836.9 L1632.0 1867.2 L1631.0 1856.2 L1630.0 1859.5 L1629.0 1839.2 L1628.0 1852.0 L1627.0 1846.9 L1626.0 1856.4 L1625.0 1883.9 L1624.0 1839.5 L1623.0 1858.6 L1622.0 1850.6 L1621.0 1854.7 L1620.0 1849.0 L1619.0 1864.8 L1618.0 1969.0 L1617.0 1855.8 L1616.0 1847.9 L1615.0 1858.9 L1614.0 1852.8 L1613.0 1852.6 L1612.0 1835.7 L1611.0 1890.7 L1610.0 1856.1 L1609.0 1851.8 L1608.0 1856.7 L1607.0 1840.5 L1606.0 1838.9 L1605.0 1861.7 L1604.0 1862.0 L1603.0 1855.1 L1602.0 1855.0 L1601.0 1851.3 L1600.0 1851.8 L1599.0 1860.5 L1598.0 1842.0 L1597.0 1847.6 L1596.0 1854.6 L1595.0 1849.6 L1594.0 1841.9 L1593.0 1865.7 L1592.0 1840.9 L1591.0 1854.3 L1590.0 1859.6 L1589.0 1838.4 L1588.0 1833.5 L1587.0 1843.8 L1586.0 1855.4 L1585.0 1834.3 L1584.0 1834.9 L1583.0 1830.0 L1582.0 1818.2 L1581.0 1825.5 L1580.0 1845.5 L1579.0 1847.0 L1578.0 1826.2 L1577.0 1837.4 L1576.0 1828.5 L1575.0 1811.0 L1574.0 1829.4 L1573.0 1814.3 L1572.0 1824.5 L1571.0 1806.6 L1570.0 1820.1 L1569.0 1812.1 L1568.0 1796.8 L1567.0 1814.8 L1566.0 1814.2 L1565.0 1805.8 L1564.0 1807.6 L1563.0 1806.1 L1562.0 1809.1 L1561.0 1797.7 L1560.0 1803.3 L1559.0 1798.9 L1558.0 1839.0 L1557.0 1798.0 L1556.0 1788.3 L1555.0 1786.4 L1554.0 1785.6 L1553.0 1779.0 L1552.0 1773.5 L1551.0 1783.2 L1550.0 1770.7 L1549.0 1821.7 L1548.0 1771.4 L1547.0 1779.9 L1546.0 1766.3 L1545.0 1754.7 L1544.0 1770.4 L1543.0 1757.8 L1542.0 1765.7 L1541.0 1825.5 L1540.0 1735.4 L1539.0 1740.4 L1538.0 1750.9 L1537.0 1780.1 L1536.0 1728.1 L1535.0 1735.6 L1534.0 1730.6 L1533.0 1740.9 L1532.0 1726.9 L1531.0 1738.3 L1530.0 1746.3 L1529.0 1728.6 L1528.0 1725.5 L1527.0 1724.7 L1526.0 1728.7 L1525.0 1720.9 L1524.0 1724.1 L1523.0 1704.1 L1522.0 1711.6 L1521.0 1700.3 L1520.0 1706.2 L1519.0 1717.5 L1518.0 1707.8 L1517.0 1709.7 L1516.0 1699.5 L1515.0 1703.1 L1514.0 1706.5 L1513.0 1691.5 L1512.0 1698.0 L1511.0 1729.2 L1510.0 1698.3 L1509.0 1679.4 L1508.0 1689.1 L1507.0 1684.1 L1506.0 1681.1 L1505.0 1696.3 L1504.0 1689.8 L1503.0 1681.1 L1502.0 1679.0 L1501.0 1680.7 L1500.0 1690.1 L1499.0 1672.9 L1498.0 1671.2 L1497.0 1675.3 L1496.0 1657.5 L1495.0 1674.5 L1494.0 1663.6 L1493.0 1668.2 L1492.0 1666.6 L1491.0 1708.4 L1490.0 1658.1 L1489.0 1651.8 L1488.0 1652.9 L1487.0 1658.6 L1486.0 1650.8 L1485.0 1637.1 L1484.0 1642.2 L1483.0 1647.1 L1482.0 1628.5 L1481.0 1650.3 L1480.0 1637.8 L1479.0 1636.3 L1478.0 1638.9 L1477.0 1639.6 L1476.0 1634.2 L1475.0 1624.5 L1474.0 1621.8 L1473.0 1621.7 L1472.0 1624.2 L1471.0 1632.6 L1470.0 1620.5 L1469.0 1617.9 L1468.0 1621.0 L1467.0 1613.2 L1466.0 1608.8 L1465.0 1609.4 L1464.0 1611.7 L1463.0 1605.0 L1462.0 1619.2 L1461.0 1595.7 L1460.0 1592.4 L1459.0 1585.6 L1458.0 1585.8 L1457.0 1594.1 L1456.0 1578.1 L1455.0 1574.7 L1454.0 1578.1 L1453.0 1571.0 L1452.0 1568.2 L1451.0 1585.4 L1450.0 1575.7 L1449.0 1568.7 L1448.0 1552.6 L1447.0 1583.6 L1446.0 1542.2 L1445.0 1554.4 L1444.0 1571.0 L1443.0 1584.7 L1442.0 1544.4 L1441.0 1552.4 L1440.0 1539.4 L1439.0 1535.5 L1438.0 1537.0 L1437.0 1535.8 L1436.0 1532.5 L1435.0 1514.9 L1434.0 1533.4 L1433.0 1518.9 L1432.0 1520.7 L1431.0 1522.9 L1430.0 1534.0 L1429.0 1511.4 L1428.0 1517.4 L1427.0 1508.1 L1426.0 1493.1 L1425.0 1492.7 L1424.0 1495.8 L1423.0 1497.5 L1422.0 1493.4 L1421.0 1488.1 L1420.0 1484.4 L1419.0 1481.7 L1418.0 1479.4 L1417.0 1476.7 L1416.0 1476.7 L1415.0 1466.8 L1414.0 1468.9 L1413.0 1461.5 L1412.0 1458.1 L1411.0 1470.8 L1410.0 1455.5 L1409.0 1451.6 L1408.0 1448.2 L1407.0 1449.1 L1406.0 1443.3 L1405.0 1445.0 L1404.0 1436.4 L1403.0 1424.8 L1402.0 1429.3 L1401.0 1431.9 L1400.0 1424.4 L1399.0 1426.9 L1398.0 1410.0 L1397.0 1413.6 L1396.0 1411.6 L1395.0 1404.0 L1394.0 1402.9 L1393.0 1397.4 L1392.0 1392.5 L1391.0 1400.3 L1390.0 1380.7 L1389.0 1386.7 L1388.0 1374.9 L1387.0 1369.6 L1386.0 1363.6 L1385.0 1363.2 L1384.0 1358.7 L1383.0 1364.0 L1382.0 1341.8 L1381.0 1339.5 L1380.0 1333.3 L1379.0 1328.5 L1378.0 1326.5 L1377.0 1316.6 L1376.0 1311.8 L1375.0 1304.7 L1374.0 1299.6 L1373.0 1294.0 L1372.0 1286.1 L1371.0 1287.0 L1370.0 1277.1 L1369.0 1272.7 L1368.0 1265.5 L1367.0 1260.5 L1366.0 1259.7 L1365.0 1249.5 L1364.0 1244.0 L1363.0 1235.9 L1362.0 1229.9 L1361.0 1230.5 L1360.0 1218.7 L1359.0 1212.5 L1358.0 1200.1 L1357.0 1194.8 L1356.0 1187.7 L1355.0 1180.8 L1352.3 1969.0 L1351.5 1969.0 L1350.5 1927.9 L1349.5 1943.0 L1348.5 1969.0 L1347.5 1911.5 L1346.5 1890.4 L1345.5 1969.0 L1344.5 1969.0 L1343.5 1969.0 L1342.5 1927.0 L1341.5 1969.0 L1340.5 1969.0Z" fill="#00C628" stroke="#00C628" stroke-width="1" stroke-linejoin="round"/><path d="M1340.5 1711.3 L1341.5 1730.0 L1342.5 1720.6 L1343.5 1723.2 L1344.5 1726.7 L1345.5 1728.5 L1346.5 1717.8 L1347.5 1733.4 L1348.5 1734.4 L1349.5 1741.6 L1350.5 1689.9 L1351.5 1689.1 L1352.5 1694.6 L1353.5 1969.0 L1354.3 1170.0 L1355.0 1166.6 L1356.0 1174.8 L1357.0 1181.7 L1358.0 1187.3 L1359.0 1194.8 L1360.0 1201.2 L1361.0 1204.1 L1362.0 1211.4 L1363.0 1215.2 L1364.0 1219.6 L1365.0 1220.9 L1366.0 1220.4 L1367.0 1227.4 L1368.0 1227.3 L1369.0 1230.3 L1370.0 1234.7 L1371.0 1231.6 L1372.0 1240.7 L1373.0 1237.7 L1374.0 1242.6 L1375.0 1246.6 L1376.0 1244.7 L1377.0 1252.4 L1378.0 1246.4 L1379.0 1255.1 L1380.0 1260.1 L1381.0 1258.2 L1382.0 1263.2 L1383.0 1260.0 L1384.0 1267.7 L1385.0 1271.9 L1386.0 1275.0 L1387.0 1271.2 L1388.0 1281.2 L1389.0 1274.0 L1390.0 1275.0 L1391.0 1280.7 L1392.0 1284.6 L1393.0 1284.1 L1394.0 1288.1 L1395.0 1291.1 L1396.0 1293.6 L1397.0 1293.2 L1398.0 1298.0 L1399.0 1296.7 L1400.0 1300.6 L1401.0 1302.3 L1402.0 1305.6 L1403.0 1308.9 L1404.0 1310.0 L1405.0 1313.5 L1406.0 1313.6 L1407.0 1313.7 L1408.0 1318.2 L1409.0 1322.9 L1410.0 1319.6 L1411.0 1322.6 L1412.0 1330.4 L1413.0 1331.2 L1414.0 1330.6 L1415.0 1328.5 L1416.0 1334.1 L1417.0 1335.7 L1418.0 1336.2 L1419.0 1338.2 L1420.0 1342.1 L1421.0 1349.9 L1422.0 1348.7 L1423.0 1351.9 L1424.0 1356.0 L1425.0 1289.8 L1426.0 1355.8 L1427.0 1355.6 L1428.0 1355.5 L1429.0 1360.3 L1430.0 1358.5 L1431.0 1363.1 L1432.0 1353.5 L1433.0 1344.7 L1434.0 1363.1 L1435.0 1370.4 L1436.0 1366.8 L1437.0 1375.2 L1438.0 1360.0 L1439.0 1379.7 L1440.0 1375.8 L1441.0 1378.9 L1442.0 1379.0 L1443.0 1379.3 L1444.0 1387.8 L1445.0 1383.8 L1446.0 1389.1 L1447.0 1387.6 L1448.0 1384.6 L1449.0 1389.7 L1450.0 1392.4 L1451.0 1395.8 L1452.0 1391.5 L1453.0 1402.8 L1454.0 1388.4 L1455.0 1400.1 L1456.0 1399.1 L1457.0 1390.7 L1458.0 1397.6 L1459.0 1399.5 L1460.0 1407.3 L1461.0 1399.2 L1462.0 1402.4 L1463.0 1393.3 L1464.0 1408.0 L1465.0 1409.8 L1466.0 1404.7 L1467.0 1400.5 L1468.0 1403.1 L1469.0 1401.7 L1470.0 1398.1 L1471.0 1406.8 L1472.0 1415.2 L1473.0 1404.9 L1474.0 1402.9 L1475.0 1409.2 L1476.0 1413.0 L1477.0 1414.6 L1478.0 1418.1 L1479.0 1418.0 L1480.0 1421.1 L1481.0 1425.4 L1482.0 1423.0 L1483.0 1422.1 L1484.0 1424.5 L1485.0 1423.9 L1486.0 1425.3 L1487.0 1420.3 L1488.0 1432.9 L1489.0 1426.4 L1490.0 1419.2 L1491.0 1431.1 L1492.0 1433.8 L1493.0 1434.3 L1494.0 1441.3 L1495.0 1426.8 L1496.0 1432.8 L1497.0 1439.5 L1498.0 1443.9 L1499.0 1438.5 L1500.0 1440.2 L1501.0 1434.0 L1502.0 1438.8 L1503.0 1448.7 L1504.0 1440.7 L1505.0 1446.0 L1506.0 1441.5 L1507.0 1441.4 L1508.0 1443.3 L1509.0 1445.0 L1510.0 1442.1 L1511.0 1424.3 L1512.0 1427.0 L1513.0 1437.3 L1514.0 1450.0 L1515.0 1451.1 L1516.0 1450.7 L1517.0 1452.3 L1518.0 1452.3 L1519.0 1447.0 L1520.0 1453.1 L1521.0 1459.5 L1522.0 1448.0 L1523.0 1452.3 L1524.0 1465.0 L1525.0 1462.3 L1526.0 1463.3 L1527.0 1463.9 L1528.0 1458.9 L1529.0 1465.4 L1530.0 1463.1 L1531.0 1465.6 L1532.0 1462.8 L1533.0 1467.2 L1534.0 1465.7 L1535.0 1470.4 L1536.0 1462.7 L1537.0 1459.9 L1538.0 1469.7 L1539.0 1469.9 L1540.0 1475.2 L1541.0 1476.3 L1542.0 1475.6 L1543.0 1470.0 L1544.0 1468.6 L1545.0 1472.5 L1546.0 1480.6 L1547.0 1483.2 L1548.0 1484.5 L1549.0 1473.3 L1550.0 1475.3 L1551.0 1480.9 L1552.0 1479.9 L1553.0 1480.0 L1554.0 1473.3 L1555.0 1484.8 L1556.0 1476.0 L1557.0 1493.5 L1558.0 1486.8 L1559.0 1483.3 L1560.0 1484.2 L1561.0 1497.8 L1562.0 1494.6 L1563.0 1493.4 L1564.0 1493.1 L1565.0 1495.0 L1566.0 1494.2 L1567.0 1496.6 L1568.0 1478.1 L1569.0 1493.3 L1570.0 1490.4 L1571.0 1491.8 L1572.0 1489.3 L1573.0 1499.7 L1574.0 1505.2 L1575.0 1498.2 L1576.0 1503.7 L1577.0 1496.3 L1578.0 1502.9 L1579.0 1499.1 L1580.0 1499.8 L1581.0 1504.7 L1582.0 1506.6 L1583.0 1517.6 L1584.0 1506.8 L1585.0 1509.1 L1586.0 1504.6 L1587.0 1503.1 L1588.0 1512.4 L1589.0 1509.5 L1590.0 1507.5 L1591.0 1502.9 L1592.0 1510.3 L1593.0 1513.5 L1594.0 1501.3 L1595.0 1508.9 L1596.0 1505.2 L1597.0 1509.6 L1598.0 1510.5 L1599.0 1513.9 L1600.0 1518.5 L1601.0 1516.0 L1602.0 1515.8 L1603.0 1515.0 L1604.0 1521.6 L1605.0 1511.0 L1606.0 1506.7 L1607.0 1525.1 L1608.0 1525.6 L1609.0 1514.7 L1610.0 1527.5 L1611.0 1516.7 L1612.0 1514.9 L1613.0 1509.4 L1614.0 1518.8 L1615.0 1511.1 L1616.0 1514.7 L1617.0 1518.6 L1618.0 1517.1 L1619.0 1520.6 L1620.0 1523.1 L1621.0 1519.7 L1622.0 1512.7 L1623.0 1520.5 L1624.0 1521.6 L1625.0 1541.3 L1626.0 1516.3 L1627.0 1525.3 L1628.0 1538.0 L1629.0 1524.5 L1630.0 1532.7 L1631.0 1526.2 L1632.0 1534.1 L1633.0 1537.3 L1634.0 1534.2 L1635.0 1537.4 L1636.0 1532.9 L1637.0 1531.8 L1638.0 1535.3 L1639.0 1527.6 L1640.0 1527.7 L1641.0 1539.0 L1642.0 1524.0 L1643.0 1541.3 L1644.0 1540.1 L1645.0 1486.2 L1646.0 1529.3 L1647.0 1499.7 L1648.0 1534.0 L1649.0 1531.8 L1650.0 1539.8 L1651.0 1522.2 L1652.0 1540.9 L1653.0 1549.0 L1654.0 1533.9 L1655.0 1533.6 L1656.0 1552.1 L1657.0 1534.7 L1658.0 1548.4 L1659.0 1534.6 L1660.0 1528.7 L1661.0 1533.8 L1662.0 1509.7 L1663.0 1548.5 L1664.0 1548.1 L1665.0 1553.3 L1666.0 1542.9 L1667.0 1551.1 L1668.0 1542.9 L1669.0 1565.9 L1670.0 1554.5 L1671.0 1550.3 L1672.0 1549.1 L1673.0 1556.4 L1674.0 1561.8 L1675.0 1506.5 L1676.0 1562.1 L1677.0 1550.8 L1678.0 1547.6 L1679.0 1557.7 L1680.0 1549.6 L1681.0 1563.7 L1682.0 1553.7 L1683.0 1551.5 L1684.0 1557.1 L1685.0 1556.9 L1686.0 1556.3 L1687.0 1525.8 L1688.0 1552.3 L1689.0 1558.0 L1690.0 1553.2 L1691.0 1553.3 L1692.0 1571.5 L1693.0 1570.1 L1694.0 1567.8 L1695.0 1562.1 L1696.0 1543.9 L1697.0 1568.4 L1698.0 1567.0 L1699.0 1570.4 L1700.0 1574.4 L1701.0 1555.6 L1702.0 1577.2 L1703.0 1575.2 L1704.0 1579.1 L1705.0 1552.5 L1706.0 1569.6 L1707.0 1568.6 L1708.0 1576.7 L1709.0 1573.4 L1710.0 1579.7 L1711.0 1566.3 L1712.0 1561.1 L1713.0 1586.4 L1714.0 1574.7 L1715.0 1560.9 L1716.0 1569.1 L1717.0 1568.1 L1718.0 1573.2 L1719.0 1578.3 L1720.0 1566.3 L1721.0 1578.3 L1722.0 1557.3 L1723.0 1579.2 L1724.0 1574.0 L1725.0 1583.2 L1726.0 1567.8 L1727.0 1576.6 L1728.0 1579.1 L1729.0 1575.8 L1730.0 1573.1 L1731.0 1589.0 L1732.0 1580.8 L1733.0 1590.1 L1734.0 1577.3 L1735.0 1564.3 L1736.0 1550.1 L1737.0 1573.3 L1738.0 1589.4 L1739.0 1576.1 L1740.0 1583.6 L1741.0 1586.3 L1742.0 1577.2 L1743.0 1577.4 L1744.0 1592.9 L1745.0 1597.7 L1746.0 1562.1 L1747.0 1555.1 L1748.0 1547.9 L1749.0 1582.7 L1750.0 1586.1 L1751.0 1591.9 L1752.0 1598.4 L1753.0 1592.2 L1754.0 1579.7 L1755.0 1595.8 L1756.0 1596.5 L1757.0 1582.9 L1758.0 1587.6 L1759.0 1593.9 L1760.0 1586.9 L1761.0 1591.4 L1762.0 1597.9 L1763.0 1578.2 L1764.0 1592.9 L1765.0 1595.1 L1766.0 1593.7 L1767.0 1597.6 L1768.0 1603.3 L1769.0 1589.6 L1770.0 1586.5 L1771.0 1604.3 L1772.0 1595.0 L1773.0 1598.6 L1774.0 1606.7 L1775.0 1598.0 L1776.0 1591.1 L1777.0 1599.1 L1778.0 1595.5 L1779.0 1590.8 L1780.0 1582.2 L1781.0 1597.8 L1782.0 1596.5 L1783.0 1602.5 L1784.0 1608.6 L1785.0 1600.9 L1786.0 1602.2 L1787.0 1588.3 L1788.0 1603.0 L1789.0 1604.9 L1790.0 1605.7 L1791.0 1606.2 L1792.0 1611.4 L1793.0 1587.8 L1794.0 1606.1 L1795.0 1593.0 L1796.0 1598.5 L1797.0 1607.0 L1798.0 1601.4 L1799.0 1589.5 L1800.0 1593.9 L1801.0 1595.4 L1802.0 1598.0 L1803.0 1601.8 L1804.0 1613.7 L1805.0 1610.1 L1806.0 1601.5 L1807.0 1622.8 L1808.0 1600.5 L1809.0 1609.8 L1810.0 1618.9 L1811.0 1604.8 L1812.0 1625.5 L1813.0 1608.3 L1814.0 1595.1 L1815.0 1622.6 L1816.0 1611.6 L1817.0 1584.7 L1818.0 1609.8 L1819.0 1615.1 L1820.0 1627.9 L1821.0 1601.1 L1822.0 1558.2 L1823.0 1613.4 L1824.0 1617.3 L1825.0 1595.2 L1826.0 1608.5 L1827.0 1611.1 L1828.0 1611.6 L1829.0 1608.3 L1830.0 1622.1 L1831.0 1622.2 L1832.0 1592.6 L1833.0 1626.8 L1834.0 1618.9 L1835.0 1585.1 L1836.0 1609.9 L1837.0 1603.4 L1838.0 1618.4 L1839.0 1622.6 L1840.0 1615.7 L1841.0 1619.6 L1842.0 1611.7 L1843.0 1619.7 L1844.0 1617.3 L1845.0 1607.1 L1846.0 1615.7 L1847.0 1607.9 L1848.0 1633.6 L1849.0 1622.3 L1850.0 1621.7 L1851.0 1630.1 L1852.0 1629.9 L1853.0 1615.4 L1854.0 1624.3 L1855.0 1612.8 L1856.0 1627.3 L1857.0 1572.6 L1858.0 1625.8 L1859.0 1626.5 L1860.0 1616.5 L1861.0 1624.8 L1862.0 1623.5 L1863.0 1620.4 L1864.0 1624.0 L1865.0 1625.1 L1866.0 1621.0 L1867.0 1620.9 L1868.0 1631.6 L1869.0 1633.5 L1870.0 1617.9 L1871.0 1630.8 L1872.0 1630.7 L1873.0 1632.6 L1874.0 1626.4 L1875.0 1629.4 L1876.0 1630.1 L1877.0 1643.6 L1878.0 1612.7 L1879.0 1648.9 L1880.0 1625.1 L1881.0 1625.0 L1882.0 1636.0 L1883.0 1630.5 L1884.0 1621.2 L1885.0 1639.2 L1886.0 1628.1 L1887.0 1607.5 L1888.0 1623.9 L1889.0 1631.7 L1890.0 1637.4 L1891.0 1632.3 L1892.0 1622.4 L1893.0 1641.2 L1894.0 1620.5 L1895.0 1638.5 L1896.0 1629.7 L1897.0 1639.9 L1898.0 1629.0 L1899.0 1622.9 L1900.0 1639.7 L1901.0 1626.3 L1902.0 1637.6 L1903.0 1634.0 L1904.0 1627.1 L1905.0 1631.7 L1906.0 1611.7 L1907.0 1638.2 L1908.0 1629.7 L1909.0 1631.1 L1910.0 1635.5 L1911.0 1646.2 L1912.0 1638.3 L1913.0 1643.9 L1914.0 1647.1 L1915.0 1639.1 L1916.0 1648.3 L1917.0 1638.5 L1918.0 1634.9 L1919.0 1644.7 L1920.0 1643.8 L1921.0 1655.6 L1922.0 1621.6 L1923.0 1642.1 L1924.0 1603.2 L1925.0 1636.5 L1926.0 1611.7 L1927.0 1644.5 L1928.0 1642.1 L1929.0 1637.5 L1930.0 1572.2 L1931.0 1643.2 L1932.0 1633.5 L1933.0 1653.2 L1934.0 1645.7 L1935.0 1637.4 L1936.0 1637.8 L1937.0 1652.5 L1938.0 1639.4 L1939.0 1655.9 L1940.0 1614.4 L1941.0 1634.7 L1942.0 1641.0 L1943.0 1637.4 L1944.0 1650.2 L1945.0 1659.2 L1946.0 1647.0 L1947.0 1636.9 L1948.0 1646.2 L1949.0 1653.8 L1950.0 1648.8 L1951.0 1651.0 L1952.0 1619.6 L1953.0 1643.2 L1954.0 1642.0 L1955.0 1651.7 L1956.0 1636.9 L1957.0 1638.6 L1958.0 1634.8 L1959.0 1653.0 L1960.0 1642.7 L1961.0 1647.5 L1962.0 1640.1 L1963.0 1652.9 L1964.0 1647.5 L1965.0 1660.6 L1966.0 1656.5 L1967.0 1650.1 L1968.0 1642.2 L1969.0 1653.4 L1970.0 1649.5 L1971.0 1659.2 L1972.0 1648.4 L1973.0 1635.9 L1974.0 1654.6 L1975.0 1642.4 L1976.0 1631.9 L1977.0 1652.4 L1978.0 1648.9 L1979.0 1656.4 L1980.0 1647.7 L1981.0 1646.0 L1982.0 1641.5 L1983.0 1647.7 L1984.0 1643.0 L1985.0 1656.3 L1986.0 1660.4 L1987.0 1647.4 L1988.0 1665.4 L1989.0 1651.3 L1990.0 1661.3 L1991.0 1630.7 L1992.0 1649.5 L1993.0 1639.1 L1994.0 1658.2 L1995.0 1649.8 L1996.0 1656.8 L1997.0 1656.8 L1998.0 1654.8 L1999.0 1645.7 L2000.0 1648.3 L2001.0 1642.7 L2002.0 1661.4 L2003.0 1664.9 L2004.0 1629.9 L2005.0 1657.8 L2006.0 1671.8 L2007.0 1658.2 L2008.0 1651.8 L2009.0 1651.8 L2010.0 1645.9 L2011.0 1655.9 L2012.0 1656.4 L2013.0 1651.9 L2014.0 1649.1 L2015.0 1657.4 L2016.0 1659.6 L2017.0 1658.3 L2018.0 1656.9 L2019.0 1658.4 L2020.0 1653.1 L2021.0 1585.4 L2022.0 1651.8 L2023.0 1658.1 L2024.0 1663.8 L2025.0 1662.4 L2026.0 1665.4 L2027.0 1665.3 L2028.0 1657.4 L2029.0 1640.5 L2030.0 1668.4 L2031.0 1655.4 L2032.0 1652.4 L2033.0 1666.3 L2034.0 1666.7 L2035.0 1674.7 L2036.0 1662.9 L2037.0 1671.2 L2038.0 1653.1 L2039.0 1656.1 L2040.0 1660.3 L2041.0 1671.5 L2042.0 1672.7 L2043.0 1670.1 L2044.0 1669.4 L2045.0 1669.8 L2046.0 1676.7 L2047.0 1670.8 L2048.0 1672.8 L2049.0 1669.7 L2050.0 1662.8 L2051.0 1660.9 L2052.0 1661.2 L2053.0 1660.0 L2054.0 1669.7 L2055.0 1669.7 L2056.0 1671.9 L2057.0 1669.4 L2058.0 1663.2 L2059.0 1680.8 L2060.0 1681.2 L2061.0 1669.6 L2062.0 1648.6 L2063.0 1658.5 L2064.0 1667.5 L2065.0 1661.4 L2066.0 1672.3 L2067.0 1660.9 L2068.0 1668.5 L2069.0 1664.1 L2070.0 1667.0 L2071.0 1666.2 L2072.0 1668.8 L2073.0 1675.6 L2074.0 1663.2 L2075.0 1664.6 L2076.0 1670.2 L2077.0 1671.5 L2078.0 1652.4 L2079.0 1663.7 L2080.0 1664.3 L2081.0 1660.4 L2082.0 1678.4 L2083.0 1670.6 L2084.0 1659.0 L2085.0 1664.5 L2086.0 1664.3 L2087.0 1672.5 L2088.0 1674.0 L2089.0 1683.7 L2090.0 1660.8 L2091.0 1666.6 L2092.0 1663.8 L2093.0 1658.9 L2094.0 1669.1 L2095.0 1663.7 L2096.0 1667.8 L2097.0 1661.6 L2098.0 1653.1 L2099.0 1661.2 L2100.0 1660.7 L2101.0 1661.1 L2102.0 1676.0 L2103.0 1671.8 L2104.0 1669.7 L2105.0 1672.4 L2106.0 1671.8 L2107.0 1673.3 L2108.0 1658.5 L2109.0 1670.1 L2110.0 1675.2 L2111.0 1669.7 L2112.0 1669.0 L2113.0 1681.6 L2114.0 1670.3 L2115.0 1671.7 L2116.0 1672.4 L2117.0 1662.7 L2118.0 1647.4 L2119.0 1663.7 L2120.0 1690.5 L2121.0 1657.0 L2122.0 1664.9 L2123.0 1679.8 L2124.0 1674.8 L2125.0 1686.0 L2126.0 1673.3 L2127.0 1671.5 L2128.0 1674.3 L2129.0 1678.5 L2130.0 1680.7 L2131.0 1667.4 L2132.0 1678.8 L2133.0 1672.1 L2134.0 1678.7 L2135.0 1652.1 L2136.0 1675.6 L2137.0 1669.9 L2138.0 1673.9 L2139.0 1675.4 L2140.0 1677.9 L2141.0 1681.9 L2142.0 1658.3 L2143.0 1671.7 L2144.0 1664.7 L2145.0 1679.9 L2146.0 1682.8 L2147.0 1671.0 L2148.0 1661.9 L2149.0 1659.9 L2150.0 1665.9 L2151.0 1679.8 L2152.0 1690.3 L2153.0 1694.3 L2154.0 1676.9 L2155.0 1682.5 L2156.0 1637.7 L2157.0 1683.5 L2158.0 1684.6 L2159.0 1680.9 L2160.0 1676.2 L2161.0 1665.3 L2162.0 1673.6 L2163.0 1675.4 L2164.0 1680.9 L2165.0 1673.7 L2166.0 1674.2 L2167.0 1687.8 L2168.0 1690.5 L2169.0 1683.0 L2170.0 1678.9 L2171.0 1669.9 L2172.0 1680.6 L2173.0 1692.8 L2174.0 1673.3 L2175.0 1692.7 L2176.0 1687.9 L2177.0 1685.3 L2178.0 1687.6 L2179.0 1683.8 L2180.0 1693.8 L2181.0 1685.6 L2182.0 1685.5 L2183.0 1672.9 L2184.0 1681.6 L2185.0 1686.5 L2186.0 1682.4 L2187.0 1691.9 L2188.0 1689.1 L2189.0 1676.4 L2190.0 1676.1 L2191.0 1673.5 L2192.0 1660.1 L2193.0 1695.8 L2194.0 1685.1 L2195.0 1668.8 L2196.0 1663.7 L2197.0 1682.1 L2198.0 1677.4 L2199.0 1671.2 L2200.0 1677.9 L2201.0 1688.4 L2202.0 1684.2 L2203.0 1674.9 L2204.0 1685.0 L2205.0 1687.2 L2206.0 1681.5 L2207.0 1681.3 L2208.0 1685.2 L2209.0 1697.8 L2210.0 1681.6 L2211.0 1687.3 L2212.0 1689.8 L2213.0 1693.6 L2214.0 1682.7 L2215.0 1697.1 L2216.0 1676.7 L2217.0 1688.9 L2218.0 1688.9 L2219.0 1683.5 L2220.0 1636.2 L2221.0 1689.1 L2222.0 1688.2 L2223.0 1684.0 L2224.0 1686.0 L2225.0 1678.4 L2226.0 1683.4 L2227.0 1675.2 L2228.0 1685.8 L2229.0 1698.3 L2230.0 1693.8 L2231.0 1684.3 L2232.0 1687.9 L2233.0 1694.7 L2234.0 1680.5 L2235.0 1683.6 L2236.0 1680.9 L2237.0 1693.1 L2238.0 1693.7 L2239.0 1708.3 L2240.0 1682.3 L2241.0 1683.6 L2242.0 1691.1 L2243.0 1685.7 L2244.0 1690.5 L2245.0 1678.7 L2246.0 1689.2 L2247.0 1606.1 L2248.0 1674.6 L2249.0 1692.1 L2250.0 1694.1 L2251.0 1684.2 L2252.0 1693.8 L2253.0 1688.4 L2254.0 1668.1 L2255.0 1686.8 L2256.0 1688.4 L2257.0 1687.1 L2258.0 1696.4 L2259.0 1698.6 L2260.0 1693.8 L2261.0 1688.0 L2262.0 1678.7 L2262.0 1758.6 L2261.0 1827.9 L2260.0 1770.8 L2259.0 1777.1 L2258.0 1768.4 L2257.0 1776.7 L2256.0 1763.2 L2255.0 1822.9 L2254.0 1778.0 L2253.0 1772.5 L2252.0 1774.7 L2251.0 1764.0 L2250.0 1778.7 L2249.0 1774.5 L2248.0 1769.5 L2247.0 1783.8 L2246.0 1777.3 L2245.0 1768.1 L2244.0 1782.7 L2243.0 1769.7 L2242.0 1770.2 L2241.0 1767.1 L2240.0 1764.2 L2239.0 1760.5 L2238.0 1768.7 L2237.0 1799.5 L2236.0 1770.0 L2235.0 1779.5 L2234.0 1782.8 L2233.0 1768.3 L2232.0 1795.1 L2231.0 1775.9 L2230.0 1766.8 L2229.0 1769.9 L2228.0 1769.0 L2227.0 1784.0 L2226.0 1769.3 L2225.0 1764.8 L2224.0 1772.0 L2223.0 1777.9 L2222.0 1773.9 L2221.0 1761.9 L2220.0 1777.5 L2219.0 1779.8 L2218.0 1771.1 L2217.0 1766.8 L2216.0 1764.2 L2215.0 1771.0 L2214.0 1773.2 L2213.0 1751.0 L2212.0 1779.3 L2211.0 1774.7 L2210.0 1769.5 L2209.0 1764.0 L2208.0 1771.1 L2207.0 1778.3 L2206.0 1776.0 L2205.0 1770.9 L2204.0 1771.6 L2203.0 1768.2 L2202.0 1767.4 L2201.0 1769.0 L2200.0 1772.5 L2199.0 1774.2 L2198.0 1774.5 L2197.0 1769.9 L2196.0 1771.7 L2195.0 1766.8 L2194.0 1767.8 L2193.0 1775.0 L2192.0 1776.9 L2191.0 1778.5 L2190.0 1785.4 L2189.0 1760.3 L2188.0 1783.4 L2187.0 1773.9 L2186.0 1788.5 L2185.0 1777.9 L2184.0 1773.1 L2183.0 1775.5 L2182.0 1777.0 L2181.0 1770.8 L2180.0 1772.9 L2179.0 1766.1 L2178.0 1765.9 L2177.0 1777.7 L2176.0 1776.8 L2175.0 1757.8 L2174.0 1770.2 L2173.0 1758.7 L2172.0 1770.6 L2171.0 1779.1 L2170.0 1773.8 L2169.0 1792.7 L2168.0 1763.1 L2167.0 1776.4 L2166.0 1765.5 L2165.0 1767.4 L2164.0 1771.9 L2163.0 1774.7 L2162.0 1784.4 L2161.0 1761.2 L2160.0 1772.7 L2159.0 1786.2 L2158.0 1755.1 L2157.0 1755.4 L2156.0 1783.0 L2155.0 1761.5 L2154.0 1770.6 L2153.0 1762.0 L2152.0 1776.9 L2151.0 1755.9 L2150.0 1761.1 L2149.0 1779.2 L2148.0 1764.1 L2147.0 1764.4 L2146.0 1768.1 L2145.0 1754.5 L2144.0 1755.0 L2143.0 1763.2 L2142.0 1762.8 L2141.0 1760.0 L2140.0 1777.8 L2139.0 1754.8 L2138.0 1772.5 L2137.0 1751.6 L2136.0 1758.8 L2135.0 1767.5 L2134.0 1763.8 L2133.0 1774.6 L2132.0 1762.6 L2131.0 1771.5 L2130.0 1761.7 L2129.0 1775.7 L2128.0 1761.6 L2127.0 1761.2 L2126.0 1773.0 L2125.0 1776.6 L2124.0 1762.7 L2123.0 1753.9 L2122.0 1779.7 L2121.0 1767.4 L2120.0 1772.9 L2119.0 1810.7 L2118.0 1767.9 L2117.0 1753.8 L2116.0 1757.8 L2115.0 1767.9 L2114.0 1765.3 L2113.0 1751.0 L2112.0 1755.1 L2111.0 1772.0 L2110.0 1767.0 L2109.0 1767.6 L2108.0 1756.5 L2107.0 1810.5 L2106.0 1763.3 L2105.0 1763.7 L2104.0 1756.6 L2103.0 1764.1 L2102.0 1762.2 L2101.0 1756.1 L2100.0 1760.4 L2099.0 1758.9 L2098.0 1761.5 L2097.0 1783.9 L2096.0 1765.7 L2095.0 1761.1 L2094.0 1841.8 L2093.0 1758.4 L2092.0 1762.3 L2091.0 1767.0 L2090.0 1802.8 L2089.0 1771.4 L2088.0 1775.1 L2087.0 1775.6 L2086.0 1747.2 L2085.0 1747.1 L2084.0 1766.8 L2083.0 1764.8 L2082.0 1772.8 L2081.0 1746.4 L2080.0 1757.8 L2079.0 1775.2 L2078.0 1757.2 L2077.0 1757.8 L2076.0 1772.3 L2075.0 1753.5 L2074.0 1765.1 L2073.0 1761.2 L2072.0 1756.8 L2071.0 1814.3 L2070.0 1777.6 L2069.0 1764.3 L2068.0 1761.0 L2067.0 1823.6 L2066.0 1777.5 L2065.0 1761.0 L2064.0 1762.0 L2063.0 1761.7 L2062.0 1765.0 L2061.0 1755.7 L2060.0 1754.1 L2059.0 1768.4 L2058.0 1772.3 L2057.0 1749.3 L2056.0 1749.3 L2055.0 1765.9 L2054.0 1757.1 L2053.0 1755.2 L2052.0 1757.3 L2051.0 1768.0 L2050.0 1761.5 L2049.0 1761.5 L2048.0 1751.7 L2047.0 1759.4 L2046.0 1767.6 L2045.0 1756.6 L2044.0 1757.8 L2043.0 1753.8 L2042.0 1761.2 L2041.0 1752.6 L2040.0 1769.3 L2039.0 1760.4 L2038.0 1755.5 L2037.0 1765.9 L2036.0 1733.8 L2035.0 1758.0 L2034.0 1755.4 L2033.0 1753.9 L2032.0 1820.3 L2031.0 1753.7 L2030.0 1759.1 L2029.0 1758.5 L2028.0 1761.2 L2027.0 1767.2 L2026.0 1741.5 L2025.0 1758.7 L2024.0 1779.1 L2023.0 1762.7 L2022.0 1754.0 L2021.0 1748.4 L2020.0 1757.6 L2019.0 1746.9 L2018.0 1755.0 L2017.0 1756.6 L2016.0 1757.8 L2015.0 1761.8 L2014.0 1760.2 L2013.0 1758.9 L2012.0 1746.7 L2011.0 1755.5 L2010.0 1756.1 L2009.0 1758.3 L2008.0 1753.9 L2007.0 1752.3 L2006.0 1751.9 L2005.0 1745.4 L2004.0 1737.9 L2003.0 1743.0 L2002.0 1745.0 L2001.0 1751.8 L2000.0 1757.0 L1999.0 1753.8 L1998.0 1762.5 L1997.0 1760.9 L1996.0 1749.3 L1995.0 1754.9 L1994.0 1748.6 L1993.0 1751.7 L1992.0 1752.5 L1991.0 1741.5 L1990.0 1756.4 L1989.0 1794.5 L1988.0 1753.7 L1987.0 1755.4 L1986.0 1758.2 L1985.0 1772.4 L1984.0 1755.3 L1983.0 1755.5 L1982.0 1744.6 L1981.0 1754.6 L1980.0 1756.1 L1979.0 1743.2 L1978.0 1741.3 L1977.0 1753.4 L1976.0 1753.0 L1975.0 1742.0 L1974.0 1750.0 L1973.0 1763.5 L1972.0 1735.2 L1971.0 1745.7 L1970.0 1753.7 L1969.0 1740.5 L1968.0 1738.5 L1967.0 1760.7 L1966.0 1747.4 L1965.0 1743.6 L1964.0 1753.6 L1963.0 1740.6 L1962.0 1746.3 L1961.0 1755.3 L1960.0 1753.1 L1959.0 1739.0 L1958.0 1729.7 L1957.0 1741.5 L1956.0 1741.9 L1955.0 1744.2 L1954.0 1752.0 L1953.0 1746.8 L1952.0 1748.4 L1951.0 1759.9 L1950.0 1756.9 L1949.0 1727.6 L1948.0 1750.9 L1947.0 1736.4 L1946.0 1733.7 L1945.0 1748.1 L1944.0 1734.4 L1943.0 1765.1 L1942.0 1730.4 L1941.0 1733.3 L1940.0 1749.0 L1939.0 1738.0 L1938.0 1740.0 L1937.0 1744.7 L1936.0 1775.9 L1935.0 1737.2 L1934.0 1746.3 L1933.0 1750.7 L1932.0 1736.9 L1931.0 1746.0 L1930.0 1737.1 L1929.0 1725.5 L1928.0 1782.7 L1927.0 1752.8 L1926.0 1736.3 L1925.0 1731.2 L1924.0 1728.5 L1923.0 1732.5 L1922.0 1734.4 L1921.0 1749.4 L1920.0 1723.7 L1919.0 1720.9 L1918.0 1740.8 L1917.0 1737.8 L1916.0 1736.5 L1915.0 1733.5 L1914.0 1737.8 L1913.0 1799.5 L1912.0 1731.5 L1911.0 1715.1 L1910.0 1728.6 L1909.0 1746.2 L1908.0 1725.1 L1907.0 1742.5 L1906.0 1728.0 L1905.0 1733.6 L1904.0 1733.4 L1903.0 1733.1 L1902.0 1748.1 L1901.0 1719.0 L1900.0 1744.2 L1899.0 1724.7 L1898.0 1735.1 L1897.0 1727.2 L1896.0 1780.7 L1895.0 1725.6 L1894.0 1733.7 L1893.0 1733.9 L1892.0 1736.5 L1891.0 1714.4 L1890.0 1740.2 L1889.0 1741.8 L1888.0 1743.8 L1887.0 1724.2 L1886.0 1749.6 L1885.0 1738.0 L1884.0 1737.6 L1883.0 1720.7 L1882.0 1746.8 L1881.0 1717.2 L1880.0 1717.9 L1879.0 1725.5 L1878.0 1744.5 L1877.0 1744.7 L1876.0 1723.2 L1875.0 1723.7 L1874.0 1731.8 L1873.0 1723.1 L1872.0 1713.4 L1871.0 1730.4 L1870.0 1724.4 L1869.0 1716.4 L1868.0 1728.1 L1867.0 1720.2 L1866.0 1714.4 L1865.0 1725.6 L1864.0 1710.3 L1863.0 1726.5 L1862.0 1720.5 L1861.0 1753.3 L1860.0 1721.7 L1859.0 1724.0 L1858.0 1717.3 L1857.0 1724.1 L1856.0 1720.8 L1855.0 1709.1 L1854.0 1709.8 L1853.0 1724.9 L1852.0 1726.7 L1851.0 1706.7 L1850.0 1707.5 L1849.0 1716.7 L1848.0 1718.7 L1847.0 1721.3 L1846.0 1703.6 L1845.0 1713.6 L1844.0 1714.9 L1843.0 1720.9 L1842.0 1715.9 L1841.0 1723.9 L1840.0 1720.0 L1839.0 1709.3 L1838.0 1707.6 L1837.0 1714.2 L1836.0 1705.1 L1835.0 1703.5 L1834.0 1712.7 L1833.0 1717.2 L1832.0 1714.7 L1831.0 1704.3 L1830.0 1714.2 L1829.0 1712.6 L1828.0 1714.7 L1827.0 1704.5 L1826.0 1697.4 L1825.0 1710.8 L1824.0 1688.3 L1823.0 1695.1 L1822.0 1702.0 L1821.0 1698.6 L1820.0 1700.3 L1819.0 1700.8 L1818.0 1715.2 L1817.0 1705.0 L1816.0 1712.9 L1815.0 1697.3 L1814.0 1712.0 L1813.0 1702.5 L1812.0 1708.6 L1811.0 1712.8 L1810.0 1701.7 L1809.0 1712.9 L1808.0 1701.1 L1807.0 1692.8 L1806.0 1710.3 L1805.0 1701.9 L1804.0 1706.3 L1803.0 1690.3 L1802.0 1681.5 L1801.0 1715.0 L1800.0 1682.4 L1799.0 1692.9 L1798.0 1699.7 L1797.0 1700.5 L1796.0 1694.2 L1795.0 1702.5 L1794.0 1700.3 L1793.0 1700.8 L1792.0 1680.1 L1791.0 1694.5 L1790.0 1677.8 L1789.0 1681.1 L1788.0 1682.6 L1787.0 1676.0 L1786.0 1695.7 L1785.0 1686.0 L1784.0 1691.9 L1783.0 1695.5 L1782.0 1691.6 L1781.0 1686.6 L1780.0 1679.1 L1779.0 1675.9 L1778.0 1685.2 L1777.0 1684.5 L1776.0 1680.5 L1775.0 1686.3 L1774.0 1681.1 L1773.0 1678.6 L1772.0 1681.3 L1771.0 1663.3 L1770.0 1674.3 L1769.0 1674.0 L1768.0 1694.9 L1767.0 1674.6 L1766.0 1679.8 L1765.0 1677.4 L1764.0 1677.7 L1763.0 1707.3 L1762.0 1679.1 L1761.0 1678.4 L1760.0 1665.5 L1759.0 1665.5 L1758.0 1728.3 L1757.0 1669.0 L1756.0 1676.3 L1755.0 1671.1 L1754.0 1725.0 L1753.0 1672.7 L1752.0 1671.6 L1751.0 1659.8 L1750.0 1673.7 L1749.0 1673.6 L1748.0 1701.1 L1747.0 1666.5 L1746.0 1679.1 L1745.0 1664.6 L1744.0 1688.7 L1743.0 1700.7 L1742.0 1680.6 L1741.0 1652.8 L1740.0 1662.9 L1739.0 1695.5 L1738.0 1673.1 L1737.0 1660.0 L1736.0 1647.1 L1735.0 1675.6 L1734.0 1661.2 L1733.0 1649.9 L1732.0 1655.3 L1731.0 1661.4 L1730.0 1657.8 L1729.0 1707.3 L1728.0 1673.7 L1727.0 1656.3 L1726.0 1648.9 L1725.0 1669.1 L1724.0 1653.3 L1723.0 1653.3 L1722.0 1654.1 L1721.0 1672.8 L1720.0 1682.2 L1719.0 1659.6 L1718.0 1654.7 L1717.0 1644.1 L1716.0 1645.8 L1715.0 1654.9 L1714.0 1669.6 L1713.0 1674.1 L1712.0 1651.3 L1711.0 1695.7 L1710.0 1660.0 L1709.0 1637.3 L1708.0 1656.7 L1707.0 1655.4 L1706.0 1648.7 L1705.0 1649.7 L1704.0 1638.0 L1703.0 1682.0 L1702.0 1668.4 L1701.0 1648.3 L1700.0 1648.9 L1699.0 1661.5 L1698.0 1639.5 L1697.0 1648.5 L1696.0 1628.9 L1695.0 1640.3 L1694.0 1645.7 L1693.0 1643.6 L1692.0 1643.2 L1691.0 1637.2 L1690.0 1643.4 L1689.0 1643.6 L1688.0 1627.2 L1687.0 1671.1 L1686.0 1639.1 L1685.0 1635.0 L1684.0 1637.8 L1683.0 1636.4 L1682.0 1649.0 L1681.0 1656.9 L1680.0 1626.8 L1679.0 1633.6 L1678.0 1637.3 L1677.0 1619.3 L1676.0 1642.0 L1675.0 1638.1 L1674.0 1636.7 L1673.0 1636.2 L1672.0 1622.2 L1671.0 1630.4 L1670.0 1626.9 L1669.0 1620.8 L1668.0 1628.8 L1667.0 1621.1 L1666.0 1627.5 L1665.0 1613.4 L1664.0 1620.3 L1663.0 1613.5 L1662.0 1627.8 L1661.0 1625.9 L1660.0 1628.9 L1659.0 1614.9 L1658.0 1613.3 L1657.0 1617.4 L1656.0 1607.4 L1655.0 1614.6 L1654.0 1617.7 L1653.0 1616.5 L1652.0 1602.6 L1651.0 1613.7 L1650.0 1627.8 L1649.0 1605.0 L1648.0 1615.4 L1647.0 1608.2 L1646.0 1603.5 L1645.0 1610.9 L1644.0 1604.5 L1643.0 1596.2 L1642.0 1591.7 L1641.0 1609.2 L1640.0 1607.6 L1639.0 1612.9 L1638.0 1601.5 L1637.0 1614.5 L1636.0 1601.4 L1635.0 1603.4 L1634.0 1591.9 L1633.0 1605.5 L1632.0 1594.0 L1631.0 1598.9 L1630.0 1592.6 L1629.0 1603.7 L1628.0 1600.9 L1627.0 1600.9 L1626.0 1597.5 L1625.0 1594.2 L1624.0 1586.3 L1623.0 1610.1 L1622.0 1590.9 L1621.0 1593.0 L1620.0 1590.9 L1619.0 1579.3 L1618.0 1613.7 L1617.0 1588.3 L1616.0 1582.4 L1615.0 1587.4 L1614.0 1590.1 L1613.0 1582.5 L1612.0 1580.6 L1611.0 1605.0 L1610.0 1573.7 L1609.0 1575.3 L1608.0 1601.6 L1607.0 1576.2 L1606.0 1579.9 L1605.0 1579.8 L1604.0 1580.2 L1603.0 1573.6 L1602.0 1578.6 L1601.0 1568.2 L1600.0 1579.7 L1599.0 1567.6 L1598.0 1569.3 L1597.0 1568.0 L1596.0 1568.8 L1595.0 1579.2 L1594.0 1570.2 L1593.0 1573.9 L1592.0 1561.9 L1591.0 1562.8 L1590.0 1565.9 L1589.0 1558.2 L1588.0 1558.8 L1587.0 1569.2 L1586.0 1564.7 L1585.0 1549.8 L1584.0 1595.8 L1583.0 1580.3 L1582.0 1549.8 L1581.0 1560.6 L1580.0 1563.4 L1579.0 1558.6 L1578.0 1550.5 L1577.0 1541.0 L1576.0 1546.7 L1575.0 1545.1 L1574.0 1552.3 L1573.0 1553.5 L1572.0 1548.4 L1571.0 1542.0 L1570.0 1548.3 L1569.0 1540.4 L1568.0 1536.6 L1567.0 1535.1 L1566.0 1540.9 L1565.0 1543.2 L1564.0 1535.3 L1563.0 1535.8 L1562.0 1533.3 L1561.0 1531.6 L1560.0 1531.0 L1559.0 1528.8 L1558.0 1532.1 L1557.0 1526.9 L1556.0 1523.1 L1555.0 1523.3 L1554.0 1526.7 L1553.0 1532.3 L1552.0 1515.8 L1551.0 1525.2 L1550.0 1519.9 L1549.0 1515.7 L1548.0 1522.6 L1547.0 1512.6 L1546.0 1552.1 L1545.0 1568.8 L1544.0 1514.8 L1543.0 1511.9 L1542.0 1512.0 L1541.0 1526.2 L1540.0 1508.4 L1539.0 1515.7 L1538.0 1515.6 L1537.0 1511.2 L1536.0 1513.8 L1535.0 1501.7 L1534.0 1503.4 L1533.0 1506.1 L1532.0 1506.2 L1531.0 1508.2 L1530.0 1497.9 L1529.0 1509.0 L1528.0 1484.2 L1527.0 1502.1 L1526.0 1495.4 L1525.0 1497.7 L1524.0 1491.7 L1523.0 1493.1 L1522.0 1492.6 L1521.0 1502.4 L1520.0 1483.9 L1519.0 1481.2 L1518.0 1485.5 L1517.0 1494.4 L1516.0 1490.6 L1515.0 1489.3 L1514.0 1488.6 L1513.0 1527.8 L1512.0 1481.5 L1511.0 1486.3 L1510.0 1480.4 L1509.0 1486.3 L1508.0 1475.5 L1507.0 1480.2 L1506.0 1475.6 L1505.0 1480.1 L1504.0 1480.0 L1503.0 1474.5 L1502.0 1482.7 L1501.0 1473.2 L1500.0 1479.8 L1499.0 1472.1 L1498.0 1469.3 L1497.0 1470.1 L1496.0 1466.4 L1495.0 1463.2 L1494.0 1460.2 L1493.0 1461.2 L1492.0 1458.7 L1491.0 1465.4 L1490.0 1466.4 L1489.0 1455.7 L1488.0 1464.5 L1487.0 1456.1 L1486.0 1453.6 L1485.0 1453.9 L1484.0 1456.2 L1483.0 1458.5 L1482.0 1461.8 L1481.0 1454.7 L1480.0 1450.5 L1479.0 1448.8 L1478.0 1446.0 L1477.0 1452.6 L1476.0 1447.8 L1475.0 1441.1 L1474.0 1441.7 L1473.0 1442.8 L1472.0 1444.1 L1471.0 1447.4 L1470.0 1442.2 L1469.0 1442.5 L1468.0 1430.3 L1467.0 1439.3 L1466.0 1432.4 L1465.0 1431.1 L1464.0 1439.7 L1463.0 1435.1 L1462.0 1429.6 L1461.0 1422.8 L1460.0 1420.1 L1459.0 1434.8 L1458.0 1421.8 L1457.0 1423.7 L1456.0 1422.7 L1455.0 1421.4 L1454.0 1418.2 L1453.0 1409.6 L1452.0 1427.2 L1451.0 1408.9 L1450.0 1418.7 L1449.0 1415.7 L1448.0 1412.7 L1447.0 1412.4 L1446.0 1408.3 L1445.0 1415.8 L1444.0 1407.0 L1443.0 1406.4 L1442.0 1405.3 L1441.0 1402.6 L1440.0 1401.5 L1439.0 1398.3 L1438.0 1398.4 L1437.0 1394.5 L1436.0 1396.3 L1435.0 1404.4 L1434.0 1396.1 L1433.0 1389.2 L1432.0 1391.7 L1431.0 1396.2 L1430.0 1392.5 L1429.0 1389.7 L1428.0 1383.3 L1427.0 1383.2 L1426.0 1382.0 L1425.0 1380.1 L1424.0 1379.2 L1423.0 1375.1 L1422.0 1369.5 L1421.0 1371.6 L1420.0 1369.5 L1419.0 1368.5 L1418.0 1366.4 L1417.0 1363.5 L1416.0 1364.5 L1415.0 1353.4 L1414.0 1358.3 L1413.0 1356.0 L1412.0 1348.3 L1411.0 1353.1 L1410.0 1349.3 L1409.0 1349.6 L1408.0 1346.4 L1407.0 1341.5 L1406.0 1337.0 L1405.0 1340.0 L1404.0 1337.5 L1403.0 1331.5 L1402.0 1338.4 L1401.0 1326.9 L1400.0 1330.2 L1399.0 1324.5 L1398.0 1327.2 L1397.0 1322.7 L1396.0 1321.1 L1395.0 1317.8 L1394.0 1320.0 L1393.0 1317.1 L1392.0 1324.7 L1391.0 1305.7 L1390.0 1315.6 L1389.0 1306.7 L1388.0 1303.2 L1387.0 1298.3 L1386.0 1299.9 L1385.0 1309.4 L1384.0 1292.5 L1383.0 1294.7 L1382.0 1291.4 L1381.0 1282.6 L1380.0 1281.5 L1379.0 1281.1 L1378.0 1283.0 L1377.0 1292.0 L1376.0 1281.5 L1375.0 1275.9 L1374.0 1268.7 L1373.0 1263.8 L1372.0 1261.6 L1371.0 1256.5 L1370.0 1258.9 L1369.0 1254.6 L1368.0 1271.0 L1367.0 1248.6 L1366.0 1247.1 L1365.0 1242.2 L1364.0 1241.8 L1363.0 1236.7 L1362.0 1234.6 L1361.0 1225.3 L1360.0 1223.0 L1359.0 1213.5 L1358.0 1202.0 L1357.0 1198.5 L1356.0 1186.4 L1355.0 1174.7 L1354.3 1969.0 L1353.5 1969.0 L1352.5 1787.3 L1351.5 1747.0 L1350.5 1743.6 L1349.5 1833.2 L1348.5 1809.3 L1347.5 1829.4 L1346.5 1774.1 L1345.5 1776.3 L1344.5 1821.0 L1343.5 1794.9 L1342.5 1820.8 L1341.5 1764.8 L1340.5 1775.6Z" fill="#0F67A4" stroke="#0F67A4" stroke-width="1" stroke-linejoin="round"/></g>
<rect x="1335.80" y="1151.30" width="932.40" height="8.50" fill="#000"/>
<rect x="1335.80" y="1949.00" width="932.40" height="7.30" fill="#000"/>
<rect x="1335.80" y="1151.30" width="5.50" height="805.00" fill="#000"/>
<rect x="2261.20" y="1151.30" width="7.00" height="805.00" fill="#000"/>
<line x1="1343.3" y1="1160" x2="1343.3" y2="1949" stroke="#000" stroke-width="2.6" stroke-dasharray="5 9"/>
<rect x="1341.00" y="1174.30" width="10.00" height="6.00" fill="#000"/>
<rect x="1341.00" y="1461.80" width="10.00" height="6.00" fill="#000"/>
<rect x="1520.70" y="1937.50" width="7.00" height="12.00" fill="#000"/>
<rect x="1428.10" y="1945.50" width="7.00" height="4.00" fill="#000"/>
<line x1="1884.00" y1="1206.80" x2="2000.40" y2="1206.80" stroke="#FF0000" stroke-width="4.6" stroke-linecap="butt"/>
<line x1="1884.00" y1="1273.10" x2="2000.40" y2="1273.10" stroke="#0F67A4" stroke-width="4.6" stroke-linecap="butt"/>
<line x1="1884.00" y1="1350.80" x2="2000.40" y2="1350.80" stroke="#FFCC00" stroke-width="4.6" stroke-linecap="butt"/>
<line x1="1884.00" y1="1414.90" x2="2000.40" y2="1414.90" stroke="#00C628" stroke-width="4.6" stroke-linecap="butt"/>
<text transform="translate(2012.13 1225.70) scale(0.5212 0.5913)" font-weight="normal" fill="#000">Pristine</text>
<text transform="translate(2013.74 1290.50) scale(0.5113 0.5783)" font-weight="normal" fill="#000">QD/SiO</text>
<text transform="translate(2187.76 1306.40) scale(0.3674 0.3843)" font-weight="normal" fill="#000">2</text>
<text transform="translate(2012.11 1368.10) scale(0.5232 0.5768)" font-weight="normal" fill="#000">P2-2</text>
<text transform="translate(2012.19 1433.80) scale(0.5142 0.5768)" font-weight="normal" fill="#000">P2-2/SiO</text>
<text transform="translate(1202.75 1196.30) scale(0.7907 0.8096)" font-weight="bold" fill="#000">(d)</text>
<text transform="translate(1323.11 2010.86) scale(0.5729 0.5437)" font-weight="normal" fill="#000">0</text>
<text transform="translate(1490.07 2010.86) scale(0.5853 0.5437)" font-weight="normal" fill="#000">20</text>
<text transform="translate(1678.49 2010.86) scale(0.5533 0.5437)" font-weight="normal" fill="#000">40</text>
<text transform="translate(1860.02 2010.86) scale(0.5961 0.5437)" font-weight="normal" fill="#000">60</text>
<text transform="translate(2048.44 2010.86) scale(0.5641 0.5437)" font-weight="normal" fill="#000">80</text>
<text transform="translate(2217.89 2010.86) scale(0.5632 0.5437)" font-weight="normal" fill="#000">100</text>
<text transform="translate(1649.81 2112.60) scale(0.6888 0.7609)" font-weight="bold" fill="#000">Time (ns)</text>
<text transform="translate(1264.10 1856.18) rotate(-90) scale(0.7257 0.7420)" font-weight="bold">PL Intensity (a.u.)</text></svg>
</body></html>
